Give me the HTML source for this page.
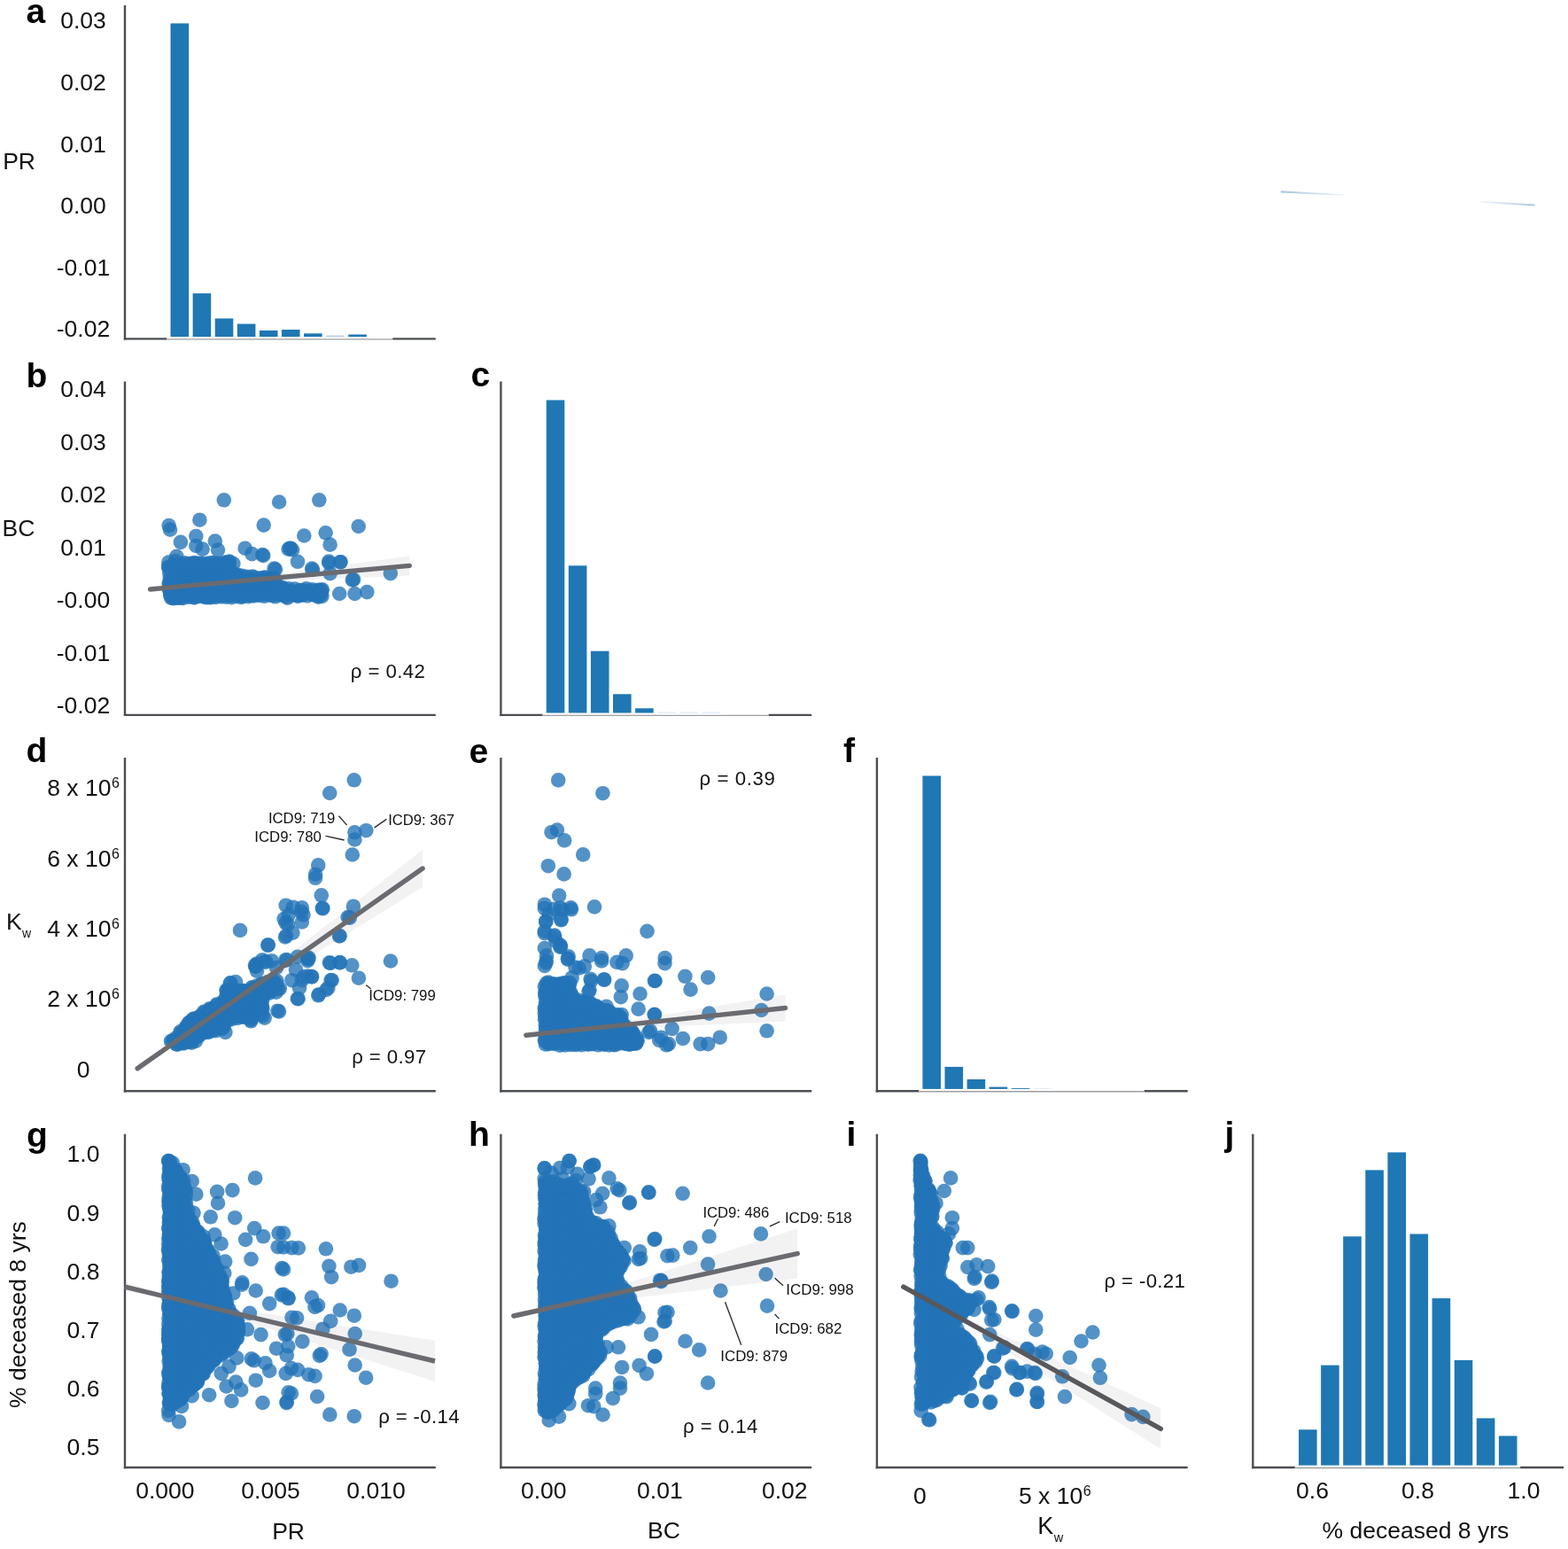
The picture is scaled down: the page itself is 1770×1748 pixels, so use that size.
<!DOCTYPE html>
<html><head><meta charset="utf-8"><style>
html,body{margin:0;padding:0;background:#fff;}
svg{display:block;}
text{font-family:'Liberation Sans', Arial, sans-serif;fill:#111;}
</style></head><body>
<svg width="1770" height="1748" viewBox="0 0 1770 1748">
<rect width="1770" height="1748" fill="#fff"/>
<line x1="141.0" y1="6.1" x2="141.0" y2="383.6" stroke="#4b4e53" stroke-width="2.4"/>
<line x1="139.8" y1="382.4" x2="188.3" y2="382.4" stroke="#4b4e53" stroke-width="2.4"/>
<line x1="443.2" y1="382.4" x2="491.8" y2="382.4" stroke="#4b4e53" stroke-width="2.4"/>
<line x1="188.3" y1="382.9" x2="443.2" y2="382.9" stroke="#9c9ea1" stroke-width="1.4"/>
<rect x="192.5" y="26.4" width="20.6" height="353.6" fill="#1f77b4"/>
<rect x="217.6" y="331.1" width="20.6" height="48.9" fill="#1f77b4"/>
<rect x="242.7" y="359.4" width="20.6" height="20.6" fill="#1f77b4"/>
<rect x="267.8" y="365.5" width="20.6" height="14.5" fill="#1f77b4"/>
<rect x="292.9" y="372.9" width="20.6" height="7.1" fill="#1f77b4"/>
<rect x="317.9" y="372.0" width="20.6" height="8.0" fill="#1f77b4"/>
<rect x="343.0" y="376.3" width="20.6" height="3.7" fill="#1f77b4"/>
<rect x="368.1" y="378.6" width="20.6" height="1.4" fill="#b3cde6"/>
<rect x="393.2" y="377.5" width="20.6" height="2.5" fill="#1f77b4"/>
<line x1="141.0" y1="430.6" x2="141.0" y2="808.1" stroke="#4b4e53" stroke-width="2.4"/>
<line x1="139.8" y1="806.9" x2="491.8" y2="806.9" stroke="#4b4e53" stroke-width="2.4"/>
<line x1="565.4" y1="430.6" x2="565.4" y2="808.1" stroke="#4b4e53" stroke-width="2.4"/>
<line x1="564.2" y1="806.9" x2="612.5" y2="806.9" stroke="#4b4e53" stroke-width="2.4"/>
<line x1="867.6" y1="806.9" x2="916.2" y2="806.9" stroke="#4b4e53" stroke-width="2.4"/>
<line x1="612.5" y1="807.4" x2="867.6" y2="807.4" stroke="#9c9ea1" stroke-width="1.4"/>
<rect x="616.7" y="451.5" width="20.6" height="353.0" fill="#1f77b4"/>
<rect x="641.8" y="638.3" width="20.6" height="166.2" fill="#1f77b4"/>
<rect x="666.9" y="734.7" width="20.6" height="69.8" fill="#1f77b4"/>
<rect x="692.0" y="783.3" width="20.6" height="21.2" fill="#1f77b4"/>
<rect x="717.1" y="799.3" width="20.6" height="5.2" fill="#1f77b4"/>
<rect x="742.2" y="803.6" width="20.6" height="0.9" fill="#cfe0f0"/>
<rect x="767.3" y="803.6" width="20.6" height="0.9" fill="#cfe0f0"/>
<rect x="792.4" y="803.6" width="20.6" height="0.9" fill="#cfe0f0"/>
<line x1="141.0" y1="855.0" x2="141.0" y2="1232.5" stroke="#4b4e53" stroke-width="2.4"/>
<line x1="139.8" y1="1231.3" x2="491.8" y2="1231.3" stroke="#4b4e53" stroke-width="2.4"/>
<line x1="565.4" y1="855.0" x2="565.4" y2="1232.5" stroke="#4b4e53" stroke-width="2.4"/>
<line x1="564.2" y1="1231.3" x2="916.2" y2="1231.3" stroke="#4b4e53" stroke-width="2.4"/>
<line x1="989.9" y1="855.0" x2="989.9" y2="1232.5" stroke="#4b4e53" stroke-width="2.4"/>
<line x1="988.7" y1="1231.3" x2="1037.2" y2="1231.3" stroke="#4b4e53" stroke-width="2.4"/>
<line x1="1291.8" y1="1231.3" x2="1340.7" y2="1231.3" stroke="#4b4e53" stroke-width="2.4"/>
<line x1="1037.2" y1="1231.8" x2="1291.8" y2="1231.8" stroke="#9c9ea1" stroke-width="1.4"/>
<rect x="1041.4" y="875.5" width="20.6" height="353.4" fill="#1f77b4"/>
<rect x="1066.5" y="1203.9" width="20.6" height="25.0" fill="#1f77b4"/>
<rect x="1091.6" y="1218.0" width="20.6" height="10.9" fill="#1f77b4"/>
<rect x="1116.6" y="1226.6" width="20.6" height="2.3" fill="#1f77b4"/>
<rect x="1141.7" y="1228.0" width="20.6" height="0.9" fill="#1f77b4"/>
<rect x="1166.8" y="1228.2" width="20.6" height="0.7" fill="#d6e3f0"/>
<line x1="141.0" y1="1279.7" x2="141.0" y2="1657.2" stroke="#4b4e53" stroke-width="2.4"/>
<line x1="139.8" y1="1656.0" x2="491.8" y2="1656.0" stroke="#4b4e53" stroke-width="2.4"/>
<line x1="565.4" y1="1279.7" x2="565.4" y2="1657.2" stroke="#4b4e53" stroke-width="2.4"/>
<line x1="564.2" y1="1656.0" x2="916.2" y2="1656.0" stroke="#4b4e53" stroke-width="2.4"/>
<line x1="989.9" y1="1279.7" x2="989.9" y2="1657.2" stroke="#4b4e53" stroke-width="2.4"/>
<line x1="988.7" y1="1656.0" x2="1340.7" y2="1656.0" stroke="#4b4e53" stroke-width="2.4"/>
<line x1="1414.3" y1="1279.7" x2="1414.3" y2="1657.2" stroke="#4b4e53" stroke-width="2.4"/>
<line x1="1413.1" y1="1656.0" x2="1461.8" y2="1656.0" stroke="#4b4e53" stroke-width="2.4"/>
<line x1="1716.1" y1="1656.0" x2="1765.1" y2="1656.0" stroke="#4b4e53" stroke-width="2.4"/>
<line x1="1461.8" y1="1656.5" x2="1716.1" y2="1656.5" stroke="#9c9ea1" stroke-width="1.4"/>
<rect x="1466.0" y="1613.3" width="20.6" height="40.3" fill="#1f77b4"/>
<rect x="1491.1" y="1540.6" width="20.6" height="113.0" fill="#1f77b4"/>
<rect x="1516.2" y="1395.3" width="20.6" height="258.3" fill="#1f77b4"/>
<rect x="1541.3" y="1320.4" width="20.6" height="333.2" fill="#1f77b4"/>
<rect x="1566.4" y="1300.4" width="20.6" height="353.2" fill="#1f77b4"/>
<rect x="1591.5" y="1392.5" width="20.6" height="261.1" fill="#1f77b4"/>
<rect x="1616.6" y="1465.1" width="20.6" height="188.5" fill="#1f77b4"/>
<rect x="1641.7" y="1534.9" width="20.6" height="118.7" fill="#1f77b4"/>
<rect x="1666.8" y="1600.4" width="20.6" height="53.2" fill="#1f77b4"/>
<rect x="1691.9" y="1620.4" width="20.6" height="33.2" fill="#1f77b4"/>
<text x="94.0" y="32.3" font-size="26.5" text-anchor="middle" font-weight="normal" >0.03</text>
<text x="94.0" y="101.9" font-size="26.5" text-anchor="middle" font-weight="normal" >0.02</text>
<text x="94.0" y="171.5" font-size="26.5" text-anchor="middle" font-weight="normal" >0.01</text>
<text x="94.0" y="241.2" font-size="26.5" text-anchor="middle" font-weight="normal" >0.00</text>
<text x="94.0" y="310.8" font-size="26.5" text-anchor="middle" font-weight="normal" >-0.01</text>
<text x="94.0" y="380.4" font-size="26.5" text-anchor="middle" font-weight="normal" >-0.02</text>
<text x="94.0" y="448.0" font-size="26.5" text-anchor="middle" font-weight="normal" >0.04</text>
<text x="94.0" y="507.6" font-size="26.5" text-anchor="middle" font-weight="normal" >0.03</text>
<text x="94.0" y="567.1" font-size="26.5" text-anchor="middle" font-weight="normal" >0.02</text>
<text x="94.0" y="626.7" font-size="26.5" text-anchor="middle" font-weight="normal" >0.01</text>
<text x="94.0" y="686.3" font-size="26.5" text-anchor="middle" font-weight="normal" >-0.00</text>
<text x="94.0" y="745.9" font-size="26.5" text-anchor="middle" font-weight="normal" >-0.01</text>
<text x="94.0" y="805.4" font-size="26.5" text-anchor="middle" font-weight="normal" >-0.02</text>
<text x="94.0" y="1311.4" font-size="26.5" text-anchor="middle" font-weight="normal" >1.0</text>
<text x="94.0" y="1377.6" font-size="26.5" text-anchor="middle" font-weight="normal" >0.9</text>
<text x="94.0" y="1443.8" font-size="26.5" text-anchor="middle" font-weight="normal" >0.8</text>
<text x="94.0" y="1510.0" font-size="26.5" text-anchor="middle" font-weight="normal" >0.7</text>
<text x="94.0" y="1576.2" font-size="26.5" text-anchor="middle" font-weight="normal" >0.6</text>
<text x="94.0" y="1642.4" font-size="26.5" text-anchor="middle" font-weight="normal" >0.5</text>
<text x="94.0" y="898.2" font-size="26.5" text-anchor="middle">8 x 10<tspan font-size="16" dy="-9" dx="0.5">6</tspan></text>
<text x="94.0" y="977.6" font-size="26.5" text-anchor="middle">6 x 10<tspan font-size="16" dy="-9" dx="0.5">6</tspan></text>
<text x="94.0" y="1056.7" font-size="26.5" text-anchor="middle">4 x 10<tspan font-size="16" dy="-9" dx="0.5">6</tspan></text>
<text x="94.0" y="1136.3" font-size="26.5" text-anchor="middle">2 x 10<tspan font-size="16" dy="-9" dx="0.5">6</tspan></text>
<text x="94.0" y="1215.5" font-size="26.5" text-anchor="middle" font-weight="normal" >0</text>
<text x="186.4" y="1690.6" font-size="26.5" text-anchor="middle" font-weight="normal" >0.000</text>
<text x="305.5" y="1690.6" font-size="26.5" text-anchor="middle" font-weight="normal" >0.005</text>
<text x="424.5" y="1690.6" font-size="26.5" text-anchor="middle" font-weight="normal" >0.010</text>
<text x="613.8" y="1690.6" font-size="26.5" text-anchor="middle" font-weight="normal" >0.00</text>
<text x="744.9" y="1690.6" font-size="26.5" text-anchor="middle" font-weight="normal" >0.01</text>
<text x="885.7" y="1690.6" font-size="26.5" text-anchor="middle" font-weight="normal" >0.02</text>
<text x="1481.5" y="1690.6" font-size="26.5" text-anchor="middle" font-weight="normal" >0.6</text>
<text x="1600.5" y="1690.6" font-size="26.5" text-anchor="middle" font-weight="normal" >0.8</text>
<text x="1720.0" y="1690.6" font-size="26.5" text-anchor="middle" font-weight="normal" >1.0</text>
<text x="1038.3" y="1696.5" font-size="26.5" text-anchor="middle" font-weight="normal" >0</text>
<text x="1150.0" y="1696.5" font-size="26.5">5 x 10<tspan font-size="16" dy="-9" dx="0.5">6</tspan></text>
<text x="3.2" y="191.0" font-size="26.5" text-anchor="start" font-weight="normal" >PR</text>
<text x="2.5" y="604.8" font-size="26.5" text-anchor="start" font-weight="normal" >BC</text>
<text x="7.0" y="1049.3" font-size="26.5">K<tspan font-size="14" dy="8.4" dx="0.3">w</tspan></text>
<text transform="translate(29.2,1483.6) rotate(-90)" font-size="26.5" text-anchor="middle">% deceased 8 yrs</text>
<text x="325.6" y="1736.6" font-size="26.5" text-anchor="middle" font-weight="normal" >PR</text>
<text x="749.4" y="1736.3" font-size="26.5" text-anchor="middle" font-weight="normal" >BC</text>
<text x="1171.2" y="1731.3" font-size="27">K<tspan font-size="14.5" dy="8.2" dx="0.6">w</tspan></text>
<text x="1597.9" y="1735.8" font-size="26.5" text-anchor="middle" font-weight="normal" >% deceased 8 yrs</text>
<text x="29.5" y="26.4" font-size="39" text-anchor="start" font-weight="bold" style="fill:#000">a</text>
<text x="29.5" y="436.7" font-size="39" text-anchor="start" font-weight="bold" style="fill:#000">b</text>
<text x="531.5" y="435.8" font-size="39" text-anchor="start" font-weight="bold" style="fill:#000">c</text>
<text x="29.5" y="859.5" font-size="39" text-anchor="start" font-weight="bold" style="fill:#000">d</text>
<text x="529.5" y="860.8" font-size="39" text-anchor="start" font-weight="bold" style="fill:#000">e</text>
<text x="952.0" y="859.5" font-size="39" text-anchor="start" font-weight="bold" style="fill:#000">f</text>
<text x="30.0" y="1294.0" font-size="39" text-anchor="start" font-weight="bold" style="fill:#000">g</text>
<text x="529.0" y="1292.7" font-size="39" text-anchor="start" font-weight="bold" style="fill:#000">h</text>
<text x="955.5" y="1292.7" font-size="39" text-anchor="start" font-weight="bold" style="fill:#000">i</text>
<text x="1382.5" y="1292.7" font-size="39" text-anchor="start" font-weight="bold" style="fill:#000">j</text>
<text x="395.8" y="764.6" font-size="22.2" textLength="84.1" lengthAdjust="spacing">ρ = 0.42</text>
<text x="397.2" y="1199.5" font-size="22.2" textLength="84.0" lengthAdjust="spacing">ρ = 0.97</text>
<text x="789.6" y="886.0" font-size="22.2" textLength="85.2" lengthAdjust="spacing">ρ = 0.39</text>
<text x="427.2" y="1606.3" font-size="22.2" textLength="91.4" lengthAdjust="spacing">ρ = -0.14</text>
<text x="771.1" y="1617.2" font-size="22.2" textLength="84.2" lengthAdjust="spacing">ρ = 0.14</text>
<text x="1246.6" y="1453.3" font-size="22.2" textLength="91.3" lengthAdjust="spacing">ρ = -0.21</text>
<g fill="#2373b7" fill-opacity="0.78">
<circle cx="206.0" cy="636.4" r="8.3"/><circle cx="215.1" cy="636.4" r="8.3"/><circle cx="219.1" cy="635.0" r="8.3"/><circle cx="226.6" cy="635.5" r="8.3"/><circle cx="235.3" cy="635.5" r="8.3"/><circle cx="240.4" cy="635.0" r="8.3"/><circle cx="245.0" cy="636.1" r="8.3"/><circle cx="253.6" cy="634.5" r="8.3"/><circle cx="197.5" cy="639.3" r="8.3"/><circle cx="199.3" cy="638.5" r="8.3"/><circle cx="204.2" cy="640.2" r="8.3"/><circle cx="208.3" cy="640.7" r="8.3"/><circle cx="213.6" cy="640.9" r="8.3"/><circle cx="219.7" cy="638.9" r="8.3"/><circle cx="222.3" cy="639.4" r="8.3"/><circle cx="226.3" cy="640.0" r="8.3"/><circle cx="230.6" cy="638.0" r="8.3"/><circle cx="237.9" cy="638.9" r="8.3"/><circle cx="241.3" cy="639.3" r="8.3"/><circle cx="244.9" cy="638.2" r="8.3"/><circle cx="251.2" cy="640.9" r="8.3"/><circle cx="255.9" cy="638.3" r="8.3"/><circle cx="258.1" cy="639.9" r="8.3"/><circle cx="192.7" cy="642.6" r="8.3"/><circle cx="195.4" cy="645.2" r="8.3"/><circle cx="201.4" cy="645.2" r="8.3"/><circle cx="206.0" cy="644.7" r="8.3"/><circle cx="210.1" cy="643.0" r="8.3"/><circle cx="213.8" cy="643.0" r="8.3"/><circle cx="219.1" cy="644.5" r="8.3"/><circle cx="222.3" cy="642.7" r="8.3"/><circle cx="228.9" cy="644.9" r="8.3"/><circle cx="232.1" cy="644.1" r="8.3"/><circle cx="237.6" cy="643.9" r="8.3"/><circle cx="240.7" cy="643.5" r="8.3"/><circle cx="244.8" cy="642.6" r="8.3"/><circle cx="250.4" cy="643.8" r="8.3"/><circle cx="254.7" cy="642.7" r="8.3"/><circle cx="258.6" cy="642.9" r="8.3"/><circle cx="196.9" cy="648.9" r="8.3"/><circle cx="199.8" cy="649.7" r="8.3"/><circle cx="206.4" cy="647.4" r="8.3"/><circle cx="210.3" cy="649.5" r="8.3"/><circle cx="214.5" cy="649.1" r="8.3"/><circle cx="218.3" cy="649.8" r="8.3"/><circle cx="224.4" cy="648.1" r="8.3"/><circle cx="228.4" cy="648.3" r="8.3"/><circle cx="231.0" cy="648.0" r="8.3"/><circle cx="235.4" cy="649.7" r="8.3"/><circle cx="242.4" cy="647.4" r="8.3"/><circle cx="245.8" cy="648.2" r="8.3"/><circle cx="248.9" cy="647.9" r="8.3"/><circle cx="253.7" cy="649.2" r="8.3"/><circle cx="257.5" cy="647.6" r="8.3"/><circle cx="263.3" cy="647.1" r="8.3"/><circle cx="268.4" cy="648.8" r="8.3"/><circle cx="193.0" cy="652.9" r="8.3"/><circle cx="197.0" cy="652.7" r="8.3"/><circle cx="201.2" cy="654.5" r="8.3"/><circle cx="204.4" cy="652.0" r="8.3"/><circle cx="209.9" cy="653.1" r="8.3"/><circle cx="213.6" cy="651.5" r="8.3"/><circle cx="218.2" cy="652.8" r="8.3"/><circle cx="222.7" cy="654.1" r="8.3"/><circle cx="227.8" cy="653.7" r="8.3"/><circle cx="233.2" cy="653.7" r="8.3"/><circle cx="236.5" cy="653.7" r="8.3"/><circle cx="241.4" cy="653.4" r="8.3"/><circle cx="245.9" cy="652.7" r="8.3"/><circle cx="250.4" cy="653.4" r="8.3"/><circle cx="255.8" cy="653.8" r="8.3"/><circle cx="260.0" cy="653.8" r="8.3"/><circle cx="264.4" cy="653.3" r="8.3"/><circle cx="267.5" cy="652.3" r="8.3"/><circle cx="273.1" cy="654.1" r="8.3"/><circle cx="277.1" cy="652.0" r="8.3"/><circle cx="282.5" cy="653.0" r="8.3"/><circle cx="285.9" cy="651.6" r="8.3"/><circle cx="290.5" cy="653.7" r="8.3"/><circle cx="294.8" cy="652.6" r="8.3"/><circle cx="300.0" cy="651.6" r="8.3"/><circle cx="304.0" cy="654.3" r="8.3"/><circle cx="309.1" cy="652.7" r="8.3"/><circle cx="191.3" cy="658.3" r="8.3"/><circle cx="196.9" cy="656.6" r="8.3"/><circle cx="200.9" cy="656.5" r="8.3"/><circle cx="206.4" cy="657.3" r="8.3"/><circle cx="210.7" cy="658.2" r="8.3"/><circle cx="214.3" cy="656.8" r="8.3"/><circle cx="218.6" cy="656.4" r="8.3"/><circle cx="221.9" cy="658.1" r="8.3"/><circle cx="227.1" cy="658.3" r="8.3"/><circle cx="231.2" cy="658.2" r="8.3"/><circle cx="237.2" cy="656.9" r="8.3"/><circle cx="239.8" cy="657.2" r="8.3"/><circle cx="245.5" cy="656.3" r="8.3"/><circle cx="249.1" cy="656.2" r="8.3"/><circle cx="254.8" cy="658.7" r="8.3"/><circle cx="258.1" cy="656.1" r="8.3"/><circle cx="264.1" cy="658.4" r="8.3"/><circle cx="269.4" cy="657.8" r="8.3"/><circle cx="272.0" cy="658.5" r="8.3"/><circle cx="275.9" cy="658.1" r="8.3"/><circle cx="280.3" cy="657.2" r="8.3"/><circle cx="286.0" cy="657.1" r="8.3"/><circle cx="289.5" cy="656.7" r="8.3"/><circle cx="296.0" cy="657.4" r="8.3"/><circle cx="299.7" cy="656.6" r="8.3"/><circle cx="304.6" cy="657.0" r="8.3"/><circle cx="308.8" cy="658.7" r="8.3"/><circle cx="192.1" cy="663.0" r="8.3"/><circle cx="196.5" cy="661.7" r="8.3"/><circle cx="200.9" cy="663.4" r="8.3"/><circle cx="205.4" cy="661.2" r="8.3"/><circle cx="208.2" cy="663.3" r="8.3"/><circle cx="214.3" cy="661.5" r="8.3"/><circle cx="218.8" cy="662.2" r="8.3"/><circle cx="223.1" cy="660.7" r="8.3"/><circle cx="227.1" cy="661.7" r="8.3"/><circle cx="231.1" cy="663.1" r="8.3"/><circle cx="236.3" cy="662.5" r="8.3"/><circle cx="241.6" cy="662.7" r="8.3"/><circle cx="246.2" cy="662.8" r="8.3"/><circle cx="249.3" cy="663.4" r="8.3"/><circle cx="253.5" cy="663.3" r="8.3"/><circle cx="260.1" cy="663.1" r="8.3"/><circle cx="262.2" cy="660.8" r="8.3"/><circle cx="268.9" cy="661.9" r="8.3"/><circle cx="272.1" cy="663.5" r="8.3"/><circle cx="275.6" cy="662.1" r="8.3"/><circle cx="281.3" cy="660.9" r="8.3"/><circle cx="285.7" cy="662.6" r="8.3"/><circle cx="291.6" cy="660.6" r="8.3"/><circle cx="295.1" cy="660.8" r="8.3"/><circle cx="300.4" cy="660.8" r="8.3"/><circle cx="302.6" cy="661.7" r="8.3"/><circle cx="309.2" cy="661.4" r="8.3"/><circle cx="311.9" cy="662.9" r="8.3"/><circle cx="318.4" cy="663.1" r="8.3"/><circle cx="192.0" cy="665.9" r="8.3"/><circle cx="195.4" cy="666.1" r="8.3"/><circle cx="200.0" cy="667.2" r="8.3"/><circle cx="205.0" cy="666.6" r="8.3"/><circle cx="208.4" cy="667.7" r="8.3"/><circle cx="213.5" cy="666.0" r="8.3"/><circle cx="217.2" cy="667.9" r="8.3"/><circle cx="222.9" cy="667.7" r="8.3"/><circle cx="228.8" cy="667.9" r="8.3"/><circle cx="232.9" cy="667.8" r="8.3"/><circle cx="237.8" cy="667.4" r="8.3"/><circle cx="239.9" cy="666.6" r="8.3"/><circle cx="245.7" cy="668.0" r="8.3"/><circle cx="250.9" cy="667.1" r="8.3"/><circle cx="255.2" cy="666.1" r="8.3"/><circle cx="260.3" cy="666.9" r="8.3"/><circle cx="263.2" cy="666.4" r="8.3"/><circle cx="269.4" cy="666.6" r="8.3"/><circle cx="271.5" cy="665.4" r="8.3"/><circle cx="277.6" cy="666.7" r="8.3"/><circle cx="282.7" cy="665.6" r="8.3"/><circle cx="285.7" cy="667.2" r="8.3"/><circle cx="289.2" cy="665.3" r="8.3"/><circle cx="295.1" cy="665.8" r="8.3"/><circle cx="298.3" cy="665.8" r="8.3"/><circle cx="304.4" cy="666.6" r="8.3"/><circle cx="307.2" cy="665.2" r="8.3"/><circle cx="314.1" cy="666.9" r="8.3"/><circle cx="316.5" cy="667.6" r="8.3"/><circle cx="320.6" cy="666.1" r="8.3"/><circle cx="327.5" cy="667.1" r="8.3"/><circle cx="330.4" cy="667.7" r="8.3"/><circle cx="335.8" cy="667.6" r="8.3"/><circle cx="341.2" cy="666.3" r="8.3"/><circle cx="345.0" cy="666.6" r="8.3"/><circle cx="350.3" cy="667.4" r="8.3"/><circle cx="354.2" cy="667.4" r="8.3"/><circle cx="359.5" cy="665.8" r="8.3"/><circle cx="361.6" cy="667.2" r="8.3"/><circle cx="192.6" cy="670.9" r="8.3"/><circle cx="195.1" cy="670.4" r="8.3"/><circle cx="201.1" cy="669.5" r="8.3"/><circle cx="203.9" cy="670.4" r="8.3"/><circle cx="210.7" cy="671.7" r="8.3"/><circle cx="215.4" cy="671.1" r="8.3"/><circle cx="218.7" cy="671.2" r="8.3"/><circle cx="223.1" cy="671.1" r="8.3"/><circle cx="228.5" cy="672.4" r="8.3"/><circle cx="231.7" cy="671.4" r="8.3"/><circle cx="235.9" cy="670.4" r="8.3"/><circle cx="241.0" cy="671.3" r="8.3"/><circle cx="245.6" cy="672.4" r="8.3"/><circle cx="249.0" cy="671.4" r="8.3"/><circle cx="256.0" cy="671.7" r="8.3"/><circle cx="259.2" cy="670.6" r="8.3"/><circle cx="263.2" cy="672.3" r="8.3"/><circle cx="269.2" cy="671.5" r="8.3"/><circle cx="273.7" cy="672.3" r="8.3"/><circle cx="278.0" cy="670.7" r="8.3"/><circle cx="281.4" cy="671.9" r="8.3"/><circle cx="285.6" cy="671.7" r="8.3"/><circle cx="290.4" cy="670.5" r="8.3"/><circle cx="294.9" cy="669.8" r="8.3"/><circle cx="299.1" cy="670.7" r="8.3"/><circle cx="302.6" cy="670.0" r="8.3"/><circle cx="307.8" cy="672.1" r="8.3"/><circle cx="313.3" cy="670.4" r="8.3"/><circle cx="319.0" cy="670.3" r="8.3"/><circle cx="322.0" cy="671.7" r="8.3"/><circle cx="327.1" cy="670.8" r="8.3"/><circle cx="331.8" cy="671.0" r="8.3"/><circle cx="336.1" cy="671.0" r="8.3"/><circle cx="341.4" cy="671.6" r="8.3"/><circle cx="343.3" cy="669.9" r="8.3"/><circle cx="350.4" cy="670.2" r="8.3"/><circle cx="352.1" cy="670.3" r="8.3"/><circle cx="357.9" cy="672.4" r="8.3"/><circle cx="362.2" cy="671.7" r="8.3"/><circle cx="192.9" cy="674.3" r="8.3"/><circle cx="196.2" cy="675.3" r="8.3"/><circle cx="201.0" cy="674.4" r="8.3"/><circle cx="204.3" cy="674.8" r="8.3"/><circle cx="219.0" cy="674.3" r="8.3"/><circle cx="233.2" cy="674.3" r="8.3"/><circle cx="237.6" cy="674.3" r="8.3"/><circle cx="272.5" cy="674.0" r="8.3"/><circle cx="195.2" cy="637.6" r="8.3"/><circle cx="201.6" cy="637.4" r="8.3"/><circle cx="208.4" cy="635.3" r="8.3"/><circle cx="214.1" cy="636.0" r="8.3"/><circle cx="220.9" cy="635.6" r="8.3"/><circle cx="226.7" cy="636.3" r="8.3"/><circle cx="233.6" cy="636.4" r="8.3"/><circle cx="240.1" cy="635.5" r="8.3"/><circle cx="246.3" cy="635.8" r="8.3"/><circle cx="252.5" cy="636.1" r="8.3"/><circle cx="258.8" cy="633.6" r="8.3"/><circle cx="258.6" cy="634.3" r="8.3"/><circle cx="259.3" cy="641.7" r="8.3"/><circle cx="267.3" cy="649.9" r="8.3"/><circle cx="273.4" cy="649.8" r="8.3"/><circle cx="279.1" cy="650.7" r="8.3"/><circle cx="285.2" cy="650.5" r="8.3"/><circle cx="291.4" cy="652.5" r="8.3"/><circle cx="297.9" cy="651.9" r="8.3"/><circle cx="303.4" cy="653.0" r="8.3"/><circle cx="309.8" cy="653.1" r="8.3"/><circle cx="311.3" cy="657.3" r="8.3"/><circle cx="319.8" cy="663.9" r="8.3"/><circle cx="326.0" cy="664.3" r="8.3"/><circle cx="332.8" cy="664.6" r="8.3"/><circle cx="338.8" cy="666.1" r="8.3"/><circle cx="345.7" cy="664.3" r="8.3"/><circle cx="352.4" cy="665.4" r="8.3"/><circle cx="358.4" cy="666.6" r="8.3"/><circle cx="363.8" cy="665.4" r="8.3"/><circle cx="363.4" cy="672.9" r="8.3"/><circle cx="359.3" cy="672.2" r="8.3"/><circle cx="353.6" cy="671.2" r="8.3"/><circle cx="347.1" cy="672.5" r="8.3"/><circle cx="341.6" cy="670.7" r="8.3"/><circle cx="335.3" cy="672.3" r="8.3"/><circle cx="329.1" cy="671.0" r="8.3"/><circle cx="323.2" cy="673.6" r="8.3"/><circle cx="316.9" cy="671.2" r="8.3"/><circle cx="310.9" cy="673.3" r="8.3"/><circle cx="304.3" cy="671.5" r="8.3"/><circle cx="298.4" cy="672.8" r="8.3"/><circle cx="292.5" cy="671.9" r="8.3"/><circle cx="286.4" cy="672.4" r="8.3"/><circle cx="280.4" cy="673.1" r="8.3"/><circle cx="273.9" cy="672.7" r="8.3"/><circle cx="267.9" cy="673.2" r="8.3"/><circle cx="261.4" cy="674.2" r="8.3"/><circle cx="255.5" cy="673.7" r="8.3"/><circle cx="250.0" cy="673.4" r="8.3"/><circle cx="243.5" cy="673.9" r="8.3"/><circle cx="237.3" cy="673.4" r="8.3"/><circle cx="231.2" cy="673.8" r="8.3"/><circle cx="225.0" cy="672.9" r="8.3"/><circle cx="219.3" cy="674.1" r="8.3"/><circle cx="213.1" cy="673.7" r="8.3"/><circle cx="206.6" cy="674.9" r="8.3"/><circle cx="200.7" cy="674.6" r="8.3"/><circle cx="194.4" cy="675.0" r="8.3"/><circle cx="192.2" cy="671.2" r="8.3"/><circle cx="190.8" cy="665.1" r="8.3"/><circle cx="190.6" cy="658.5" r="8.3"/><circle cx="191.7" cy="652.8" r="8.3"/><circle cx="191.2" cy="646.5" r="8.3"/><circle cx="190.2" cy="640.2" r="8.3"/><circle cx="252.8" cy="564.3" r="8.3"/><circle cx="315.1" cy="566.5" r="8.3"/><circle cx="360.3" cy="564.3" r="8.3"/><circle cx="225.4" cy="586.7" r="8.3"/><circle cx="297.7" cy="592.6" r="8.3"/><circle cx="404.7" cy="594.0" r="8.3"/><circle cx="190.6" cy="593.1" r="8.3"/><circle cx="192.0" cy="597.7" r="8.3"/><circle cx="203.9" cy="611.9" r="8.3"/><circle cx="221.3" cy="605.0" r="8.3"/><circle cx="242.8" cy="610.5" r="8.3"/><circle cx="221.3" cy="616.0" r="8.3"/><circle cx="228.6" cy="619.6" r="8.3"/><circle cx="246.0" cy="620.5" r="8.3"/><circle cx="276.6" cy="618.7" r="8.3"/><circle cx="284.4" cy="625.1" r="8.3"/><circle cx="297.2" cy="627.0" r="8.3"/><circle cx="325.6" cy="619.6" r="8.3"/><circle cx="263.4" cy="636.1" r="8.3"/><circle cx="311.0" cy="642.5" r="8.3"/><circle cx="199.3" cy="627.9" r="8.3"/><circle cx="343.3" cy="604.5" r="8.3"/><circle cx="367.6" cy="601.3" r="8.3"/><circle cx="372.6" cy="614.6" r="8.3"/><circle cx="328.2" cy="618.7" r="8.3"/><circle cx="330.1" cy="620.5" r="8.3"/><circle cx="336.0" cy="633.8" r="8.3"/><circle cx="353.0" cy="643.0" r="8.3"/><circle cx="371.3" cy="635.2" r="8.3"/><circle cx="384.1" cy="634.3" r="8.3"/><circle cx="372.6" cy="647.1" r="8.3"/><circle cx="397.8" cy="654.4" r="8.3"/><circle cx="400.5" cy="670.0" r="8.3"/><circle cx="383.2" cy="670.0" r="8.3"/><circle cx="414.3" cy="668.1" r="8.3"/><circle cx="440.8" cy="647.1" r="8.3"/><circle cx="359.4" cy="673.6" r="8.3"/><circle cx="363.0" cy="666.3" r="8.3"/><circle cx="336.5" cy="672.7" r="8.3"/><circle cx="324.6" cy="674.6" r="8.3"/><circle cx="309.5" cy="641.6" r="8.3"/><circle cx="296.3" cy="626.0" r="8.3"/><circle cx="399.1" cy="654.0" r="8.3"/><circle cx="384.5" cy="634.2" r="8.3"/><circle cx="327.2" cy="618.8" r="8.3"/><circle cx="352.1" cy="641.6" r="8.3"/><circle cx="371.2" cy="633.5" r="8.3"/><circle cx="190.3" cy="634.5" r="8.3"/><circle cx="190.3" cy="640.0" r="8.3"/><circle cx="198.0" cy="633.0" r="8.3"/>
</g>
<polygon points="169.5,661.9 174.4,661.7 179.3,661.5 184.1,661.2 189.0,661.0 193.9,660.8 198.8,660.5 203.7,660.3 208.5,660.0 213.4,659.7 218.3,659.4 223.2,659.1 228.1,658.7 232.9,658.2 237.8,657.7 242.7,657.2 247.6,656.6 252.5,656.0 257.3,655.4 262.2,654.8 267.1,654.1 272.0,653.5 276.9,652.8 281.7,652.2 286.6,651.5 291.5,650.9 296.4,650.2 301.3,649.5 306.1,648.9 311.0,648.2 315.9,647.5 320.8,646.9 325.7,646.2 330.5,645.5 335.4,644.9 340.3,644.2 345.2,643.5 350.1,642.8 354.9,642.2 359.8,641.5 364.7,640.8 369.6,640.2 374.5,639.5 379.3,638.8 384.2,638.1 389.1,637.5 394.0,636.8 398.9,636.1 403.7,635.4 408.6,634.8 413.5,634.1 418.4,633.4 423.3,632.7 428.1,632.1 433.0,631.4 437.9,630.7 442.8,630.1 447.7,629.4 452.5,628.7 457.4,628.0 462.3,627.4 462.3,649.4 457.4,649.7 452.5,649.9 447.7,650.1 442.8,650.3 437.9,650.5 433.0,650.7 428.1,650.9 423.3,651.1 418.4,651.4 413.5,651.6 408.6,651.8 403.7,652.0 398.9,652.2 394.0,652.4 389.1,652.6 384.2,652.8 379.3,653.1 374.5,653.3 369.6,653.5 364.7,653.7 359.8,653.9 354.9,654.1 350.1,654.3 345.2,654.6 340.3,654.8 335.4,655.0 330.5,655.2 325.7,655.4 320.8,655.6 315.9,655.9 311.0,656.1 306.1,656.3 301.3,656.5 296.4,656.7 291.5,657.0 286.6,657.2 281.7,657.4 276.9,657.6 272.0,657.9 267.1,658.1 262.2,658.4 257.3,658.6 252.5,658.9 247.6,659.2 242.7,659.5 237.8,659.8 232.9,660.2 228.1,660.7 223.2,661.2 218.3,661.7 213.4,662.3 208.5,662.9 203.7,663.5 198.8,664.2 193.9,664.8 189.0,665.5 184.1,666.1 179.3,666.8 174.4,667.4 169.5,668.1" fill="#6a6b70" fill-opacity="0.085"/>
<line x1="169.5" y1="665" x2="462.3" y2="638.4" stroke="#6a6b70" stroke-width="5.4" stroke-linecap="round"/>
<g fill="#2373b7" fill-opacity="0.78">
<circle cx="312.5" cy="1107.1" r="8.3"/><circle cx="295.0" cy="1110.7" r="8.3"/><circle cx="298.7" cy="1110.5" r="8.3"/><circle cx="302.9" cy="1111.0" r="8.3"/><circle cx="307.7" cy="1111.6" r="8.3"/><circle cx="311.9" cy="1110.4" r="8.3"/><circle cx="284.8" cy="1115.1" r="8.3"/><circle cx="289.4" cy="1116.1" r="8.3"/><circle cx="292.7" cy="1114.1" r="8.3"/><circle cx="299.8" cy="1115.3" r="8.3"/><circle cx="303.4" cy="1115.4" r="8.3"/><circle cx="306.7" cy="1114.7" r="8.3"/><circle cx="311.1" cy="1114.0" r="8.3"/><circle cx="256.5" cy="1118.2" r="8.3"/><circle cx="263.2" cy="1120.6" r="8.3"/><circle cx="265.7" cy="1118.0" r="8.3"/><circle cx="271.6" cy="1119.0" r="8.3"/><circle cx="274.6" cy="1118.0" r="8.3"/><circle cx="279.6" cy="1118.6" r="8.3"/><circle cx="284.4" cy="1119.7" r="8.3"/><circle cx="288.8" cy="1118.7" r="8.3"/><circle cx="293.1" cy="1120.7" r="8.3"/><circle cx="297.7" cy="1119.7" r="8.3"/><circle cx="302.9" cy="1119.0" r="8.3"/><circle cx="307.2" cy="1118.0" r="8.3"/><circle cx="257.8" cy="1123.2" r="8.3"/><circle cx="263.5" cy="1125.1" r="8.3"/><circle cx="268.2" cy="1124.3" r="8.3"/><circle cx="270.3" cy="1122.7" r="8.3"/><circle cx="276.9" cy="1125.2" r="8.3"/><circle cx="280.6" cy="1125.3" r="8.3"/><circle cx="286.3" cy="1124.8" r="8.3"/><circle cx="289.1" cy="1123.9" r="8.3"/><circle cx="293.6" cy="1123.7" r="8.3"/><circle cx="298.4" cy="1122.6" r="8.3"/><circle cx="254.9" cy="1127.6" r="8.3"/><circle cx="257.2" cy="1129.5" r="8.3"/><circle cx="262.0" cy="1128.2" r="8.3"/><circle cx="266.6" cy="1127.1" r="8.3"/><circle cx="272.8" cy="1129.1" r="8.3"/><circle cx="274.5" cy="1127.3" r="8.3"/><circle cx="279.4" cy="1128.1" r="8.3"/><circle cx="286.2" cy="1127.4" r="8.3"/><circle cx="288.7" cy="1127.9" r="8.3"/><circle cx="294.0" cy="1129.7" r="8.3"/><circle cx="245.2" cy="1133.2" r="8.3"/><circle cx="250.5" cy="1133.3" r="8.3"/><circle cx="254.7" cy="1133.2" r="8.3"/><circle cx="257.9" cy="1132.7" r="8.3"/><circle cx="261.2" cy="1131.7" r="8.3"/><circle cx="267.5" cy="1134.1" r="8.3"/><circle cx="270.1" cy="1132.0" r="8.3"/><circle cx="275.5" cy="1132.4" r="8.3"/><circle cx="281.5" cy="1132.3" r="8.3"/><circle cx="284.4" cy="1133.0" r="8.3"/><circle cx="290.9" cy="1132.4" r="8.3"/><circle cx="294.4" cy="1131.6" r="8.3"/><circle cx="240.7" cy="1138.5" r="8.3"/><circle cx="244.3" cy="1138.1" r="8.3"/><circle cx="249.5" cy="1136.9" r="8.3"/><circle cx="252.3" cy="1138.3" r="8.3"/><circle cx="257.6" cy="1136.5" r="8.3"/><circle cx="262.3" cy="1138.5" r="8.3"/><circle cx="268.4" cy="1137.7" r="8.3"/><circle cx="272.9" cy="1136.5" r="8.3"/><circle cx="276.0" cy="1136.0" r="8.3"/><circle cx="279.7" cy="1138.6" r="8.3"/><circle cx="283.7" cy="1138.0" r="8.3"/><circle cx="289.5" cy="1139.0" r="8.3"/><circle cx="295.5" cy="1136.4" r="8.3"/><circle cx="230.0" cy="1141.8" r="8.3"/><circle cx="236.6" cy="1140.6" r="8.3"/><circle cx="239.1" cy="1143.4" r="8.3"/><circle cx="244.3" cy="1141.7" r="8.3"/><circle cx="250.2" cy="1142.8" r="8.3"/><circle cx="252.5" cy="1142.3" r="8.3"/><circle cx="257.0" cy="1142.8" r="8.3"/><circle cx="262.7" cy="1142.9" r="8.3"/><circle cx="265.7" cy="1143.3" r="8.3"/><circle cx="270.7" cy="1143.0" r="8.3"/><circle cx="275.8" cy="1143.2" r="8.3"/><circle cx="279.3" cy="1140.7" r="8.3"/><circle cx="284.9" cy="1143.3" r="8.3"/><circle cx="289.4" cy="1142.0" r="8.3"/><circle cx="293.0" cy="1142.1" r="8.3"/><circle cx="226.6" cy="1146.6" r="8.3"/><circle cx="230.4" cy="1147.5" r="8.3"/><circle cx="236.9" cy="1146.7" r="8.3"/><circle cx="240.4" cy="1147.2" r="8.3"/><circle cx="244.0" cy="1146.8" r="8.3"/><circle cx="248.9" cy="1146.5" r="8.3"/><circle cx="253.2" cy="1146.6" r="8.3"/><circle cx="257.2" cy="1145.7" r="8.3"/><circle cx="261.6" cy="1146.8" r="8.3"/><circle cx="266.2" cy="1147.3" r="8.3"/><circle cx="272.7" cy="1147.3" r="8.3"/><circle cx="275.5" cy="1147.8" r="8.3"/><circle cx="280.0" cy="1146.1" r="8.3"/><circle cx="285.3" cy="1147.0" r="8.3"/><circle cx="217.6" cy="1151.4" r="8.3"/><circle cx="222.6" cy="1152.4" r="8.3"/><circle cx="227.8" cy="1150.1" r="8.3"/><circle cx="230.0" cy="1152.4" r="8.3"/><circle cx="234.5" cy="1152.4" r="8.3"/><circle cx="238.9" cy="1151.3" r="8.3"/><circle cx="243.4" cy="1149.9" r="8.3"/><circle cx="248.5" cy="1151.9" r="8.3"/><circle cx="254.1" cy="1150.5" r="8.3"/><circle cx="256.9" cy="1150.6" r="8.3"/><circle cx="261.5" cy="1150.2" r="8.3"/><circle cx="213.1" cy="1154.6" r="8.3"/><circle cx="216.2" cy="1154.7" r="8.3"/><circle cx="220.6" cy="1156.0" r="8.3"/><circle cx="226.4" cy="1155.8" r="8.3"/><circle cx="231.2" cy="1154.2" r="8.3"/><circle cx="236.4" cy="1156.5" r="8.3"/><circle cx="238.5" cy="1155.3" r="8.3"/><circle cx="245.4" cy="1155.2" r="8.3"/><circle cx="250.1" cy="1156.1" r="8.3"/><circle cx="209.7" cy="1158.8" r="8.3"/><circle cx="213.5" cy="1158.8" r="8.3"/><circle cx="217.5" cy="1161.2" r="8.3"/><circle cx="221.2" cy="1159.4" r="8.3"/><circle cx="226.8" cy="1160.2" r="8.3"/><circle cx="231.2" cy="1159.7" r="8.3"/><circle cx="234.1" cy="1160.3" r="8.3"/><circle cx="239.3" cy="1160.4" r="8.3"/><circle cx="244.3" cy="1159.3" r="8.3"/><circle cx="250.5" cy="1159.5" r="8.3"/><circle cx="207.0" cy="1163.8" r="8.3"/><circle cx="214.4" cy="1165.1" r="8.3"/><circle cx="217.7" cy="1163.3" r="8.3"/><circle cx="222.6" cy="1164.8" r="8.3"/><circle cx="226.9" cy="1165.1" r="8.3"/><circle cx="232.3" cy="1164.3" r="8.3"/><circle cx="235.8" cy="1164.6" r="8.3"/><circle cx="243.6" cy="1163.2" r="8.3"/><circle cx="204.6" cy="1170.4" r="8.3"/><circle cx="208.6" cy="1167.8" r="8.3"/><circle cx="213.6" cy="1170.2" r="8.3"/><circle cx="218.3" cy="1167.5" r="8.3"/><circle cx="221.4" cy="1169.8" r="8.3"/><circle cx="196.2" cy="1174.3" r="8.3"/><circle cx="199.4" cy="1174.3" r="8.3"/><circle cx="203.4" cy="1174.4" r="8.3"/><circle cx="208.2" cy="1174.9" r="8.3"/><circle cx="211.6" cy="1173.7" r="8.3"/><circle cx="216.4" cy="1174.3" r="8.3"/><circle cx="200.4" cy="1178.6" r="8.3"/><circle cx="203.4" cy="1177.2" r="8.3"/><circle cx="216.3" cy="1176.7" r="8.3"/><circle cx="193.0" cy="1174.9" r="8.3"/><circle cx="198.5" cy="1171.4" r="8.3"/><circle cx="203.7" cy="1165.6" r="8.3"/><circle cx="203.7" cy="1164.2" r="8.3"/><circle cx="210.0" cy="1160.3" r="8.3"/><circle cx="213.5" cy="1153.9" r="8.3"/><circle cx="219.3" cy="1149.5" r="8.3"/><circle cx="217.7" cy="1150.1" r="8.3"/><circle cx="224.5" cy="1147.6" r="8.3"/><circle cx="230.7" cy="1142.6" r="8.3"/><circle cx="236.5" cy="1138.3" r="8.3"/><circle cx="236.7" cy="1139.6" r="8.3"/><circle cx="244.0" cy="1134.5" r="8.3"/><circle cx="251.9" cy="1130.2" r="8.3"/><circle cx="255.4" cy="1124.2" r="8.3"/><circle cx="257.5" cy="1116.8" r="8.3"/><circle cx="255.4" cy="1117.3" r="8.3"/><circle cx="262.1" cy="1118.0" r="8.3"/><circle cx="267.7" cy="1117.8" r="8.3"/><circle cx="274.6" cy="1118.0" r="8.3"/><circle cx="278.9" cy="1119.0" r="8.3"/><circle cx="284.4" cy="1114.4" r="8.3"/><circle cx="290.4" cy="1112.2" r="8.3"/><circle cx="296.7" cy="1110.0" r="8.3"/><circle cx="303.1" cy="1108.4" r="8.3"/><circle cx="301.8" cy="1108.4" r="8.3"/><circle cx="309.3" cy="1107.7" r="8.3"/><circle cx="315.8" cy="1115.4" r="8.3"/><circle cx="314.0" cy="1116.1" r="8.3"/><circle cx="311.8" cy="1119.6" r="8.3"/><circle cx="304.0" cy="1120.6" r="8.3"/><circle cx="296.4" cy="1127.7" r="8.3"/><circle cx="296.0" cy="1135.7" r="8.3"/><circle cx="296.4" cy="1139.1" r="8.3"/><circle cx="293.8" cy="1144.2" r="8.3"/><circle cx="291.8" cy="1142.8" r="8.3"/><circle cx="286.6" cy="1145.9" r="8.3"/><circle cx="284.4" cy="1148.8" r="8.3"/><circle cx="278.2" cy="1147.8" r="8.3"/><circle cx="272.1" cy="1146.8" r="8.3"/><circle cx="268.2" cy="1148.9" r="8.3"/><circle cx="257.4" cy="1151.0" r="8.3"/><circle cx="252.8" cy="1157.7" r="8.3"/><circle cx="251.3" cy="1160.7" r="8.3"/><circle cx="245.3" cy="1160.7" r="8.3"/><circle cx="238.9" cy="1163.3" r="8.3"/><circle cx="233.5" cy="1164.8" r="8.3"/><circle cx="229.9" cy="1165.3" r="8.3"/><circle cx="225.1" cy="1168.4" r="8.3"/><circle cx="223.5" cy="1169.4" r="8.3"/><circle cx="220.9" cy="1175.0" r="8.3"/><circle cx="213.9" cy="1175.6" r="8.3"/><circle cx="206.3" cy="1177.0" r="8.3"/><circle cx="207.5" cy="1177.5" r="8.3"/><circle cx="199.0" cy="1178.3" r="8.3"/><circle cx="194.6" cy="1174.9" r="8.3"/><circle cx="399.7" cy="880.3" r="8.3"/><circle cx="372.2" cy="895.0" r="8.3"/><circle cx="400.4" cy="939.3" r="8.3"/><circle cx="413.3" cy="937.2" r="8.3"/><circle cx="400.4" cy="947.5" r="8.3"/><circle cx="397.8" cy="964.5" r="8.3"/><circle cx="359.2" cy="976.4" r="8.3"/><circle cx="356.1" cy="986.7" r="8.3"/><circle cx="362.8" cy="1010.3" r="8.3"/><circle cx="363.8" cy="1024.8" r="8.3"/><circle cx="322.7" cy="1021.7" r="8.3"/><circle cx="330.9" cy="1023.7" r="8.3"/><circle cx="340.2" cy="1028.9" r="8.3"/><circle cx="320.6" cy="1037.1" r="8.3"/><circle cx="398.9" cy="1022.7" r="8.3"/><circle cx="392.7" cy="1035.1" r="8.3"/><circle cx="356.0" cy="990.8" r="8.3"/><circle cx="364.4" cy="1025.2" r="8.3"/><circle cx="340.8" cy="1024.4" r="8.3"/><circle cx="342.4" cy="1032.4" r="8.3"/><circle cx="340.8" cy="1040.5" r="8.3"/><circle cx="383.2" cy="1056.5" r="8.3"/><circle cx="440.9" cy="1084.5" r="8.3"/><circle cx="372.8" cy="1086.9" r="8.3"/><circle cx="383.6" cy="1086.1" r="8.3"/><circle cx="397.3" cy="1089.3" r="8.3"/><circle cx="404.9" cy="1103.7" r="8.3"/><circle cx="348.0" cy="1082.1" r="8.3"/><circle cx="352.0" cy="1102.1" r="8.3"/><circle cx="373.6" cy="1106.1" r="8.3"/><circle cx="370.4" cy="1114.9" r="8.3"/><circle cx="360.0" cy="1122.2" r="8.3"/><circle cx="340.8" cy="1106.1" r="8.3"/><circle cx="271.0" cy="1049.8" r="8.3"/><circle cx="302.7" cy="1066.2" r="8.3"/><circle cx="322.5" cy="1041.3" r="8.3"/><circle cx="323.1" cy="1056.0" r="8.3"/><circle cx="330.4" cy="1052.6" r="8.3"/><circle cx="325.9" cy="1032.3" r="8.3"/><circle cx="288.6" cy="1091.0" r="8.3"/><circle cx="298.8" cy="1085.4" r="8.3"/><circle cx="306.7" cy="1084.2" r="8.3"/><circle cx="289.7" cy="1087.6" r="8.3"/><circle cx="323.6" cy="1083.1" r="8.3"/><circle cx="336.0" cy="1079.7" r="8.3"/><circle cx="348.5" cy="1080.8" r="8.3"/><circle cx="347.3" cy="1084.2" r="8.3"/><circle cx="351.9" cy="1102.3" r="8.3"/><circle cx="342.8" cy="1102.3" r="8.3"/><circle cx="336.6" cy="1127.2" r="8.3"/><circle cx="313.4" cy="1140.7" r="8.3"/><circle cx="296.5" cy="1146.4" r="8.3"/><circle cx="282.9" cy="1150.9" r="8.3"/><circle cx="260.3" cy="1109.1" r="8.3"/><circle cx="266.0" cy="1108.0" r="8.3"/><circle cx="288.0" cy="1089.4" r="8.3"/><circle cx="296.2" cy="1083.2" r="8.3"/><circle cx="290.0" cy="1095.6" r="8.3"/><circle cx="302.4" cy="1066.8" r="8.3"/><circle cx="322.0" cy="1057.5" r="8.3"/><circle cx="325.0" cy="1043.1" r="8.3"/><circle cx="383.5" cy="1056.0" r="8.3"/><circle cx="394.8" cy="1035.6" r="8.3"/><circle cx="259.8" cy="1109.8" r="8.3"/><circle cx="288.8" cy="1089.9" r="8.3"/><circle cx="300.5" cy="1085.4" r="8.3"/><circle cx="322.2" cy="1083.6" r="8.3"/><circle cx="347.5" cy="1081.8" r="8.3"/><circle cx="347.5" cy="1101.6" r="8.3"/><circle cx="374.6" cy="1106.2" r="8.3"/><circle cx="368.3" cy="1117.0" r="8.3"/><circle cx="359.3" cy="1123.3" r="8.3"/><circle cx="335.8" cy="1127.0" r="8.3"/><circle cx="315.0" cy="1141.4" r="8.3"/><circle cx="298.7" cy="1148.6" r="8.3"/><circle cx="283.3" cy="1152.3" r="8.3"/><circle cx="254.4" cy="1164.9" r="8.3"/><circle cx="371.9" cy="1086.3" r="8.3"/><circle cx="383.7" cy="1086.3" r="8.3"/><circle cx="334.0" cy="1094.4" r="8.3"/><circle cx="329.4" cy="1106.2" r="8.3"/><circle cx="338.0" cy="1115.0" r="8.3"/><circle cx="312.0" cy="1092.0" r="8.3"/>
</g>
<polygon points="155.1,1200.3 160.5,1197.0 165.8,1193.6 171.2,1190.3 176.6,1186.9 181.9,1183.6 187.3,1180.2 192.7,1176.8 198.0,1173.4 203.4,1169.9 208.8,1166.4 214.1,1162.8 219.5,1159.1 224.9,1155.3 230.2,1151.4 235.6,1147.4 241.0,1143.3 246.3,1139.2 251.7,1135.0 257.1,1130.9 262.4,1126.7 267.8,1122.6 273.2,1118.4 278.5,1114.2 283.9,1110.0 289.3,1105.8 294.6,1101.6 300.0,1097.5 305.4,1093.3 310.7,1089.1 316.1,1084.9 321.5,1080.7 326.8,1076.5 332.2,1072.3 337.6,1068.1 342.9,1063.9 348.3,1059.7 353.7,1055.5 359.0,1051.3 364.4,1047.1 369.8,1042.9 375.1,1038.7 380.5,1034.5 385.9,1030.3 391.2,1026.1 396.6,1021.9 402.0,1017.7 407.3,1013.5 412.7,1009.3 418.1,1005.1 423.4,1000.9 428.8,996.7 434.2,992.5 439.5,988.3 444.9,984.1 450.3,979.9 455.6,975.7 461.0,971.5 466.4,967.3 471.7,963.1 477.1,958.9 477.1,1001.1 471.7,1004.4 466.4,1007.7 461.0,1011.0 455.6,1014.4 450.3,1017.7 444.9,1021.0 439.5,1024.3 434.2,1027.7 428.8,1031.0 423.4,1034.3 418.1,1037.7 412.7,1041.0 407.3,1044.3 402.0,1047.6 396.6,1051.0 391.2,1054.3 385.9,1057.6 380.5,1061.0 375.1,1064.3 369.8,1067.6 364.4,1070.9 359.0,1074.3 353.7,1077.6 348.3,1080.9 342.9,1084.3 337.6,1087.6 332.2,1090.9 326.8,1094.3 321.5,1097.6 316.1,1100.9 310.7,1104.3 305.4,1107.6 300.0,1110.9 294.6,1114.3 289.3,1117.6 283.9,1120.9 278.5,1124.3 273.2,1127.6 267.8,1131.0 262.4,1134.3 257.1,1137.7 251.7,1141.1 246.3,1144.5 241.0,1147.9 235.6,1151.3 230.2,1154.8 224.9,1158.4 219.5,1162.1 214.1,1166.0 208.8,1169.9 203.4,1173.9 198.0,1178.0 192.7,1182.1 187.3,1186.2 181.9,1190.4 176.6,1194.6 171.2,1198.7 165.8,1202.9 160.5,1207.1 155.1,1211.3" fill="#6a6b70" fill-opacity="0.085"/>
<line x1="155.1" y1="1205.8" x2="477.1" y2="980.0" stroke="#6a6b70" stroke-width="5.4" stroke-linecap="round"/>
<g fill="#2373b7" fill-opacity="0.78">
<circle cx="616.8" cy="1109.6" r="8.3"/><circle cx="619.2" cy="1110.5" r="8.3"/><circle cx="624.6" cy="1110.4" r="8.3"/><circle cx="633.2" cy="1110.0" r="8.3"/><circle cx="637.4" cy="1109.1" r="8.3"/><circle cx="617.2" cy="1115.8" r="8.3"/><circle cx="619.8" cy="1114.0" r="8.3"/><circle cx="625.7" cy="1114.0" r="8.3"/><circle cx="629.6" cy="1115.1" r="8.3"/><circle cx="635.1" cy="1115.3" r="8.3"/><circle cx="637.6" cy="1114.1" r="8.3"/><circle cx="641.5" cy="1115.4" r="8.3"/><circle cx="615.2" cy="1120.3" r="8.3"/><circle cx="620.5" cy="1119.0" r="8.3"/><circle cx="624.1" cy="1118.4" r="8.3"/><circle cx="630.2" cy="1118.5" r="8.3"/><circle cx="632.7" cy="1118.7" r="8.3"/><circle cx="638.8" cy="1120.3" r="8.3"/><circle cx="643.8" cy="1119.0" r="8.3"/><circle cx="615.3" cy="1123.8" r="8.3"/><circle cx="620.3" cy="1122.6" r="8.3"/><circle cx="624.8" cy="1122.3" r="8.3"/><circle cx="630.2" cy="1123.2" r="8.3"/><circle cx="634.3" cy="1124.3" r="8.3"/><circle cx="637.5" cy="1124.8" r="8.3"/><circle cx="644.3" cy="1123.5" r="8.3"/><circle cx="646.0" cy="1123.9" r="8.3"/><circle cx="620.0" cy="1127.7" r="8.3"/><circle cx="623.8" cy="1126.8" r="8.3"/><circle cx="629.2" cy="1128.1" r="8.3"/><circle cx="634.9" cy="1128.5" r="8.3"/><circle cx="637.4" cy="1128.3" r="8.3"/><circle cx="643.8" cy="1127.2" r="8.3"/><circle cx="646.7" cy="1127.3" r="8.3"/><circle cx="616.6" cy="1131.6" r="8.3"/><circle cx="621.4" cy="1131.1" r="8.3"/><circle cx="624.3" cy="1131.0" r="8.3"/><circle cx="629.9" cy="1132.8" r="8.3"/><circle cx="634.7" cy="1133.4" r="8.3"/><circle cx="639.5" cy="1132.3" r="8.3"/><circle cx="642.4" cy="1132.8" r="8.3"/><circle cx="647.3" cy="1131.6" r="8.3"/><circle cx="651.6" cy="1132.2" r="8.3"/><circle cx="657.5" cy="1131.2" r="8.3"/><circle cx="661.5" cy="1133.1" r="8.3"/><circle cx="666.5" cy="1132.7" r="8.3"/><circle cx="615.2" cy="1137.5" r="8.3"/><circle cx="619.2" cy="1137.7" r="8.3"/><circle cx="625.1" cy="1136.3" r="8.3"/><circle cx="630.2" cy="1135.7" r="8.3"/><circle cx="632.9" cy="1137.8" r="8.3"/><circle cx="638.6" cy="1136.1" r="8.3"/><circle cx="642.5" cy="1138.0" r="8.3"/><circle cx="646.3" cy="1135.7" r="8.3"/><circle cx="651.8" cy="1136.1" r="8.3"/><circle cx="656.8" cy="1136.2" r="8.3"/><circle cx="659.9" cy="1137.3" r="8.3"/><circle cx="666.7" cy="1137.1" r="8.3"/><circle cx="671.2" cy="1138.5" r="8.3"/><circle cx="675.1" cy="1137.2" r="8.3"/><circle cx="615.7" cy="1141.1" r="8.3"/><circle cx="619.3" cy="1140.6" r="8.3"/><circle cx="624.7" cy="1140.8" r="8.3"/><circle cx="628.4" cy="1141.8" r="8.3"/><circle cx="633.1" cy="1142.5" r="8.3"/><circle cx="637.1" cy="1140.7" r="8.3"/><circle cx="642.6" cy="1140.6" r="8.3"/><circle cx="648.3" cy="1141.5" r="8.3"/><circle cx="650.5" cy="1140.6" r="8.3"/><circle cx="656.9" cy="1140.9" r="8.3"/><circle cx="660.2" cy="1140.6" r="8.3"/><circle cx="663.8" cy="1142.3" r="8.3"/><circle cx="669.3" cy="1140.7" r="8.3"/><circle cx="673.1" cy="1141.5" r="8.3"/><circle cx="679.5" cy="1142.8" r="8.3"/><circle cx="684.6" cy="1140.1" r="8.3"/><circle cx="687.8" cy="1141.5" r="8.3"/><circle cx="615.8" cy="1146.6" r="8.3"/><circle cx="620.3" cy="1144.7" r="8.3"/><circle cx="626.1" cy="1147.0" r="8.3"/><circle cx="628.9" cy="1144.6" r="8.3"/><circle cx="633.5" cy="1147.4" r="8.3"/><circle cx="639.7" cy="1145.0" r="8.3"/><circle cx="641.9" cy="1147.4" r="8.3"/><circle cx="646.8" cy="1146.6" r="8.3"/><circle cx="653.1" cy="1147.0" r="8.3"/><circle cx="657.2" cy="1146.3" r="8.3"/><circle cx="661.7" cy="1145.2" r="8.3"/><circle cx="666.5" cy="1145.1" r="8.3"/><circle cx="668.7" cy="1146.8" r="8.3"/><circle cx="675.8" cy="1146.8" r="8.3"/><circle cx="679.2" cy="1144.8" r="8.3"/><circle cx="683.4" cy="1145.0" r="8.3"/><circle cx="687.9" cy="1145.7" r="8.3"/><circle cx="691.2" cy="1146.1" r="8.3"/><circle cx="697.7" cy="1146.6" r="8.3"/><circle cx="700.2" cy="1147.3" r="8.3"/><circle cx="616.7" cy="1151.3" r="8.3"/><circle cx="619.7" cy="1149.5" r="8.3"/><circle cx="625.5" cy="1151.8" r="8.3"/><circle cx="628.5" cy="1150.0" r="8.3"/><circle cx="633.3" cy="1151.9" r="8.3"/><circle cx="637.0" cy="1149.1" r="8.3"/><circle cx="641.8" cy="1150.4" r="8.3"/><circle cx="648.7" cy="1149.1" r="8.3"/><circle cx="652.7" cy="1150.6" r="8.3"/><circle cx="657.5" cy="1151.9" r="8.3"/><circle cx="661.5" cy="1149.7" r="8.3"/><circle cx="666.5" cy="1149.0" r="8.3"/><circle cx="671.3" cy="1150.2" r="8.3"/><circle cx="673.6" cy="1151.6" r="8.3"/><circle cx="678.8" cy="1150.2" r="8.3"/><circle cx="682.7" cy="1150.3" r="8.3"/><circle cx="687.0" cy="1150.6" r="8.3"/><circle cx="692.1" cy="1149.8" r="8.3"/><circle cx="695.3" cy="1149.5" r="8.3"/><circle cx="617.2" cy="1154.1" r="8.3"/><circle cx="619.2" cy="1156.2" r="8.3"/><circle cx="625.9" cy="1153.9" r="8.3"/><circle cx="627.9" cy="1154.3" r="8.3"/><circle cx="633.1" cy="1153.5" r="8.3"/><circle cx="637.2" cy="1156.0" r="8.3"/><circle cx="641.5" cy="1154.9" r="8.3"/><circle cx="647.9" cy="1155.6" r="8.3"/><circle cx="651.2" cy="1153.9" r="8.3"/><circle cx="656.1" cy="1154.6" r="8.3"/><circle cx="660.6" cy="1154.4" r="8.3"/><circle cx="665.2" cy="1156.4" r="8.3"/><circle cx="668.3" cy="1154.2" r="8.3"/><circle cx="675.3" cy="1155.0" r="8.3"/><circle cx="679.7" cy="1153.7" r="8.3"/><circle cx="684.8" cy="1153.5" r="8.3"/><circle cx="688.7" cy="1154.2" r="8.3"/><circle cx="692.9" cy="1155.9" r="8.3"/><circle cx="697.5" cy="1156.4" r="8.3"/><circle cx="700.5" cy="1156.1" r="8.3"/><circle cx="616.4" cy="1159.3" r="8.3"/><circle cx="619.9" cy="1160.7" r="8.3"/><circle cx="623.8" cy="1158.3" r="8.3"/><circle cx="630.4" cy="1160.1" r="8.3"/><circle cx="635.1" cy="1159.8" r="8.3"/><circle cx="639.8" cy="1159.3" r="8.3"/><circle cx="641.5" cy="1160.0" r="8.3"/><circle cx="646.6" cy="1159.2" r="8.3"/><circle cx="651.4" cy="1159.0" r="8.3"/><circle cx="656.3" cy="1159.8" r="8.3"/><circle cx="659.5" cy="1160.7" r="8.3"/><circle cx="664.8" cy="1160.2" r="8.3"/><circle cx="669.3" cy="1158.4" r="8.3"/><circle cx="673.8" cy="1158.7" r="8.3"/><circle cx="678.2" cy="1160.0" r="8.3"/><circle cx="683.8" cy="1158.6" r="8.3"/><circle cx="688.4" cy="1159.8" r="8.3"/><circle cx="691.3" cy="1159.7" r="8.3"/><circle cx="695.5" cy="1160.0" r="8.3"/><circle cx="700.6" cy="1159.8" r="8.3"/><circle cx="707.1" cy="1160.1" r="8.3"/><circle cx="617.3" cy="1164.0" r="8.3"/><circle cx="620.1" cy="1162.7" r="8.3"/><circle cx="625.5" cy="1165.0" r="8.3"/><circle cx="629.4" cy="1163.1" r="8.3"/><circle cx="634.4" cy="1163.1" r="8.3"/><circle cx="637.8" cy="1163.2" r="8.3"/><circle cx="642.9" cy="1164.4" r="8.3"/><circle cx="647.5" cy="1163.0" r="8.3"/><circle cx="651.0" cy="1163.2" r="8.3"/><circle cx="656.3" cy="1165.4" r="8.3"/><circle cx="661.3" cy="1165.1" r="8.3"/><circle cx="664.1" cy="1162.6" r="8.3"/><circle cx="669.9" cy="1163.2" r="8.3"/><circle cx="673.8" cy="1164.7" r="8.3"/><circle cx="677.6" cy="1165.1" r="8.3"/><circle cx="683.0" cy="1164.3" r="8.3"/><circle cx="686.4" cy="1162.7" r="8.3"/><circle cx="692.8" cy="1162.6" r="8.3"/><circle cx="697.2" cy="1163.4" r="8.3"/><circle cx="700.7" cy="1165.4" r="8.3"/><circle cx="706.9" cy="1163.4" r="8.3"/><circle cx="710.0" cy="1163.4" r="8.3"/><circle cx="713.7" cy="1165.4" r="8.3"/><circle cx="617.2" cy="1167.6" r="8.3"/><circle cx="619.7" cy="1169.6" r="8.3"/><circle cx="624.7" cy="1168.7" r="8.3"/><circle cx="629.9" cy="1167.6" r="8.3"/><circle cx="633.7" cy="1167.3" r="8.3"/><circle cx="636.9" cy="1169.9" r="8.3"/><circle cx="643.5" cy="1168.9" r="8.3"/><circle cx="646.4" cy="1167.9" r="8.3"/><circle cx="653.1" cy="1170.0" r="8.3"/><circle cx="656.7" cy="1169.8" r="8.3"/><circle cx="660.5" cy="1169.5" r="8.3"/><circle cx="666.0" cy="1167.7" r="8.3"/><circle cx="671.1" cy="1167.0" r="8.3"/><circle cx="673.6" cy="1168.5" r="8.3"/><circle cx="680.1" cy="1168.1" r="8.3"/><circle cx="682.1" cy="1169.2" r="8.3"/><circle cx="688.3" cy="1167.4" r="8.3"/><circle cx="692.9" cy="1168.2" r="8.3"/><circle cx="696.6" cy="1169.8" r="8.3"/><circle cx="702.3" cy="1169.9" r="8.3"/><circle cx="706.4" cy="1168.2" r="8.3"/><circle cx="709.9" cy="1167.4" r="8.3"/><circle cx="713.5" cy="1168.5" r="8.3"/><circle cx="614.8" cy="1173.6" r="8.3"/><circle cx="620.1" cy="1173.5" r="8.3"/><circle cx="625.0" cy="1172.8" r="8.3"/><circle cx="628.9" cy="1172.2" r="8.3"/><circle cx="635.3" cy="1172.1" r="8.3"/><circle cx="638.2" cy="1174.2" r="8.3"/><circle cx="643.7" cy="1174.4" r="8.3"/><circle cx="647.7" cy="1172.4" r="8.3"/><circle cx="652.9" cy="1171.7" r="8.3"/><circle cx="657.6" cy="1172.8" r="8.3"/><circle cx="661.3" cy="1174.2" r="8.3"/><circle cx="665.4" cy="1174.0" r="8.3"/><circle cx="670.8" cy="1173.0" r="8.3"/><circle cx="675.5" cy="1172.2" r="8.3"/><circle cx="677.8" cy="1173.6" r="8.3"/><circle cx="684.3" cy="1172.7" r="8.3"/><circle cx="686.4" cy="1172.8" r="8.3"/><circle cx="691.5" cy="1171.7" r="8.3"/><circle cx="695.8" cy="1173.3" r="8.3"/><circle cx="700.9" cy="1173.9" r="8.3"/><circle cx="705.0" cy="1173.3" r="8.3"/><circle cx="709.6" cy="1172.4" r="8.3"/><circle cx="713.7" cy="1173.7" r="8.3"/><circle cx="718.6" cy="1173.5" r="8.3"/><circle cx="615.9" cy="1178.4" r="8.3"/><circle cx="619.1" cy="1176.2" r="8.3"/><circle cx="625.2" cy="1176.9" r="8.3"/><circle cx="630.8" cy="1176.9" r="8.3"/><circle cx="633.7" cy="1177.0" r="8.3"/><circle cx="638.5" cy="1176.6" r="8.3"/><circle cx="644.2" cy="1176.8" r="8.3"/><circle cx="648.6" cy="1179.0" r="8.3"/><circle cx="651.3" cy="1178.5" r="8.3"/><circle cx="657.5" cy="1176.1" r="8.3"/><circle cx="662.2" cy="1177.2" r="8.3"/><circle cx="664.8" cy="1178.4" r="8.3"/><circle cx="668.8" cy="1176.1" r="8.3"/><circle cx="675.7" cy="1176.1" r="8.3"/><circle cx="679.2" cy="1177.7" r="8.3"/><circle cx="683.1" cy="1178.5" r="8.3"/><circle cx="688.7" cy="1176.1" r="8.3"/><circle cx="692.7" cy="1178.6" r="8.3"/><circle cx="696.5" cy="1176.4" r="8.3"/><circle cx="701.5" cy="1176.0" r="8.3"/><circle cx="705.5" cy="1177.5" r="8.3"/><circle cx="709.4" cy="1177.8" r="8.3"/><circle cx="715.8" cy="1177.4" r="8.3"/><circle cx="619.0" cy="1108.6" r="8.3"/><circle cx="624.9" cy="1110.7" r="8.3"/><circle cx="631.0" cy="1110.6" r="8.3"/><circle cx="636.9" cy="1110.1" r="8.3"/><circle cx="643.4" cy="1109.1" r="8.3"/><circle cx="642.5" cy="1111.0" r="8.3"/><circle cx="642.5" cy="1119.7" r="8.3"/><circle cx="648.0" cy="1127.3" r="8.3"/><circle cx="654.3" cy="1129.1" r="8.3"/><circle cx="661.0" cy="1130.4" r="8.3"/><circle cx="667.3" cy="1132.6" r="8.3"/><circle cx="672.8" cy="1135.7" r="8.3"/><circle cx="673.0" cy="1135.3" r="8.3"/><circle cx="678.6" cy="1139.5" r="8.3"/><circle cx="685.4" cy="1140.5" r="8.3"/><circle cx="690.3" cy="1143.9" r="8.3"/><circle cx="689.8" cy="1143.5" r="8.3"/><circle cx="696.8" cy="1145.0" r="8.3"/><circle cx="701.2" cy="1149.6" r="8.3"/><circle cx="702.0" cy="1153.8" r="8.3"/><circle cx="704.8" cy="1157.0" r="8.3"/><circle cx="709.2" cy="1161.1" r="8.3"/><circle cx="714.4" cy="1165.4" r="8.3"/><circle cx="712.1" cy="1162.7" r="8.3"/><circle cx="714.7" cy="1168.6" r="8.3"/><circle cx="719.7" cy="1174.3" r="8.3"/><circle cx="717.8" cy="1170.1" r="8.3"/><circle cx="718.1" cy="1176.9" r="8.3"/><circle cx="717.9" cy="1177.7" r="8.3"/><circle cx="710.1" cy="1178.7" r="8.3"/><circle cx="711.9" cy="1178.2" r="8.3"/><circle cx="705.9" cy="1177.6" r="8.3"/><circle cx="699.9" cy="1177.5" r="8.3"/><circle cx="693.7" cy="1179.3" r="8.3"/><circle cx="687.6" cy="1179.4" r="8.3"/><circle cx="681.3" cy="1178.4" r="8.3"/><circle cx="675.1" cy="1179.3" r="8.3"/><circle cx="668.6" cy="1178.2" r="8.3"/><circle cx="662.7" cy="1178.5" r="8.3"/><circle cx="656.6" cy="1179.1" r="8.3"/><circle cx="650.2" cy="1177.3" r="8.3"/><circle cx="643.7" cy="1179.0" r="8.3"/><circle cx="637.8" cy="1179.4" r="8.3"/><circle cx="631.9" cy="1179.7" r="8.3"/><circle cx="625.6" cy="1177.9" r="8.3"/><circle cx="619.4" cy="1178.1" r="8.3"/><circle cx="615.7" cy="1174.8" r="8.3"/><circle cx="616.4" cy="1168.8" r="8.3"/><circle cx="615.8" cy="1162.7" r="8.3"/><circle cx="615.8" cy="1156.9" r="8.3"/><circle cx="615.0" cy="1150.3" r="8.3"/><circle cx="614.8" cy="1143.9" r="8.3"/><circle cx="614.8" cy="1137.9" r="8.3"/><circle cx="615.8" cy="1131.7" r="8.3"/><circle cx="616.7" cy="1125.5" r="8.3"/><circle cx="615.9" cy="1119.4" r="8.3"/><circle cx="614.8" cy="1113.3" r="8.3"/><circle cx="630.2" cy="880.4" r="8.3"/><circle cx="680.4" cy="895.2" r="8.3"/><circle cx="622.5" cy="939.2" r="8.3"/><circle cx="628.9" cy="936.5" r="8.3"/><circle cx="637.1" cy="948.4" r="8.3"/><circle cx="658.2" cy="964.4" r="8.3"/><circle cx="618.8" cy="977.2" r="8.3"/><circle cx="636.6" cy="986.4" r="8.3"/><circle cx="631.2" cy="1010.6" r="8.3"/><circle cx="614.8" cy="1020.7" r="8.3"/><circle cx="632.5" cy="1024.3" r="8.3"/><circle cx="644.4" cy="1024.3" r="8.3"/><circle cx="671.0" cy="1023.4" r="8.3"/><circle cx="616.1" cy="1039.9" r="8.3"/><circle cx="633.4" cy="1037.2" r="8.3"/><circle cx="614.8" cy="1050.9" r="8.3"/><circle cx="626.1" cy="1055.5" r="8.3"/><circle cx="632.5" cy="1066.5" r="8.3"/><circle cx="730.5" cy="1050.9" r="8.3"/><circle cx="617.0" cy="1078.4" r="8.3"/><circle cx="641.7" cy="1079.3" r="8.3"/><circle cx="665.5" cy="1078.4" r="8.3"/><circle cx="679.2" cy="1081.1" r="8.3"/><circle cx="706.7" cy="1078.4" r="8.3"/><circle cx="750.6" cy="1081.1" r="8.3"/><circle cx="619.7" cy="1031.7" r="8.3"/><circle cx="616.7" cy="1084.4" r="8.3"/><circle cx="633.0" cy="1068.1" r="8.3"/><circle cx="627.5" cy="1061.8" r="8.3"/><circle cx="641.1" cy="1082.6" r="8.3"/><circle cx="679.1" cy="1084.4" r="8.3"/><circle cx="702.6" cy="1087.1" r="8.3"/><circle cx="750.5" cy="1087.1" r="8.3"/><circle cx="739.6" cy="1107.0" r="8.3"/><circle cx="701.7" cy="1112.4" r="8.3"/><circle cx="700.8" cy="1125.1" r="8.3"/><circle cx="722.5" cy="1121.5" r="8.3"/><circle cx="720.6" cy="1138.6" r="8.3"/><circle cx="681.8" cy="1105.2" r="8.3"/><circle cx="667.3" cy="1107.0" r="8.3"/><circle cx="664.6" cy="1118.8" r="8.3"/><circle cx="645.6" cy="1103.4" r="8.3"/><circle cx="653.8" cy="1092.5" r="8.3"/><circle cx="738.7" cy="1145.0" r="8.3"/><circle cx="732.4" cy="1164.9" r="8.3"/><circle cx="744.2" cy="1173.9" r="8.3"/><circle cx="752.3" cy="1179.3" r="8.3"/><circle cx="684.5" cy="1135.9" r="8.3"/><circle cx="701.7" cy="1145.0" r="8.3"/><circle cx="773.4" cy="1101.8" r="8.3"/><circle cx="799.2" cy="1103.1" r="8.3"/><circle cx="738.9" cy="1106.8" r="8.3"/><circle cx="779.5" cy="1116.6" r="8.3"/><circle cx="865.6" cy="1121.5" r="8.3"/><circle cx="859.5" cy="1140.0" r="8.3"/><circle cx="800.4" cy="1143.6" r="8.3"/><circle cx="738.9" cy="1144.9" r="8.3"/><circle cx="865.6" cy="1163.3" r="8.3"/><circle cx="812.7" cy="1170.7" r="8.3"/><circle cx="770.9" cy="1172.0" r="8.3"/><circle cx="754.9" cy="1178.1" r="8.3"/><circle cx="790.6" cy="1178.1" r="8.3"/><circle cx="799.2" cy="1178.1" r="8.3"/><circle cx="746.3" cy="1170.7" r="8.3"/><circle cx="734.0" cy="1163.3" r="8.3"/><circle cx="758.6" cy="1160.9" r="8.3"/><circle cx="614.8" cy="1090.0" r="8.3"/><circle cx="614.8" cy="1070.0" r="8.3"/><circle cx="614.8" cy="1025.1" r="8.3"/><circle cx="625.5" cy="1025.7" r="8.3"/><circle cx="635.2" cy="1026.9" r="8.3"/><circle cx="644.9" cy="1026.3" r="8.3"/><circle cx="616.3" cy="1040.0" r="8.3"/><circle cx="633.5" cy="1038.3" r="8.3"/><circle cx="614.8" cy="1053.2" r="8.3"/><circle cx="625.5" cy="1056.6" r="8.3"/><circle cx="632.3" cy="1068.6" r="8.3"/><circle cx="616.3" cy="1086.4" r="8.3"/><circle cx="640.9" cy="1081.8" r="8.3"/><circle cx="649.5" cy="1091.5" r="8.3"/><circle cx="659.8" cy="1090.4" r="8.3"/><circle cx="666.6" cy="1104.7" r="8.3"/><circle cx="682.1" cy="1105.8" r="8.3"/><circle cx="665.5" cy="1117.3" r="8.3"/><circle cx="696.4" cy="1085.8" r="8.3"/><circle cx="620.9" cy="1111.5" r="8.3"/><circle cx="638.0" cy="1111.5" r="8.3"/>
</g>
<polygon points="593.8,1165.3 598.7,1165.0 603.6,1164.8 608.4,1164.6 613.3,1164.3 618.2,1164.0 623.1,1163.8 627.9,1163.4 632.8,1163.1 637.7,1162.7 642.6,1162.2 647.5,1161.6 652.3,1160.9 657.2,1160.2 662.1,1159.5 667.0,1158.7 671.9,1157.9 676.7,1157.2 681.6,1156.4 686.5,1155.6 691.4,1154.8 696.2,1154.0 701.1,1153.2 706.0,1152.4 710.9,1151.6 715.8,1150.8 720.6,1150.0 725.5,1149.2 730.4,1148.4 735.3,1147.6 740.1,1146.7 745.0,1145.9 749.9,1145.1 754.8,1144.3 759.7,1143.5 764.5,1142.7 769.4,1141.9 774.3,1141.1 779.2,1140.3 784.1,1139.5 788.9,1138.7 793.8,1137.9 798.7,1137.0 803.6,1136.2 808.4,1135.4 813.3,1134.6 818.2,1133.8 823.1,1133.0 828.0,1132.2 832.8,1131.4 837.7,1130.6 842.6,1129.8 847.5,1128.9 852.4,1128.1 857.2,1127.3 862.1,1126.5 867.0,1125.7 871.9,1124.9 876.7,1124.1 881.6,1123.3 886.5,1122.5 886.5,1152.5 881.6,1152.7 876.7,1153.0 871.9,1153.2 867.0,1153.4 862.1,1153.6 857.2,1153.8 852.4,1154.0 847.5,1154.3 842.6,1154.5 837.7,1154.7 832.8,1154.9 828.0,1155.1 823.1,1155.3 818.2,1155.6 813.3,1155.8 808.4,1156.0 803.6,1156.2 798.7,1156.4 793.8,1156.7 788.9,1156.9 784.1,1157.1 779.2,1157.3 774.3,1157.5 769.4,1157.7 764.5,1158.0 759.7,1158.2 754.8,1158.4 749.9,1158.6 745.0,1158.8 740.1,1159.1 735.3,1159.3 730.4,1159.5 725.5,1159.7 720.6,1159.9 715.8,1160.2 710.9,1160.4 706.0,1160.6 701.1,1160.8 696.2,1161.1 691.4,1161.3 686.5,1161.5 681.6,1161.8 676.7,1162.0 671.9,1162.2 667.0,1162.5 662.1,1162.8 657.2,1163.0 652.3,1163.4 647.5,1163.7 642.6,1164.2 637.7,1164.7 632.8,1165.3 627.9,1166.0 623.1,1166.7 618.2,1167.4 613.3,1168.2 608.4,1169.0 603.6,1169.7 598.7,1170.5 593.8,1171.3" fill="#6a6b70" fill-opacity="0.085"/>
<line x1="593.8" y1="1168.3" x2="886.5" y2="1137.5" stroke="#6a6b70" stroke-width="5.4" stroke-linecap="round"/>
<g fill="#2373b7" fill-opacity="0.78">
<circle cx="191.7" cy="1310.9" r="8.3"/><circle cx="192.4" cy="1314.3" r="8.3"/><circle cx="190.9" cy="1318.7" r="8.3"/><circle cx="195.8" cy="1320.7" r="8.3"/><circle cx="191.8" cy="1323.5" r="8.3"/><circle cx="196.0" cy="1323.0" r="8.3"/><circle cx="199.5" cy="1323.1" r="8.3"/><circle cx="190.2" cy="1329.0" r="8.3"/><circle cx="196.5" cy="1329.8" r="8.3"/><circle cx="201.0" cy="1328.8" r="8.3"/><circle cx="203.4" cy="1329.1" r="8.3"/><circle cx="192.2" cy="1333.8" r="8.3"/><circle cx="196.5" cy="1332.0" r="8.3"/><circle cx="199.9" cy="1332.6" r="8.3"/><circle cx="203.5" cy="1332.2" r="8.3"/><circle cx="194.6" cy="1337.0" r="8.3"/><circle cx="198.6" cy="1337.0" r="8.3"/><circle cx="204.3" cy="1337.5" r="8.3"/><circle cx="190.2" cy="1341.6" r="8.3"/><circle cx="195.4" cy="1342.3" r="8.3"/><circle cx="200.3" cy="1343.6" r="8.3"/><circle cx="203.7" cy="1341.3" r="8.3"/><circle cx="207.8" cy="1341.9" r="8.3"/><circle cx="192.4" cy="1346.1" r="8.3"/><circle cx="195.8" cy="1348.3" r="8.3"/><circle cx="199.7" cy="1346.5" r="8.3"/><circle cx="203.3" cy="1345.9" r="8.3"/><circle cx="190.5" cy="1351.7" r="8.3"/><circle cx="196.6" cy="1351.6" r="8.3"/><circle cx="200.1" cy="1352.1" r="8.3"/><circle cx="205.8" cy="1350.8" r="8.3"/><circle cx="190.5" cy="1356.1" r="8.3"/><circle cx="196.2" cy="1355.5" r="8.3"/><circle cx="200.6" cy="1357.2" r="8.3"/><circle cx="204.1" cy="1356.8" r="8.3"/><circle cx="207.7" cy="1357.2" r="8.3"/><circle cx="190.7" cy="1360.1" r="8.3"/><circle cx="196.0" cy="1361.5" r="8.3"/><circle cx="201.3" cy="1360.2" r="8.3"/><circle cx="204.5" cy="1360.4" r="8.3"/><circle cx="207.7" cy="1360.7" r="8.3"/><circle cx="191.6" cy="1364.8" r="8.3"/><circle cx="194.9" cy="1365.3" r="8.3"/><circle cx="200.1" cy="1363.9" r="8.3"/><circle cx="205.7" cy="1366.1" r="8.3"/><circle cx="209.1" cy="1366.3" r="8.3"/><circle cx="192.1" cy="1369.6" r="8.3"/><circle cx="195.7" cy="1368.9" r="8.3"/><circle cx="200.8" cy="1368.4" r="8.3"/><circle cx="204.5" cy="1369.1" r="8.3"/><circle cx="209.1" cy="1368.6" r="8.3"/><circle cx="191.3" cy="1374.6" r="8.3"/><circle cx="195.0" cy="1375.2" r="8.3"/><circle cx="199.8" cy="1374.8" r="8.3"/><circle cx="203.0" cy="1374.2" r="8.3"/><circle cx="210.3" cy="1373.0" r="8.3"/><circle cx="212.0" cy="1372.6" r="8.3"/><circle cx="191.6" cy="1379.2" r="8.3"/><circle cx="194.7" cy="1377.7" r="8.3"/><circle cx="201.5" cy="1379.4" r="8.3"/><circle cx="203.8" cy="1379.4" r="8.3"/><circle cx="209.6" cy="1378.3" r="8.3"/><circle cx="214.8" cy="1379.2" r="8.3"/><circle cx="217.3" cy="1379.7" r="8.3"/><circle cx="191.5" cy="1382.4" r="8.3"/><circle cx="196.4" cy="1382.6" r="8.3"/><circle cx="201.1" cy="1384.1" r="8.3"/><circle cx="204.3" cy="1383.9" r="8.3"/><circle cx="208.2" cy="1382.1" r="8.3"/><circle cx="214.6" cy="1381.8" r="8.3"/><circle cx="218.5" cy="1383.7" r="8.3"/><circle cx="190.6" cy="1386.4" r="8.3"/><circle cx="195.5" cy="1387.3" r="8.3"/><circle cx="199.7" cy="1389.0" r="8.3"/><circle cx="204.3" cy="1388.6" r="8.3"/><circle cx="208.5" cy="1386.6" r="8.3"/><circle cx="213.2" cy="1387.2" r="8.3"/><circle cx="218.0" cy="1386.3" r="8.3"/><circle cx="191.1" cy="1393.2" r="8.3"/><circle cx="194.5" cy="1390.5" r="8.3"/><circle cx="199.4" cy="1392.6" r="8.3"/><circle cx="203.6" cy="1390.6" r="8.3"/><circle cx="208.4" cy="1393.2" r="8.3"/><circle cx="212.9" cy="1391.0" r="8.3"/><circle cx="217.4" cy="1392.0" r="8.3"/><circle cx="223.4" cy="1392.5" r="8.3"/><circle cx="191.1" cy="1396.4" r="8.3"/><circle cx="195.0" cy="1397.9" r="8.3"/><circle cx="201.4" cy="1396.5" r="8.3"/><circle cx="204.5" cy="1395.4" r="8.3"/><circle cx="208.8" cy="1395.6" r="8.3"/><circle cx="213.7" cy="1396.1" r="8.3"/><circle cx="219.1" cy="1397.0" r="8.3"/><circle cx="223.4" cy="1397.1" r="8.3"/><circle cx="226.2" cy="1396.5" r="8.3"/><circle cx="192.2" cy="1401.8" r="8.3"/><circle cx="196.4" cy="1400.4" r="8.3"/><circle cx="200.4" cy="1399.9" r="8.3"/><circle cx="203.9" cy="1400.4" r="8.3"/><circle cx="209.3" cy="1402.5" r="8.3"/><circle cx="212.1" cy="1400.1" r="8.3"/><circle cx="217.9" cy="1401.7" r="8.3"/><circle cx="223.5" cy="1400.2" r="8.3"/><circle cx="225.5" cy="1402.3" r="8.3"/><circle cx="230.3" cy="1400.8" r="8.3"/><circle cx="191.7" cy="1404.1" r="8.3"/><circle cx="196.1" cy="1405.4" r="8.3"/><circle cx="200.3" cy="1404.4" r="8.3"/><circle cx="203.1" cy="1405.6" r="8.3"/><circle cx="208.4" cy="1406.4" r="8.3"/><circle cx="214.9" cy="1405.7" r="8.3"/><circle cx="219.3" cy="1404.8" r="8.3"/><circle cx="222.0" cy="1405.0" r="8.3"/><circle cx="226.6" cy="1404.1" r="8.3"/><circle cx="231.3" cy="1405.5" r="8.3"/><circle cx="190.2" cy="1410.7" r="8.3"/><circle cx="195.9" cy="1411.4" r="8.3"/><circle cx="200.4" cy="1410.6" r="8.3"/><circle cx="204.8" cy="1410.8" r="8.3"/><circle cx="209.5" cy="1411.4" r="8.3"/><circle cx="214.7" cy="1410.8" r="8.3"/><circle cx="216.7" cy="1408.7" r="8.3"/><circle cx="223.4" cy="1411.2" r="8.3"/><circle cx="226.1" cy="1411.0" r="8.3"/><circle cx="230.0" cy="1409.8" r="8.3"/><circle cx="235.2" cy="1411.2" r="8.3"/><circle cx="190.8" cy="1415.8" r="8.3"/><circle cx="196.1" cy="1414.0" r="8.3"/><circle cx="198.9" cy="1415.7" r="8.3"/><circle cx="203.9" cy="1415.3" r="8.3"/><circle cx="210.2" cy="1414.1" r="8.3"/><circle cx="213.1" cy="1413.2" r="8.3"/><circle cx="218.8" cy="1413.4" r="8.3"/><circle cx="222.9" cy="1413.1" r="8.3"/><circle cx="225.9" cy="1415.2" r="8.3"/><circle cx="230.8" cy="1413.1" r="8.3"/><circle cx="234.9" cy="1413.7" r="8.3"/><circle cx="191.7" cy="1419.6" r="8.3"/><circle cx="195.7" cy="1418.9" r="8.3"/><circle cx="200.2" cy="1420.2" r="8.3"/><circle cx="204.7" cy="1417.8" r="8.3"/><circle cx="208.4" cy="1419.8" r="8.3"/><circle cx="212.7" cy="1418.1" r="8.3"/><circle cx="217.0" cy="1419.8" r="8.3"/><circle cx="223.3" cy="1420.2" r="8.3"/><circle cx="227.4" cy="1420.0" r="8.3"/><circle cx="230.7" cy="1419.4" r="8.3"/><circle cx="236.0" cy="1419.6" r="8.3"/><circle cx="191.5" cy="1423.6" r="8.3"/><circle cx="195.9" cy="1422.9" r="8.3"/><circle cx="198.9" cy="1423.5" r="8.3"/><circle cx="205.1" cy="1422.5" r="8.3"/><circle cx="209.8" cy="1423.8" r="8.3"/><circle cx="212.0" cy="1422.2" r="8.3"/><circle cx="218.1" cy="1424.8" r="8.3"/><circle cx="221.1" cy="1424.6" r="8.3"/><circle cx="227.4" cy="1423.6" r="8.3"/><circle cx="231.4" cy="1423.7" r="8.3"/><circle cx="237.4" cy="1422.1" r="8.3"/><circle cx="240.1" cy="1422.2" r="8.3"/><circle cx="191.4" cy="1428.2" r="8.3"/><circle cx="195.6" cy="1428.2" r="8.3"/><circle cx="200.2" cy="1427.8" r="8.3"/><circle cx="205.3" cy="1427.8" r="8.3"/><circle cx="209.9" cy="1428.1" r="8.3"/><circle cx="213.8" cy="1427.4" r="8.3"/><circle cx="217.3" cy="1429.0" r="8.3"/><circle cx="223.5" cy="1429.5" r="8.3"/><circle cx="225.6" cy="1429.1" r="8.3"/><circle cx="232.1" cy="1428.0" r="8.3"/><circle cx="237.3" cy="1429.0" r="8.3"/><circle cx="241.2" cy="1428.7" r="8.3"/><circle cx="192.4" cy="1432.3" r="8.3"/><circle cx="195.2" cy="1432.7" r="8.3"/><circle cx="200.8" cy="1432.8" r="8.3"/><circle cx="205.3" cy="1431.4" r="8.3"/><circle cx="210.0" cy="1434.0" r="8.3"/><circle cx="212.1" cy="1432.9" r="8.3"/><circle cx="216.7" cy="1432.3" r="8.3"/><circle cx="222.0" cy="1433.5" r="8.3"/><circle cx="226.5" cy="1433.4" r="8.3"/><circle cx="232.1" cy="1433.9" r="8.3"/><circle cx="236.7" cy="1432.9" r="8.3"/><circle cx="239.6" cy="1431.6" r="8.3"/><circle cx="244.7" cy="1433.3" r="8.3"/><circle cx="190.6" cy="1436.2" r="8.3"/><circle cx="194.3" cy="1436.9" r="8.3"/><circle cx="198.8" cy="1437.8" r="8.3"/><circle cx="206.0" cy="1436.3" r="8.3"/><circle cx="209.0" cy="1436.4" r="8.3"/><circle cx="212.1" cy="1437.3" r="8.3"/><circle cx="218.5" cy="1436.7" r="8.3"/><circle cx="222.3" cy="1437.0" r="8.3"/><circle cx="226.8" cy="1436.9" r="8.3"/><circle cx="230.8" cy="1437.7" r="8.3"/><circle cx="236.9" cy="1437.2" r="8.3"/><circle cx="239.2" cy="1435.9" r="8.3"/><circle cx="244.7" cy="1435.9" r="8.3"/><circle cx="190.7" cy="1440.3" r="8.3"/><circle cx="196.3" cy="1442.7" r="8.3"/><circle cx="201.4" cy="1441.4" r="8.3"/><circle cx="204.2" cy="1441.2" r="8.3"/><circle cx="207.6" cy="1440.8" r="8.3"/><circle cx="214.3" cy="1441.5" r="8.3"/><circle cx="217.8" cy="1442.3" r="8.3"/><circle cx="221.5" cy="1440.6" r="8.3"/><circle cx="226.6" cy="1440.9" r="8.3"/><circle cx="232.8" cy="1442.9" r="8.3"/><circle cx="236.1" cy="1441.2" r="8.3"/><circle cx="239.4" cy="1442.9" r="8.3"/><circle cx="244.4" cy="1442.0" r="8.3"/><circle cx="190.5" cy="1445.2" r="8.3"/><circle cx="196.8" cy="1447.0" r="8.3"/><circle cx="198.8" cy="1445.0" r="8.3"/><circle cx="203.9" cy="1446.3" r="8.3"/><circle cx="210.5" cy="1445.9" r="8.3"/><circle cx="213.2" cy="1446.1" r="8.3"/><circle cx="217.2" cy="1446.1" r="8.3"/><circle cx="222.7" cy="1447.3" r="8.3"/><circle cx="226.8" cy="1445.7" r="8.3"/><circle cx="232.9" cy="1444.5" r="8.3"/><circle cx="237.1" cy="1446.2" r="8.3"/><circle cx="240.7" cy="1445.4" r="8.3"/><circle cx="245.9" cy="1447.1" r="8.3"/><circle cx="250.6" cy="1446.4" r="8.3"/><circle cx="190.5" cy="1451.0" r="8.3"/><circle cx="195.8" cy="1449.7" r="8.3"/><circle cx="200.8" cy="1449.5" r="8.3"/><circle cx="205.5" cy="1449.2" r="8.3"/><circle cx="208.6" cy="1451.6" r="8.3"/><circle cx="213.9" cy="1449.9" r="8.3"/><circle cx="216.6" cy="1450.3" r="8.3"/><circle cx="223.9" cy="1451.2" r="8.3"/><circle cx="226.0" cy="1450.7" r="8.3"/><circle cx="232.4" cy="1451.0" r="8.3"/><circle cx="236.0" cy="1451.2" r="8.3"/><circle cx="239.9" cy="1449.5" r="8.3"/><circle cx="245.5" cy="1450.6" r="8.3"/><circle cx="250.2" cy="1451.5" r="8.3"/><circle cx="190.7" cy="1453.8" r="8.3"/><circle cx="194.0" cy="1453.5" r="8.3"/><circle cx="199.0" cy="1453.8" r="8.3"/><circle cx="204.1" cy="1455.0" r="8.3"/><circle cx="208.7" cy="1454.8" r="8.3"/><circle cx="213.8" cy="1455.0" r="8.3"/><circle cx="217.3" cy="1454.9" r="8.3"/><circle cx="221.5" cy="1455.5" r="8.3"/><circle cx="228.5" cy="1455.4" r="8.3"/><circle cx="230.2" cy="1456.3" r="8.3"/><circle cx="235.0" cy="1454.2" r="8.3"/><circle cx="239.9" cy="1456.1" r="8.3"/><circle cx="246.2" cy="1453.6" r="8.3"/><circle cx="249.8" cy="1453.5" r="8.3"/><circle cx="191.0" cy="1459.4" r="8.3"/><circle cx="196.6" cy="1458.2" r="8.3"/><circle cx="199.1" cy="1459.8" r="8.3"/><circle cx="203.4" cy="1458.7" r="8.3"/><circle cx="208.2" cy="1460.6" r="8.3"/><circle cx="213.1" cy="1459.6" r="8.3"/><circle cx="218.2" cy="1458.6" r="8.3"/><circle cx="221.1" cy="1458.3" r="8.3"/><circle cx="226.7" cy="1460.6" r="8.3"/><circle cx="232.4" cy="1459.5" r="8.3"/><circle cx="235.2" cy="1458.2" r="8.3"/><circle cx="239.5" cy="1460.4" r="8.3"/><circle cx="245.5" cy="1459.3" r="8.3"/><circle cx="249.6" cy="1458.8" r="8.3"/><circle cx="194.6" cy="1462.8" r="8.3"/><circle cx="199.8" cy="1464.4" r="8.3"/><circle cx="205.8" cy="1464.0" r="8.3"/><circle cx="209.2" cy="1464.8" r="8.3"/><circle cx="213.3" cy="1464.5" r="8.3"/><circle cx="217.1" cy="1464.8" r="8.3"/><circle cx="223.0" cy="1464.4" r="8.3"/><circle cx="227.3" cy="1465.1" r="8.3"/><circle cx="230.0" cy="1464.9" r="8.3"/><circle cx="236.5" cy="1463.7" r="8.3"/><circle cx="241.4" cy="1464.0" r="8.3"/><circle cx="244.3" cy="1464.2" r="8.3"/><circle cx="250.3" cy="1464.2" r="8.3"/><circle cx="253.9" cy="1463.6" r="8.3"/><circle cx="191.7" cy="1467.7" r="8.3"/><circle cx="196.1" cy="1467.5" r="8.3"/><circle cx="201.2" cy="1468.8" r="8.3"/><circle cx="205.1" cy="1469.6" r="8.3"/><circle cx="208.6" cy="1467.3" r="8.3"/><circle cx="214.1" cy="1468.3" r="8.3"/><circle cx="217.8" cy="1469.4" r="8.3"/><circle cx="221.7" cy="1467.5" r="8.3"/><circle cx="227.3" cy="1468.9" r="8.3"/><circle cx="231.4" cy="1467.3" r="8.3"/><circle cx="235.7" cy="1469.6" r="8.3"/><circle cx="241.3" cy="1467.6" r="8.3"/><circle cx="245.5" cy="1468.7" r="8.3"/><circle cx="250.8" cy="1468.1" r="8.3"/><circle cx="254.3" cy="1468.6" r="8.3"/><circle cx="190.2" cy="1474.0" r="8.3"/><circle cx="195.9" cy="1471.5" r="8.3"/><circle cx="199.4" cy="1471.9" r="8.3"/><circle cx="204.7" cy="1473.3" r="8.3"/><circle cx="209.1" cy="1471.9" r="8.3"/><circle cx="214.0" cy="1472.1" r="8.3"/><circle cx="218.4" cy="1473.9" r="8.3"/><circle cx="223.2" cy="1473.3" r="8.3"/><circle cx="226.0" cy="1473.5" r="8.3"/><circle cx="230.6" cy="1474.4" r="8.3"/><circle cx="237.2" cy="1471.8" r="8.3"/><circle cx="240.7" cy="1474.2" r="8.3"/><circle cx="244.3" cy="1471.5" r="8.3"/><circle cx="249.9" cy="1473.6" r="8.3"/><circle cx="255.1" cy="1472.4" r="8.3"/><circle cx="192.1" cy="1478.4" r="8.3"/><circle cx="196.2" cy="1476.9" r="8.3"/><circle cx="199.6" cy="1478.1" r="8.3"/><circle cx="205.0" cy="1478.5" r="8.3"/><circle cx="209.8" cy="1477.6" r="8.3"/><circle cx="213.9" cy="1478.5" r="8.3"/><circle cx="217.8" cy="1476.8" r="8.3"/><circle cx="222.6" cy="1478.7" r="8.3"/><circle cx="227.4" cy="1476.7" r="8.3"/><circle cx="232.0" cy="1478.4" r="8.3"/><circle cx="236.5" cy="1478.4" r="8.3"/><circle cx="239.2" cy="1478.3" r="8.3"/><circle cx="246.3" cy="1478.6" r="8.3"/><circle cx="250.1" cy="1476.2" r="8.3"/><circle cx="254.5" cy="1476.2" r="8.3"/><circle cx="191.5" cy="1482.0" r="8.3"/><circle cx="195.9" cy="1482.1" r="8.3"/><circle cx="199.2" cy="1483.4" r="8.3"/><circle cx="203.7" cy="1480.8" r="8.3"/><circle cx="208.5" cy="1481.0" r="8.3"/><circle cx="214.7" cy="1482.0" r="8.3"/><circle cx="217.7" cy="1481.6" r="8.3"/><circle cx="223.7" cy="1481.5" r="8.3"/><circle cx="226.8" cy="1481.9" r="8.3"/><circle cx="232.2" cy="1481.0" r="8.3"/><circle cx="234.7" cy="1482.6" r="8.3"/><circle cx="240.0" cy="1482.2" r="8.3"/><circle cx="243.6" cy="1481.0" r="8.3"/><circle cx="248.6" cy="1483.0" r="8.3"/><circle cx="254.3" cy="1481.9" r="8.3"/><circle cx="257.7" cy="1480.7" r="8.3"/><circle cx="191.9" cy="1487.1" r="8.3"/><circle cx="196.5" cy="1486.0" r="8.3"/><circle cx="198.8" cy="1486.2" r="8.3"/><circle cx="204.0" cy="1486.8" r="8.3"/><circle cx="208.1" cy="1487.9" r="8.3"/><circle cx="215.0" cy="1487.1" r="8.3"/><circle cx="218.4" cy="1486.8" r="8.3"/><circle cx="221.9" cy="1485.9" r="8.3"/><circle cx="227.0" cy="1485.5" r="8.3"/><circle cx="230.5" cy="1487.7" r="8.3"/><circle cx="236.2" cy="1487.0" r="8.3"/><circle cx="241.1" cy="1486.7" r="8.3"/><circle cx="244.8" cy="1487.4" r="8.3"/><circle cx="250.9" cy="1485.3" r="8.3"/><circle cx="253.8" cy="1486.6" r="8.3"/><circle cx="258.5" cy="1486.4" r="8.3"/><circle cx="263.7" cy="1487.0" r="8.3"/><circle cx="195.1" cy="1492.2" r="8.3"/><circle cx="198.8" cy="1492.2" r="8.3"/><circle cx="203.2" cy="1490.5" r="8.3"/><circle cx="208.8" cy="1492.0" r="8.3"/><circle cx="213.4" cy="1489.9" r="8.3"/><circle cx="218.1" cy="1489.8" r="8.3"/><circle cx="222.8" cy="1492.3" r="8.3"/><circle cx="225.7" cy="1490.8" r="8.3"/><circle cx="231.5" cy="1489.8" r="8.3"/><circle cx="235.6" cy="1492.3" r="8.3"/><circle cx="239.5" cy="1491.2" r="8.3"/><circle cx="245.0" cy="1491.4" r="8.3"/><circle cx="250.5" cy="1491.0" r="8.3"/><circle cx="254.8" cy="1492.3" r="8.3"/><circle cx="259.3" cy="1490.9" r="8.3"/><circle cx="262.1" cy="1491.9" r="8.3"/><circle cx="266.6" cy="1489.7" r="8.3"/><circle cx="195.6" cy="1496.0" r="8.3"/><circle cx="199.0" cy="1494.5" r="8.3"/><circle cx="203.6" cy="1495.3" r="8.3"/><circle cx="208.3" cy="1496.3" r="8.3"/><circle cx="212.5" cy="1495.7" r="8.3"/><circle cx="219.3" cy="1495.0" r="8.3"/><circle cx="223.3" cy="1496.8" r="8.3"/><circle cx="227.8" cy="1496.2" r="8.3"/><circle cx="230.7" cy="1495.9" r="8.3"/><circle cx="234.7" cy="1494.7" r="8.3"/><circle cx="241.0" cy="1495.3" r="8.3"/><circle cx="243.5" cy="1494.1" r="8.3"/><circle cx="250.1" cy="1495.8" r="8.3"/><circle cx="254.9" cy="1495.3" r="8.3"/><circle cx="259.2" cy="1496.8" r="8.3"/><circle cx="261.9" cy="1495.1" r="8.3"/><circle cx="268.6" cy="1496.3" r="8.3"/><circle cx="191.1" cy="1498.7" r="8.3"/><circle cx="194.2" cy="1499.6" r="8.3"/><circle cx="198.8" cy="1500.0" r="8.3"/><circle cx="203.8" cy="1500.6" r="8.3"/><circle cx="207.7" cy="1501.4" r="8.3"/><circle cx="213.0" cy="1499.5" r="8.3"/><circle cx="218.8" cy="1501.4" r="8.3"/><circle cx="222.5" cy="1500.8" r="8.3"/><circle cx="225.7" cy="1499.7" r="8.3"/><circle cx="231.4" cy="1501.0" r="8.3"/><circle cx="235.7" cy="1499.8" r="8.3"/><circle cx="240.4" cy="1500.0" r="8.3"/><circle cx="243.7" cy="1500.0" r="8.3"/><circle cx="249.1" cy="1499.1" r="8.3"/><circle cx="254.4" cy="1498.6" r="8.3"/><circle cx="257.4" cy="1501.5" r="8.3"/><circle cx="262.6" cy="1500.9" r="8.3"/><circle cx="268.9" cy="1501.1" r="8.3"/><circle cx="190.3" cy="1504.0" r="8.3"/><circle cx="196.2" cy="1503.2" r="8.3"/><circle cx="200.7" cy="1503.8" r="8.3"/><circle cx="204.3" cy="1505.8" r="8.3"/><circle cx="210.5" cy="1505.5" r="8.3"/><circle cx="214.5" cy="1504.1" r="8.3"/><circle cx="218.4" cy="1505.3" r="8.3"/><circle cx="221.7" cy="1505.1" r="8.3"/><circle cx="226.0" cy="1505.0" r="8.3"/><circle cx="232.9" cy="1505.9" r="8.3"/><circle cx="237.1" cy="1503.6" r="8.3"/><circle cx="240.9" cy="1503.7" r="8.3"/><circle cx="244.7" cy="1505.2" r="8.3"/><circle cx="248.4" cy="1505.0" r="8.3"/><circle cx="253.9" cy="1505.5" r="8.3"/><circle cx="258.8" cy="1505.6" r="8.3"/><circle cx="264.3" cy="1505.4" r="8.3"/><circle cx="268.1" cy="1503.3" r="8.3"/><circle cx="190.3" cy="1510.1" r="8.3"/><circle cx="194.7" cy="1507.9" r="8.3"/><circle cx="201.3" cy="1507.9" r="8.3"/><circle cx="205.8" cy="1508.6" r="8.3"/><circle cx="209.3" cy="1509.3" r="8.3"/><circle cx="214.7" cy="1509.1" r="8.3"/><circle cx="216.8" cy="1508.8" r="8.3"/><circle cx="222.0" cy="1509.1" r="8.3"/><circle cx="227.1" cy="1510.4" r="8.3"/><circle cx="231.6" cy="1508.4" r="8.3"/><circle cx="236.1" cy="1508.5" r="8.3"/><circle cx="239.4" cy="1507.8" r="8.3"/><circle cx="245.5" cy="1508.0" r="8.3"/><circle cx="248.7" cy="1508.4" r="8.3"/><circle cx="253.8" cy="1510.2" r="8.3"/><circle cx="257.8" cy="1509.4" r="8.3"/><circle cx="263.4" cy="1510.1" r="8.3"/><circle cx="267.9" cy="1510.3" r="8.3"/><circle cx="190.2" cy="1513.1" r="8.3"/><circle cx="195.1" cy="1514.9" r="8.3"/><circle cx="199.0" cy="1514.5" r="8.3"/><circle cx="205.0" cy="1514.2" r="8.3"/><circle cx="209.9" cy="1513.5" r="8.3"/><circle cx="214.9" cy="1513.6" r="8.3"/><circle cx="217.6" cy="1512.2" r="8.3"/><circle cx="221.4" cy="1513.5" r="8.3"/><circle cx="227.6" cy="1512.3" r="8.3"/><circle cx="230.2" cy="1514.2" r="8.3"/><circle cx="234.7" cy="1512.0" r="8.3"/><circle cx="240.8" cy="1514.9" r="8.3"/><circle cx="245.3" cy="1514.9" r="8.3"/><circle cx="248.7" cy="1514.2" r="8.3"/><circle cx="254.2" cy="1513.2" r="8.3"/><circle cx="258.7" cy="1514.1" r="8.3"/><circle cx="262.0" cy="1514.0" r="8.3"/><circle cx="191.4" cy="1518.8" r="8.3"/><circle cx="194.1" cy="1518.1" r="8.3"/><circle cx="199.1" cy="1518.3" r="8.3"/><circle cx="203.8" cy="1516.9" r="8.3"/><circle cx="209.2" cy="1517.1" r="8.3"/><circle cx="213.8" cy="1517.9" r="8.3"/><circle cx="218.8" cy="1517.3" r="8.3"/><circle cx="223.6" cy="1518.2" r="8.3"/><circle cx="227.9" cy="1518.5" r="8.3"/><circle cx="230.4" cy="1517.2" r="8.3"/><circle cx="235.5" cy="1517.8" r="8.3"/><circle cx="240.0" cy="1518.8" r="8.3"/><circle cx="245.6" cy="1516.5" r="8.3"/><circle cx="250.8" cy="1518.7" r="8.3"/><circle cx="254.2" cy="1519.0" r="8.3"/><circle cx="257.0" cy="1518.1" r="8.3"/><circle cx="191.2" cy="1522.5" r="8.3"/><circle cx="195.4" cy="1522.0" r="8.3"/><circle cx="199.7" cy="1523.0" r="8.3"/><circle cx="203.3" cy="1523.5" r="8.3"/><circle cx="209.9" cy="1521.6" r="8.3"/><circle cx="214.1" cy="1522.8" r="8.3"/><circle cx="218.3" cy="1521.2" r="8.3"/><circle cx="224.0" cy="1521.7" r="8.3"/><circle cx="228.1" cy="1524.0" r="8.3"/><circle cx="232.4" cy="1522.1" r="8.3"/><circle cx="234.7" cy="1521.2" r="8.3"/><circle cx="241.3" cy="1523.6" r="8.3"/><circle cx="246.1" cy="1523.3" r="8.3"/><circle cx="248.8" cy="1523.6" r="8.3"/><circle cx="254.2" cy="1523.1" r="8.3"/><circle cx="190.2" cy="1525.7" r="8.3"/><circle cx="195.8" cy="1527.7" r="8.3"/><circle cx="200.3" cy="1525.6" r="8.3"/><circle cx="203.6" cy="1528.1" r="8.3"/><circle cx="207.7" cy="1526.7" r="8.3"/><circle cx="212.8" cy="1526.8" r="8.3"/><circle cx="219.3" cy="1528.2" r="8.3"/><circle cx="222.4" cy="1525.7" r="8.3"/><circle cx="226.1" cy="1525.6" r="8.3"/><circle cx="231.2" cy="1528.0" r="8.3"/><circle cx="235.8" cy="1526.0" r="8.3"/><circle cx="239.6" cy="1525.8" r="8.3"/><circle cx="245.6" cy="1526.6" r="8.3"/><circle cx="250.8" cy="1527.5" r="8.3"/><circle cx="191.8" cy="1532.6" r="8.3"/><circle cx="194.6" cy="1531.0" r="8.3"/><circle cx="199.8" cy="1532.1" r="8.3"/><circle cx="205.3" cy="1530.2" r="8.3"/><circle cx="207.8" cy="1530.9" r="8.3"/><circle cx="214.8" cy="1532.4" r="8.3"/><circle cx="217.6" cy="1530.2" r="8.3"/><circle cx="221.9" cy="1531.3" r="8.3"/><circle cx="226.0" cy="1531.7" r="8.3"/><circle cx="231.6" cy="1530.6" r="8.3"/><circle cx="237.4" cy="1531.0" r="8.3"/><circle cx="240.8" cy="1531.7" r="8.3"/><circle cx="192.4" cy="1537.3" r="8.3"/><circle cx="194.2" cy="1535.0" r="8.3"/><circle cx="200.2" cy="1537.4" r="8.3"/><circle cx="203.6" cy="1534.7" r="8.3"/><circle cx="208.7" cy="1535.1" r="8.3"/><circle cx="213.2" cy="1535.6" r="8.3"/><circle cx="218.3" cy="1535.0" r="8.3"/><circle cx="222.2" cy="1537.3" r="8.3"/><circle cx="226.2" cy="1536.7" r="8.3"/><circle cx="231.1" cy="1536.3" r="8.3"/><circle cx="234.5" cy="1536.9" r="8.3"/><circle cx="241.1" cy="1535.4" r="8.3"/><circle cx="196.0" cy="1539.6" r="8.3"/><circle cx="200.4" cy="1539.5" r="8.3"/><circle cx="203.6" cy="1539.1" r="8.3"/><circle cx="209.4" cy="1542.0" r="8.3"/><circle cx="213.2" cy="1540.1" r="8.3"/><circle cx="217.5" cy="1539.5" r="8.3"/><circle cx="222.0" cy="1541.1" r="8.3"/><circle cx="227.4" cy="1540.0" r="8.3"/><circle cx="231.4" cy="1541.6" r="8.3"/><circle cx="235.0" cy="1541.8" r="8.3"/><circle cx="192.2" cy="1544.3" r="8.3"/><circle cx="196.6" cy="1543.5" r="8.3"/><circle cx="199.8" cy="1543.7" r="8.3"/><circle cx="204.7" cy="1545.9" r="8.3"/><circle cx="209.6" cy="1545.2" r="8.3"/><circle cx="212.1" cy="1544.0" r="8.3"/><circle cx="219.4" cy="1545.5" r="8.3"/><circle cx="222.4" cy="1543.5" r="8.3"/><circle cx="227.1" cy="1546.0" r="8.3"/><circle cx="230.7" cy="1545.1" r="8.3"/><circle cx="190.2" cy="1549.8" r="8.3"/><circle cx="194.7" cy="1548.2" r="8.3"/><circle cx="200.1" cy="1548.5" r="8.3"/><circle cx="203.2" cy="1549.6" r="8.3"/><circle cx="207.6" cy="1551.0" r="8.3"/><circle cx="213.7" cy="1549.8" r="8.3"/><circle cx="217.9" cy="1549.2" r="8.3"/><circle cx="222.8" cy="1548.3" r="8.3"/><circle cx="227.6" cy="1550.6" r="8.3"/><circle cx="191.0" cy="1553.2" r="8.3"/><circle cx="196.6" cy="1553.3" r="8.3"/><circle cx="199.7" cy="1554.5" r="8.3"/><circle cx="203.5" cy="1552.8" r="8.3"/><circle cx="209.7" cy="1553.8" r="8.3"/><circle cx="214.2" cy="1554.8" r="8.3"/><circle cx="219.4" cy="1553.5" r="8.3"/><circle cx="221.4" cy="1553.4" r="8.3"/><circle cx="192.3" cy="1559.3" r="8.3"/><circle cx="194.5" cy="1559.3" r="8.3"/><circle cx="200.6" cy="1558.3" r="8.3"/><circle cx="205.0" cy="1557.8" r="8.3"/><circle cx="208.0" cy="1558.2" r="8.3"/><circle cx="214.6" cy="1557.6" r="8.3"/><circle cx="217.2" cy="1558.4" r="8.3"/><circle cx="222.8" cy="1559.8" r="8.3"/><circle cx="190.2" cy="1564.3" r="8.3"/><circle cx="195.8" cy="1563.4" r="8.3"/><circle cx="200.9" cy="1562.9" r="8.3"/><circle cx="205.3" cy="1563.3" r="8.3"/><circle cx="207.8" cy="1561.5" r="8.3"/><circle cx="214.3" cy="1561.5" r="8.3"/><circle cx="218.8" cy="1562.6" r="8.3"/><circle cx="192.1" cy="1568.5" r="8.3"/><circle cx="197.0" cy="1566.5" r="8.3"/><circle cx="198.7" cy="1566.1" r="8.3"/><circle cx="204.5" cy="1566.0" r="8.3"/><circle cx="209.8" cy="1566.4" r="8.3"/><circle cx="214.4" cy="1566.9" r="8.3"/><circle cx="190.7" cy="1573.3" r="8.3"/><circle cx="195.5" cy="1572.3" r="8.3"/><circle cx="198.9" cy="1572.6" r="8.3"/><circle cx="203.8" cy="1570.7" r="8.3"/><circle cx="209.1" cy="1570.7" r="8.3"/><circle cx="195.9" cy="1575.0" r="8.3"/><circle cx="199.0" cy="1577.8" r="8.3"/><circle cx="204.3" cy="1575.1" r="8.3"/><circle cx="191.0" cy="1582.3" r="8.3"/><circle cx="194.1" cy="1581.5" r="8.3"/><circle cx="198.8" cy="1581.0" r="8.3"/><circle cx="190.2" cy="1310.0" r="8.3"/><circle cx="195.0" cy="1312.6" r="8.3"/><circle cx="198.3" cy="1320.3" r="8.3"/><circle cx="198.2" cy="1321.3" r="8.3"/><circle cx="202.9" cy="1327.1" r="8.3"/><circle cx="207.3" cy="1332.3" r="8.3"/><circle cx="204.3" cy="1330.6" r="8.3"/><circle cx="207.6" cy="1337.6" r="8.3"/><circle cx="209.8" cy="1344.2" r="8.3"/><circle cx="208.7" cy="1342.2" r="8.3"/><circle cx="209.7" cy="1349.0" r="8.3"/><circle cx="208.6" cy="1355.6" r="8.3"/><circle cx="210.0" cy="1357.7" r="8.3"/><circle cx="212.4" cy="1365.6" r="8.3"/><circle cx="213.0" cy="1374.4" r="8.3"/><circle cx="214.1" cy="1376.6" r="8.3"/><circle cx="217.6" cy="1383.9" r="8.3"/><circle cx="223.2" cy="1389.8" r="8.3"/><circle cx="223.8" cy="1390.5" r="8.3"/><circle cx="226.3" cy="1396.7" r="8.3"/><circle cx="231.1" cy="1402.4" r="8.3"/><circle cx="229.6" cy="1402.1" r="8.3"/><circle cx="233.2" cy="1409.6" r="8.3"/><circle cx="236.4" cy="1415.9" r="8.3"/><circle cx="236.4" cy="1416.1" r="8.3"/><circle cx="241.4" cy="1423.6" r="8.3"/><circle cx="244.8" cy="1431.4" r="8.3"/><circle cx="243.8" cy="1431.3" r="8.3"/><circle cx="247.8" cy="1438.4" r="8.3"/><circle cx="249.3" cy="1445.7" r="8.3"/><circle cx="250.7" cy="1444.0" r="8.3"/><circle cx="250.2" cy="1449.8" r="8.3"/><circle cx="252.0" cy="1456.0" r="8.3"/><circle cx="253.3" cy="1461.9" r="8.3"/><circle cx="253.6" cy="1461.9" r="8.3"/><circle cx="256.0" cy="1469.5" r="8.3"/><circle cx="258.2" cy="1476.8" r="8.3"/><circle cx="259.4" cy="1480.5" r="8.3"/><circle cx="263.7" cy="1484.9" r="8.3"/><circle cx="267.1" cy="1490.5" r="8.3"/><circle cx="268.3" cy="1490.1" r="8.3"/><circle cx="269.3" cy="1496.6" r="8.3"/><circle cx="269.0" cy="1503.2" r="8.3"/><circle cx="266.9" cy="1509.9" r="8.3"/><circle cx="263.8" cy="1515.1" r="8.3"/><circle cx="260.9" cy="1520.4" r="8.3"/><circle cx="262.5" cy="1517.8" r="8.3"/><circle cx="257.8" cy="1522.6" r="8.3"/><circle cx="253.3" cy="1526.2" r="8.3"/><circle cx="248.2" cy="1529.8" r="8.3"/><circle cx="241.9" cy="1532.6" r="8.3"/><circle cx="241.5" cy="1534.7" r="8.3"/><circle cx="236.6" cy="1539.3" r="8.3"/><circle cx="232.7" cy="1544.2" r="8.3"/><circle cx="229.8" cy="1550.1" r="8.3"/><circle cx="228.6" cy="1550.4" r="8.3"/><circle cx="223.6" cy="1556.4" r="8.3"/><circle cx="219.4" cy="1562.5" r="8.3"/><circle cx="222.2" cy="1560.0" r="8.3"/><circle cx="217.2" cy="1563.4" r="8.3"/><circle cx="213.2" cy="1568.4" r="8.3"/><circle cx="210.3" cy="1568.8" r="8.3"/><circle cx="206.5" cy="1574.1" r="8.3"/><circle cx="203.3" cy="1579.5" r="8.3"/><circle cx="204.9" cy="1577.9" r="8.3"/><circle cx="199.9" cy="1581.5" r="8.3"/><circle cx="194.9" cy="1585.0" r="8.3"/><circle cx="197.8" cy="1582.1" r="8.3"/><circle cx="191.7" cy="1584.1" r="8.3"/><circle cx="191.1" cy="1584.1" r="8.3"/><circle cx="191.9" cy="1577.9" r="8.3"/><circle cx="190.6" cy="1571.7" r="8.3"/><circle cx="190.2" cy="1566.1" r="8.3"/><circle cx="190.5" cy="1560.1" r="8.3"/><circle cx="191.6" cy="1554.0" r="8.3"/><circle cx="190.9" cy="1547.9" r="8.3"/><circle cx="191.4" cy="1541.7" r="8.3"/><circle cx="190.6" cy="1536.0" r="8.3"/><circle cx="191.2" cy="1529.8" r="8.3"/><circle cx="190.7" cy="1524.2" r="8.3"/><circle cx="191.0" cy="1518.0" r="8.3"/><circle cx="190.3" cy="1511.8" r="8.3"/><circle cx="190.2" cy="1506.3" r="8.3"/><circle cx="190.2" cy="1500.3" r="8.3"/><circle cx="190.3" cy="1494.1" r="8.3"/><circle cx="190.4" cy="1487.6" r="8.3"/><circle cx="191.5" cy="1482.2" r="8.3"/><circle cx="190.2" cy="1476.4" r="8.3"/><circle cx="190.7" cy="1470.3" r="8.3"/><circle cx="190.2" cy="1464.0" r="8.3"/><circle cx="190.2" cy="1457.8" r="8.3"/><circle cx="190.4" cy="1452.1" r="8.3"/><circle cx="190.2" cy="1446.0" r="8.3"/><circle cx="192.1" cy="1439.7" r="8.3"/><circle cx="190.9" cy="1434.4" r="8.3"/><circle cx="191.7" cy="1427.9" r="8.3"/><circle cx="190.2" cy="1421.7" r="8.3"/><circle cx="191.9" cy="1415.8" r="8.3"/><circle cx="190.2" cy="1410.2" r="8.3"/><circle cx="190.2" cy="1404.2" r="8.3"/><circle cx="190.2" cy="1397.6" r="8.3"/><circle cx="191.0" cy="1392.3" r="8.3"/><circle cx="190.2" cy="1385.7" r="8.3"/><circle cx="190.9" cy="1379.8" r="8.3"/><circle cx="190.8" cy="1373.8" r="8.3"/><circle cx="191.9" cy="1367.9" r="8.3"/><circle cx="190.8" cy="1361.8" r="8.3"/><circle cx="191.1" cy="1356.2" r="8.3"/><circle cx="191.4" cy="1350.0" r="8.3"/><circle cx="191.0" cy="1344.0" r="8.3"/><circle cx="190.2" cy="1338.3" r="8.3"/><circle cx="191.0" cy="1332.4" r="8.3"/><circle cx="190.7" cy="1326.1" r="8.3"/><circle cx="191.7" cy="1319.7" r="8.3"/><circle cx="191.5" cy="1314.4" r="8.3"/><circle cx="206.6" cy="1320.2" r="8.3"/><circle cx="216.7" cy="1333.0" r="8.3"/><circle cx="221.3" cy="1347.7" r="8.3"/><circle cx="245.1" cy="1344.9" r="8.3"/><circle cx="262.4" cy="1343.1" r="8.3"/><circle cx="288.1" cy="1329.4" r="8.3"/><circle cx="246.0" cy="1357.7" r="8.3"/><circle cx="218.5" cy="1368.7" r="8.3"/><circle cx="237.7" cy="1373.3" r="8.3"/><circle cx="265.2" cy="1374.2" r="8.3"/><circle cx="287.2" cy="1386.1" r="8.3"/><circle cx="297.2" cy="1395.3" r="8.3"/><circle cx="314.6" cy="1391.6" r="8.3"/><circle cx="277.1" cy="1398.9" r="8.3"/><circle cx="313.7" cy="1407.2" r="8.3"/><circle cx="329.3" cy="1408.1" r="8.3"/><circle cx="249.6" cy="1403.5" r="8.3"/><circle cx="242.3" cy="1393.4" r="8.3"/><circle cx="229.5" cy="1395.3" r="8.3"/><circle cx="283.5" cy="1420.9" r="8.3"/><circle cx="318.3" cy="1431.0" r="8.3"/><circle cx="254.2" cy="1423.6" r="8.3"/><circle cx="253.3" cy="1436.5" r="8.3"/><circle cx="240.5" cy="1417.2" r="8.3"/><circle cx="273.4" cy="1447.4" r="8.3"/><circle cx="273.1" cy="1449.7" r="8.3"/><circle cx="263.4" cy="1459.5" r="8.3"/><circle cx="288.7" cy="1456.5" r="8.3"/><circle cx="304.2" cy="1471.1" r="8.3"/><circle cx="317.9" cy="1461.4" r="8.3"/><circle cx="325.6" cy="1465.3" r="8.3"/><circle cx="281.9" cy="1481.8" r="8.3"/><circle cx="329.5" cy="1486.7" r="8.3"/><circle cx="294.5" cy="1506.1" r="8.3"/><circle cx="321.8" cy="1506.1" r="8.3"/><circle cx="279.0" cy="1500.3" r="8.3"/><circle cx="312.0" cy="1521.7" r="8.3"/><circle cx="283.8" cy="1533.4" r="8.3"/><circle cx="299.4" cy="1538.2" r="8.3"/><circle cx="323.7" cy="1529.5" r="8.3"/><circle cx="322.7" cy="1549.9" r="8.3"/><circle cx="304.2" cy="1547.0" r="8.3"/><circle cx="288.7" cy="1557.7" r="8.3"/><circle cx="258.5" cy="1542.1" r="8.3"/><circle cx="249.8" cy="1549.9" r="8.3"/><circle cx="266.3" cy="1559.6" r="8.3"/><circle cx="272.1" cy="1568.4" r="8.3"/><circle cx="255.6" cy="1564.5" r="8.3"/><circle cx="261.4" cy="1581.0" r="8.3"/><circle cx="236.1" cy="1574.2" r="8.3"/><circle cx="216.7" cy="1575.2" r="8.3"/><circle cx="205.0" cy="1586.9" r="8.3"/><circle cx="202.1" cy="1604.4" r="8.3"/><circle cx="190.2" cy="1591.8" r="8.3"/><circle cx="296.5" cy="1583.0" r="8.3"/><circle cx="323.7" cy="1582.0" r="8.3"/><circle cx="325.6" cy="1571.3" r="8.3"/><circle cx="267.3" cy="1532.4" r="8.3"/><circle cx="286.7" cy="1535.3" r="8.3"/><circle cx="320.0" cy="1391.6" r="8.3"/><circle cx="320.0" cy="1407.5" r="8.3"/><circle cx="336.8" cy="1408.4" r="8.3"/><circle cx="367.9" cy="1409.3" r="8.3"/><circle cx="320.0" cy="1432.4" r="8.3"/><circle cx="371.4" cy="1428.8" r="8.3"/><circle cx="374.1" cy="1441.2" r="8.3"/><circle cx="396.3" cy="1429.7" r="8.3"/><circle cx="405.1" cy="1427.9" r="8.3"/><circle cx="441.5" cy="1445.7" r="8.3"/><circle cx="325.3" cy="1464.3" r="8.3"/><circle cx="320.0" cy="1460.7" r="8.3"/><circle cx="351.9" cy="1464.3" r="8.3"/><circle cx="359.0" cy="1473.1" r="8.3"/><circle cx="355.5" cy="1474.9" r="8.3"/><circle cx="383.8" cy="1478.5" r="8.3"/><circle cx="399.8" cy="1484.7" r="8.3"/><circle cx="335.1" cy="1487.3" r="8.3"/><circle cx="373.2" cy="1490.9" r="8.3"/><circle cx="364.3" cy="1499.7" r="8.3"/><circle cx="400.7" cy="1505.1" r="8.3"/><circle cx="324.4" cy="1505.1" r="8.3"/><circle cx="341.3" cy="1513.9" r="8.3"/><circle cx="394.5" cy="1522.8" r="8.3"/><circle cx="325.3" cy="1519.3" r="8.3"/><circle cx="360.8" cy="1529.9" r="8.3"/><circle cx="362.6" cy="1528.1" r="8.3"/><circle cx="328.9" cy="1544.1" r="8.3"/><circle cx="336.0" cy="1545.9" r="8.3"/><circle cx="348.4" cy="1551.2" r="8.3"/><circle cx="355.5" cy="1552.9" r="8.3"/><circle cx="400.7" cy="1540.5" r="8.3"/><circle cx="413.1" cy="1554.7" r="8.3"/><circle cx="328.9" cy="1572.5" r="8.3"/><circle cx="323.5" cy="1583.1" r="8.3"/><circle cx="358.1" cy="1576.0" r="8.3"/><circle cx="372.3" cy="1596.4" r="8.3"/><circle cx="399.8" cy="1598.2" r="8.3"/><circle cx="190.2" cy="1310.0" r="8.3"/><circle cx="190.5" cy="1597.0" r="8.3"/>
</g>
<polygon points="140.7,1447.2 146.5,1449.0 152.4,1450.8 158.2,1452.6 164.1,1454.5 169.9,1456.3 175.7,1458.0 181.6,1459.8 187.4,1461.5 193.2,1463.1 199.1,1464.6 204.9,1465.9 210.8,1467.2 216.6,1468.3 222.4,1469.4 228.3,1470.4 234.1,1471.4 240.0,1472.4 245.8,1473.4 251.6,1474.3 257.5,1475.3 263.3,1476.3 269.1,1477.2 275.0,1478.2 280.8,1479.1 286.7,1480.1 292.5,1481.0 298.3,1482.0 304.2,1482.9 310.0,1483.8 315.9,1484.8 321.7,1485.7 327.5,1486.7 333.4,1487.6 339.2,1488.5 345.0,1489.5 350.9,1490.4 356.7,1491.4 362.6,1492.3 368.4,1493.2 374.2,1494.2 380.1,1495.1 385.9,1496.1 391.7,1497.0 397.6,1497.9 403.4,1498.9 409.3,1499.8 415.1,1500.8 420.9,1501.7 426.8,1502.6 432.6,1503.6 438.5,1504.5 444.3,1505.4 450.1,1506.4 456.0,1507.3 461.8,1508.3 467.6,1509.2 473.5,1510.1 479.3,1511.1 485.2,1512.0 491.0,1513.0 491.0,1559.0 485.2,1557.2 479.3,1555.3 473.5,1553.5 467.6,1551.6 461.8,1549.8 456.0,1547.9 450.1,1546.0 444.3,1544.2 438.5,1542.3 432.6,1540.5 426.8,1538.6 420.9,1536.7 415.1,1534.9 409.3,1533.0 403.4,1531.2 397.6,1529.3 391.7,1527.5 385.9,1525.6 380.1,1523.7 374.2,1521.9 368.4,1520.0 362.6,1518.2 356.7,1516.3 350.9,1514.4 345.0,1512.6 339.2,1510.7 333.4,1508.9 327.5,1507.0 321.7,1505.2 315.9,1503.3 310.0,1501.5 304.2,1499.6 298.3,1497.8 292.5,1495.9 286.7,1494.1 280.8,1492.2 275.0,1490.4 269.1,1488.5 263.3,1486.7 257.5,1484.8 251.6,1483.0 245.8,1481.2 240.0,1479.4 234.1,1477.5 228.3,1475.8 222.4,1474.0 216.6,1472.3 210.8,1470.6 204.9,1469.0 199.1,1467.6 193.2,1466.3 187.4,1465.1 181.6,1464.0 175.7,1462.9 169.9,1461.9 164.1,1460.9 158.2,1459.9 152.4,1459.0 146.5,1458.0 140.7,1457.0" fill="#6a6b70" fill-opacity="0.085"/>
<line x1="140.7" y1="1452.1" x2="491.0" y2="1536.0" stroke="#6a6b70" stroke-width="5.4" stroke-linecap="butt"/>
<g fill="#2373b7" fill-opacity="0.78">
<circle cx="615.1" cy="1336.1" r="8.3"/><circle cx="619.5" cy="1335.8" r="8.3"/><circle cx="623.3" cy="1336.0" r="8.3"/><circle cx="630.2" cy="1336.4" r="8.3"/><circle cx="615.9" cy="1339.7" r="8.3"/><circle cx="618.7" cy="1341.0" r="8.3"/><circle cx="625.2" cy="1339.6" r="8.3"/><circle cx="628.6" cy="1340.0" r="8.3"/><circle cx="634.7" cy="1340.4" r="8.3"/><circle cx="638.9" cy="1338.9" r="8.3"/><circle cx="641.5" cy="1340.7" r="8.3"/><circle cx="645.4" cy="1341.5" r="8.3"/><circle cx="615.3" cy="1345.2" r="8.3"/><circle cx="619.8" cy="1344.5" r="8.3"/><circle cx="624.5" cy="1344.2" r="8.3"/><circle cx="629.7" cy="1343.8" r="8.3"/><circle cx="632.1" cy="1345.8" r="8.3"/><circle cx="638.7" cy="1343.9" r="8.3"/><circle cx="642.9" cy="1343.2" r="8.3"/><circle cx="647.3" cy="1344.0" r="8.3"/><circle cx="650.5" cy="1344.3" r="8.3"/><circle cx="655.1" cy="1343.9" r="8.3"/><circle cx="615.0" cy="1348.3" r="8.3"/><circle cx="619.9" cy="1349.2" r="8.3"/><circle cx="622.9" cy="1349.8" r="8.3"/><circle cx="628.2" cy="1347.8" r="8.3"/><circle cx="633.9" cy="1348.3" r="8.3"/><circle cx="638.9" cy="1350.2" r="8.3"/><circle cx="642.4" cy="1349.1" r="8.3"/><circle cx="647.2" cy="1348.1" r="8.3"/><circle cx="652.1" cy="1348.0" r="8.3"/><circle cx="656.1" cy="1350.5" r="8.3"/><circle cx="616.1" cy="1353.0" r="8.3"/><circle cx="621.1" cy="1354.1" r="8.3"/><circle cx="624.6" cy="1352.3" r="8.3"/><circle cx="629.7" cy="1354.0" r="8.3"/><circle cx="634.6" cy="1352.6" r="8.3"/><circle cx="638.7" cy="1354.8" r="8.3"/><circle cx="642.2" cy="1354.9" r="8.3"/><circle cx="645.5" cy="1354.4" r="8.3"/><circle cx="652.3" cy="1354.8" r="8.3"/><circle cx="656.9" cy="1352.3" r="8.3"/><circle cx="615.7" cy="1358.3" r="8.3"/><circle cx="620.4" cy="1357.7" r="8.3"/><circle cx="625.4" cy="1359.2" r="8.3"/><circle cx="629.6" cy="1357.6" r="8.3"/><circle cx="633.3" cy="1356.5" r="8.3"/><circle cx="637.4" cy="1356.8" r="8.3"/><circle cx="641.9" cy="1356.6" r="8.3"/><circle cx="648.0" cy="1359.2" r="8.3"/><circle cx="650.5" cy="1358.5" r="8.3"/><circle cx="655.1" cy="1358.7" r="8.3"/><circle cx="659.3" cy="1359.5" r="8.3"/><circle cx="616.7" cy="1362.0" r="8.3"/><circle cx="620.9" cy="1362.6" r="8.3"/><circle cx="623.6" cy="1363.7" r="8.3"/><circle cx="630.1" cy="1362.1" r="8.3"/><circle cx="633.5" cy="1362.5" r="8.3"/><circle cx="636.9" cy="1363.7" r="8.3"/><circle cx="642.8" cy="1363.3" r="8.3"/><circle cx="647.2" cy="1361.6" r="8.3"/><circle cx="650.0" cy="1362.9" r="8.3"/><circle cx="655.0" cy="1362.4" r="8.3"/><circle cx="659.9" cy="1363.5" r="8.3"/><circle cx="620.4" cy="1365.6" r="8.3"/><circle cx="623.4" cy="1367.4" r="8.3"/><circle cx="630.0" cy="1368.3" r="8.3"/><circle cx="633.1" cy="1367.6" r="8.3"/><circle cx="637.4" cy="1367.1" r="8.3"/><circle cx="642.1" cy="1365.8" r="8.3"/><circle cx="647.2" cy="1366.6" r="8.3"/><circle cx="649.9" cy="1366.1" r="8.3"/><circle cx="656.7" cy="1365.7" r="8.3"/><circle cx="660.6" cy="1366.6" r="8.3"/><circle cx="616.9" cy="1371.7" r="8.3"/><circle cx="620.0" cy="1370.5" r="8.3"/><circle cx="624.4" cy="1371.6" r="8.3"/><circle cx="628.0" cy="1370.6" r="8.3"/><circle cx="633.6" cy="1371.0" r="8.3"/><circle cx="637.9" cy="1372.2" r="8.3"/><circle cx="643.1" cy="1370.6" r="8.3"/><circle cx="647.9" cy="1372.5" r="8.3"/><circle cx="652.5" cy="1370.7" r="8.3"/><circle cx="656.3" cy="1370.7" r="8.3"/><circle cx="661.1" cy="1371.7" r="8.3"/><circle cx="614.6" cy="1375.1" r="8.3"/><circle cx="620.1" cy="1375.3" r="8.3"/><circle cx="624.0" cy="1374.6" r="8.3"/><circle cx="628.8" cy="1377.4" r="8.3"/><circle cx="632.1" cy="1376.8" r="8.3"/><circle cx="639.1" cy="1377.1" r="8.3"/><circle cx="641.5" cy="1376.4" r="8.3"/><circle cx="645.4" cy="1376.7" r="8.3"/><circle cx="650.6" cy="1376.7" r="8.3"/><circle cx="655.0" cy="1375.9" r="8.3"/><circle cx="659.7" cy="1375.0" r="8.3"/><circle cx="614.6" cy="1380.8" r="8.3"/><circle cx="618.9" cy="1381.8" r="8.3"/><circle cx="624.2" cy="1381.9" r="8.3"/><circle cx="629.3" cy="1379.6" r="8.3"/><circle cx="634.5" cy="1380.3" r="8.3"/><circle cx="637.7" cy="1379.2" r="8.3"/><circle cx="642.9" cy="1379.5" r="8.3"/><circle cx="647.9" cy="1380.3" r="8.3"/><circle cx="650.5" cy="1380.2" r="8.3"/><circle cx="654.7" cy="1380.3" r="8.3"/><circle cx="661.2" cy="1381.5" r="8.3"/><circle cx="666.3" cy="1381.3" r="8.3"/><circle cx="669.6" cy="1379.9" r="8.3"/><circle cx="616.5" cy="1386.2" r="8.3"/><circle cx="620.4" cy="1383.7" r="8.3"/><circle cx="623.7" cy="1383.7" r="8.3"/><circle cx="628.0" cy="1384.1" r="8.3"/><circle cx="633.8" cy="1384.1" r="8.3"/><circle cx="636.5" cy="1384.4" r="8.3"/><circle cx="643.2" cy="1385.4" r="8.3"/><circle cx="647.0" cy="1386.4" r="8.3"/><circle cx="650.0" cy="1385.5" r="8.3"/><circle cx="654.8" cy="1384.0" r="8.3"/><circle cx="660.8" cy="1383.6" r="8.3"/><circle cx="666.0" cy="1384.2" r="8.3"/><circle cx="668.5" cy="1383.6" r="8.3"/><circle cx="673.1" cy="1384.2" r="8.3"/><circle cx="677.3" cy="1383.7" r="8.3"/><circle cx="616.8" cy="1388.1" r="8.3"/><circle cx="620.8" cy="1388.6" r="8.3"/><circle cx="624.8" cy="1389.9" r="8.3"/><circle cx="629.9" cy="1390.9" r="8.3"/><circle cx="634.5" cy="1388.1" r="8.3"/><circle cx="638.4" cy="1390.9" r="8.3"/><circle cx="643.7" cy="1389.4" r="8.3"/><circle cx="645.9" cy="1390.6" r="8.3"/><circle cx="652.8" cy="1388.5" r="8.3"/><circle cx="654.8" cy="1391.0" r="8.3"/><circle cx="659.6" cy="1388.4" r="8.3"/><circle cx="664.2" cy="1391.0" r="8.3"/><circle cx="668.4" cy="1388.2" r="8.3"/><circle cx="675.1" cy="1390.1" r="8.3"/><circle cx="677.0" cy="1388.4" r="8.3"/><circle cx="681.4" cy="1390.0" r="8.3"/><circle cx="615.2" cy="1394.7" r="8.3"/><circle cx="619.6" cy="1392.9" r="8.3"/><circle cx="623.4" cy="1393.0" r="8.3"/><circle cx="628.4" cy="1393.2" r="8.3"/><circle cx="634.0" cy="1392.8" r="8.3"/><circle cx="638.6" cy="1395.2" r="8.3"/><circle cx="641.0" cy="1395.3" r="8.3"/><circle cx="646.4" cy="1394.5" r="8.3"/><circle cx="652.3" cy="1392.9" r="8.3"/><circle cx="656.2" cy="1393.5" r="8.3"/><circle cx="661.1" cy="1395.1" r="8.3"/><circle cx="663.9" cy="1393.7" r="8.3"/><circle cx="669.2" cy="1393.0" r="8.3"/><circle cx="673.5" cy="1394.8" r="8.3"/><circle cx="677.7" cy="1395.4" r="8.3"/><circle cx="684.3" cy="1393.6" r="8.3"/><circle cx="687.0" cy="1394.5" r="8.3"/><circle cx="616.9" cy="1399.1" r="8.3"/><circle cx="621.2" cy="1400.0" r="8.3"/><circle cx="625.6" cy="1399.0" r="8.3"/><circle cx="630.4" cy="1397.3" r="8.3"/><circle cx="633.6" cy="1397.3" r="8.3"/><circle cx="636.7" cy="1397.5" r="8.3"/><circle cx="642.0" cy="1399.7" r="8.3"/><circle cx="646.1" cy="1398.1" r="8.3"/><circle cx="651.1" cy="1398.6" r="8.3"/><circle cx="655.7" cy="1399.5" r="8.3"/><circle cx="661.3" cy="1399.7" r="8.3"/><circle cx="665.0" cy="1399.8" r="8.3"/><circle cx="670.0" cy="1399.3" r="8.3"/><circle cx="673.8" cy="1398.7" r="8.3"/><circle cx="678.1" cy="1398.1" r="8.3"/><circle cx="684.1" cy="1397.3" r="8.3"/><circle cx="687.2" cy="1397.3" r="8.3"/><circle cx="614.6" cy="1402.5" r="8.3"/><circle cx="619.1" cy="1401.6" r="8.3"/><circle cx="623.8" cy="1404.3" r="8.3"/><circle cx="627.5" cy="1404.5" r="8.3"/><circle cx="633.9" cy="1402.8" r="8.3"/><circle cx="638.3" cy="1402.4" r="8.3"/><circle cx="641.9" cy="1401.9" r="8.3"/><circle cx="647.8" cy="1404.4" r="8.3"/><circle cx="652.2" cy="1403.2" r="8.3"/><circle cx="656.2" cy="1404.1" r="8.3"/><circle cx="659.9" cy="1403.4" r="8.3"/><circle cx="663.9" cy="1404.5" r="8.3"/><circle cx="668.0" cy="1403.9" r="8.3"/><circle cx="672.5" cy="1403.2" r="8.3"/><circle cx="679.9" cy="1401.9" r="8.3"/><circle cx="683.4" cy="1404.5" r="8.3"/><circle cx="687.5" cy="1402.9" r="8.3"/><circle cx="691.2" cy="1402.5" r="8.3"/><circle cx="615.2" cy="1406.3" r="8.3"/><circle cx="620.2" cy="1406.9" r="8.3"/><circle cx="623.8" cy="1406.2" r="8.3"/><circle cx="629.4" cy="1406.3" r="8.3"/><circle cx="633.9" cy="1408.2" r="8.3"/><circle cx="638.0" cy="1408.3" r="8.3"/><circle cx="643.2" cy="1408.3" r="8.3"/><circle cx="645.9" cy="1408.6" r="8.3"/><circle cx="652.8" cy="1407.6" r="8.3"/><circle cx="654.5" cy="1408.4" r="8.3"/><circle cx="661.8" cy="1407.7" r="8.3"/><circle cx="665.0" cy="1406.3" r="8.3"/><circle cx="669.3" cy="1406.6" r="8.3"/><circle cx="673.5" cy="1406.3" r="8.3"/><circle cx="677.6" cy="1408.8" r="8.3"/><circle cx="684.3" cy="1406.5" r="8.3"/><circle cx="688.8" cy="1406.6" r="8.3"/><circle cx="691.2" cy="1408.8" r="8.3"/><circle cx="615.9" cy="1412.5" r="8.3"/><circle cx="618.8" cy="1411.2" r="8.3"/><circle cx="625.1" cy="1411.9" r="8.3"/><circle cx="627.8" cy="1412.2" r="8.3"/><circle cx="633.4" cy="1411.6" r="8.3"/><circle cx="637.2" cy="1412.8" r="8.3"/><circle cx="641.4" cy="1411.6" r="8.3"/><circle cx="647.8" cy="1411.1" r="8.3"/><circle cx="650.0" cy="1411.3" r="8.3"/><circle cx="655.4" cy="1411.1" r="8.3"/><circle cx="659.8" cy="1412.3" r="8.3"/><circle cx="664.5" cy="1411.1" r="8.3"/><circle cx="670.0" cy="1411.6" r="8.3"/><circle cx="674.5" cy="1412.0" r="8.3"/><circle cx="677.8" cy="1413.2" r="8.3"/><circle cx="682.2" cy="1411.8" r="8.3"/><circle cx="687.9" cy="1412.8" r="8.3"/><circle cx="691.0" cy="1411.6" r="8.3"/><circle cx="697.3" cy="1412.2" r="8.3"/><circle cx="615.9" cy="1416.8" r="8.3"/><circle cx="619.6" cy="1415.1" r="8.3"/><circle cx="625.5" cy="1417.9" r="8.3"/><circle cx="629.9" cy="1415.8" r="8.3"/><circle cx="632.0" cy="1417.3" r="8.3"/><circle cx="637.1" cy="1417.6" r="8.3"/><circle cx="643.1" cy="1417.0" r="8.3"/><circle cx="646.4" cy="1416.4" r="8.3"/><circle cx="652.9" cy="1417.3" r="8.3"/><circle cx="655.5" cy="1415.3" r="8.3"/><circle cx="660.5" cy="1417.8" r="8.3"/><circle cx="665.4" cy="1417.3" r="8.3"/><circle cx="670.3" cy="1417.8" r="8.3"/><circle cx="675.2" cy="1416.3" r="8.3"/><circle cx="676.9" cy="1416.3" r="8.3"/><circle cx="681.5" cy="1417.9" r="8.3"/><circle cx="686.9" cy="1415.6" r="8.3"/><circle cx="692.8" cy="1417.3" r="8.3"/><circle cx="696.3" cy="1416.4" r="8.3"/><circle cx="701.4" cy="1417.0" r="8.3"/><circle cx="615.0" cy="1422.0" r="8.3"/><circle cx="620.7" cy="1420.9" r="8.3"/><circle cx="624.0" cy="1421.1" r="8.3"/><circle cx="629.3" cy="1421.5" r="8.3"/><circle cx="634.1" cy="1422.4" r="8.3"/><circle cx="637.6" cy="1422.3" r="8.3"/><circle cx="641.1" cy="1421.2" r="8.3"/><circle cx="646.5" cy="1419.9" r="8.3"/><circle cx="651.4" cy="1420.7" r="8.3"/><circle cx="655.4" cy="1419.7" r="8.3"/><circle cx="660.0" cy="1420.1" r="8.3"/><circle cx="663.6" cy="1421.4" r="8.3"/><circle cx="668.8" cy="1421.1" r="8.3"/><circle cx="673.6" cy="1422.3" r="8.3"/><circle cx="677.0" cy="1419.6" r="8.3"/><circle cx="684.0" cy="1421.8" r="8.3"/><circle cx="688.5" cy="1421.6" r="8.3"/><circle cx="692.2" cy="1420.7" r="8.3"/><circle cx="696.8" cy="1420.5" r="8.3"/><circle cx="700.7" cy="1420.6" r="8.3"/><circle cx="614.6" cy="1427.0" r="8.3"/><circle cx="619.8" cy="1425.3" r="8.3"/><circle cx="622.9" cy="1426.3" r="8.3"/><circle cx="629.8" cy="1424.6" r="8.3"/><circle cx="634.0" cy="1426.6" r="8.3"/><circle cx="637.4" cy="1424.8" r="8.3"/><circle cx="643.5" cy="1426.0" r="8.3"/><circle cx="648.4" cy="1426.1" r="8.3"/><circle cx="650.1" cy="1425.6" r="8.3"/><circle cx="656.8" cy="1424.5" r="8.3"/><circle cx="660.2" cy="1427.0" r="8.3"/><circle cx="664.1" cy="1424.0" r="8.3"/><circle cx="669.0" cy="1424.2" r="8.3"/><circle cx="673.7" cy="1425.9" r="8.3"/><circle cx="677.3" cy="1425.5" r="8.3"/><circle cx="682.8" cy="1426.7" r="8.3"/><circle cx="686.4" cy="1425.7" r="8.3"/><circle cx="693.0" cy="1424.8" r="8.3"/><circle cx="695.8" cy="1426.7" r="8.3"/><circle cx="701.5" cy="1424.7" r="8.3"/><circle cx="614.6" cy="1429.4" r="8.3"/><circle cx="620.8" cy="1428.7" r="8.3"/><circle cx="623.1" cy="1429.3" r="8.3"/><circle cx="628.0" cy="1429.6" r="8.3"/><circle cx="634.4" cy="1430.4" r="8.3"/><circle cx="639.3" cy="1429.9" r="8.3"/><circle cx="641.1" cy="1430.3" r="8.3"/><circle cx="646.0" cy="1429.9" r="8.3"/><circle cx="650.3" cy="1431.2" r="8.3"/><circle cx="654.6" cy="1430.9" r="8.3"/><circle cx="659.5" cy="1431.1" r="8.3"/><circle cx="665.9" cy="1429.1" r="8.3"/><circle cx="669.9" cy="1430.8" r="8.3"/><circle cx="672.8" cy="1430.9" r="8.3"/><circle cx="678.3" cy="1431.0" r="8.3"/><circle cx="683.2" cy="1429.9" r="8.3"/><circle cx="686.5" cy="1429.7" r="8.3"/><circle cx="690.7" cy="1429.6" r="8.3"/><circle cx="697.0" cy="1429.5" r="8.3"/><circle cx="700.8" cy="1429.3" r="8.3"/><circle cx="615.6" cy="1433.8" r="8.3"/><circle cx="619.5" cy="1433.0" r="8.3"/><circle cx="624.8" cy="1434.0" r="8.3"/><circle cx="630.2" cy="1435.1" r="8.3"/><circle cx="633.6" cy="1433.2" r="8.3"/><circle cx="636.7" cy="1434.2" r="8.3"/><circle cx="643.7" cy="1435.9" r="8.3"/><circle cx="645.6" cy="1435.5" r="8.3"/><circle cx="652.7" cy="1433.2" r="8.3"/><circle cx="657.1" cy="1434.0" r="8.3"/><circle cx="660.2" cy="1433.0" r="8.3"/><circle cx="664.8" cy="1435.1" r="8.3"/><circle cx="669.4" cy="1434.9" r="8.3"/><circle cx="674.7" cy="1434.2" r="8.3"/><circle cx="679.3" cy="1435.0" r="8.3"/><circle cx="683.5" cy="1436.0" r="8.3"/><circle cx="688.3" cy="1433.3" r="8.3"/><circle cx="692.8" cy="1434.1" r="8.3"/><circle cx="697.5" cy="1433.4" r="8.3"/><circle cx="616.1" cy="1439.3" r="8.3"/><circle cx="620.3" cy="1440.4" r="8.3"/><circle cx="624.7" cy="1437.7" r="8.3"/><circle cx="628.6" cy="1438.9" r="8.3"/><circle cx="634.3" cy="1439.7" r="8.3"/><circle cx="639.1" cy="1438.3" r="8.3"/><circle cx="641.4" cy="1439.3" r="8.3"/><circle cx="648.1" cy="1438.9" r="8.3"/><circle cx="652.5" cy="1437.9" r="8.3"/><circle cx="654.9" cy="1439.7" r="8.3"/><circle cx="659.4" cy="1440.0" r="8.3"/><circle cx="666.2" cy="1439.7" r="8.3"/><circle cx="669.4" cy="1439.5" r="8.3"/><circle cx="674.7" cy="1439.9" r="8.3"/><circle cx="678.1" cy="1440.4" r="8.3"/><circle cx="681.6" cy="1438.6" r="8.3"/><circle cx="687.2" cy="1439.1" r="8.3"/><circle cx="691.7" cy="1437.8" r="8.3"/><circle cx="614.6" cy="1443.7" r="8.3"/><circle cx="618.7" cy="1444.8" r="8.3"/><circle cx="625.7" cy="1442.2" r="8.3"/><circle cx="628.6" cy="1444.7" r="8.3"/><circle cx="632.6" cy="1443.9" r="8.3"/><circle cx="638.4" cy="1444.6" r="8.3"/><circle cx="642.2" cy="1444.0" r="8.3"/><circle cx="646.0" cy="1442.6" r="8.3"/><circle cx="650.2" cy="1443.3" r="8.3"/><circle cx="657.0" cy="1443.9" r="8.3"/><circle cx="659.8" cy="1444.9" r="8.3"/><circle cx="663.8" cy="1442.8" r="8.3"/><circle cx="670.6" cy="1444.7" r="8.3"/><circle cx="672.4" cy="1444.1" r="8.3"/><circle cx="677.0" cy="1444.7" r="8.3"/><circle cx="683.4" cy="1443.6" r="8.3"/><circle cx="686.2" cy="1444.7" r="8.3"/><circle cx="692.6" cy="1443.4" r="8.3"/><circle cx="695.9" cy="1442.8" r="8.3"/><circle cx="614.9" cy="1446.6" r="8.3"/><circle cx="620.6" cy="1447.4" r="8.3"/><circle cx="624.3" cy="1448.0" r="8.3"/><circle cx="629.0" cy="1446.7" r="8.3"/><circle cx="634.7" cy="1449.4" r="8.3"/><circle cx="636.8" cy="1446.7" r="8.3"/><circle cx="643.7" cy="1447.6" r="8.3"/><circle cx="647.8" cy="1447.2" r="8.3"/><circle cx="650.7" cy="1448.7" r="8.3"/><circle cx="655.5" cy="1448.0" r="8.3"/><circle cx="661.5" cy="1448.0" r="8.3"/><circle cx="664.4" cy="1448.9" r="8.3"/><circle cx="669.1" cy="1447.3" r="8.3"/><circle cx="673.6" cy="1448.2" r="8.3"/><circle cx="677.2" cy="1447.1" r="8.3"/><circle cx="682.5" cy="1446.8" r="8.3"/><circle cx="686.4" cy="1448.0" r="8.3"/><circle cx="691.9" cy="1448.4" r="8.3"/><circle cx="696.2" cy="1447.6" r="8.3"/><circle cx="614.6" cy="1452.2" r="8.3"/><circle cx="620.7" cy="1452.3" r="8.3"/><circle cx="625.8" cy="1453.7" r="8.3"/><circle cx="628.9" cy="1452.6" r="8.3"/><circle cx="633.6" cy="1453.1" r="8.3"/><circle cx="639.4" cy="1453.4" r="8.3"/><circle cx="641.7" cy="1453.4" r="8.3"/><circle cx="646.9" cy="1453.4" r="8.3"/><circle cx="652.7" cy="1453.9" r="8.3"/><circle cx="656.0" cy="1451.4" r="8.3"/><circle cx="659.6" cy="1451.6" r="8.3"/><circle cx="664.5" cy="1452.8" r="8.3"/><circle cx="669.8" cy="1452.0" r="8.3"/><circle cx="674.5" cy="1453.2" r="8.3"/><circle cx="679.8" cy="1452.6" r="8.3"/><circle cx="681.8" cy="1452.0" r="8.3"/><circle cx="686.7" cy="1452.2" r="8.3"/><circle cx="693.3" cy="1452.4" r="8.3"/><circle cx="696.4" cy="1452.3" r="8.3"/><circle cx="700.4" cy="1453.0" r="8.3"/><circle cx="619.0" cy="1457.9" r="8.3"/><circle cx="624.1" cy="1456.1" r="8.3"/><circle cx="629.9" cy="1456.0" r="8.3"/><circle cx="632.2" cy="1456.2" r="8.3"/><circle cx="639.0" cy="1458.2" r="8.3"/><circle cx="641.9" cy="1456.6" r="8.3"/><circle cx="645.9" cy="1456.9" r="8.3"/><circle cx="650.5" cy="1456.4" r="8.3"/><circle cx="655.2" cy="1456.9" r="8.3"/><circle cx="660.7" cy="1456.2" r="8.3"/><circle cx="665.7" cy="1458.3" r="8.3"/><circle cx="668.3" cy="1458.3" r="8.3"/><circle cx="674.1" cy="1457.8" r="8.3"/><circle cx="678.8" cy="1456.8" r="8.3"/><circle cx="683.3" cy="1457.8" r="8.3"/><circle cx="686.2" cy="1457.8" r="8.3"/><circle cx="692.2" cy="1455.7" r="8.3"/><circle cx="695.2" cy="1456.1" r="8.3"/><circle cx="700.8" cy="1457.6" r="8.3"/><circle cx="705.2" cy="1456.1" r="8.3"/><circle cx="616.5" cy="1460.0" r="8.3"/><circle cx="621.4" cy="1461.3" r="8.3"/><circle cx="623.1" cy="1462.6" r="8.3"/><circle cx="630.0" cy="1460.8" r="8.3"/><circle cx="632.7" cy="1462.7" r="8.3"/><circle cx="638.0" cy="1460.8" r="8.3"/><circle cx="642.1" cy="1460.6" r="8.3"/><circle cx="648.3" cy="1462.2" r="8.3"/><circle cx="652.4" cy="1460.3" r="8.3"/><circle cx="654.5" cy="1460.9" r="8.3"/><circle cx="659.6" cy="1462.2" r="8.3"/><circle cx="665.1" cy="1460.2" r="8.3"/><circle cx="669.9" cy="1462.9" r="8.3"/><circle cx="673.4" cy="1460.3" r="8.3"/><circle cx="679.3" cy="1461.8" r="8.3"/><circle cx="683.7" cy="1462.4" r="8.3"/><circle cx="688.5" cy="1461.1" r="8.3"/><circle cx="691.5" cy="1462.3" r="8.3"/><circle cx="695.0" cy="1461.3" r="8.3"/><circle cx="701.6" cy="1460.8" r="8.3"/><circle cx="706.8" cy="1461.2" r="8.3"/><circle cx="708.4" cy="1461.7" r="8.3"/><circle cx="620.9" cy="1467.1" r="8.3"/><circle cx="623.7" cy="1466.4" r="8.3"/><circle cx="629.1" cy="1465.9" r="8.3"/><circle cx="634.6" cy="1464.5" r="8.3"/><circle cx="637.3" cy="1465.3" r="8.3"/><circle cx="641.1" cy="1466.7" r="8.3"/><circle cx="647.0" cy="1465.6" r="8.3"/><circle cx="651.9" cy="1464.7" r="8.3"/><circle cx="656.3" cy="1466.3" r="8.3"/><circle cx="658.9" cy="1465.6" r="8.3"/><circle cx="663.8" cy="1464.6" r="8.3"/><circle cx="670.5" cy="1465.8" r="8.3"/><circle cx="674.7" cy="1464.5" r="8.3"/><circle cx="678.1" cy="1464.7" r="8.3"/><circle cx="681.4" cy="1467.0" r="8.3"/><circle cx="688.4" cy="1466.0" r="8.3"/><circle cx="691.3" cy="1465.0" r="8.3"/><circle cx="695.6" cy="1465.9" r="8.3"/><circle cx="701.3" cy="1467.0" r="8.3"/><circle cx="706.2" cy="1466.0" r="8.3"/><circle cx="708.9" cy="1467.1" r="8.3"/><circle cx="616.4" cy="1469.5" r="8.3"/><circle cx="618.9" cy="1470.6" r="8.3"/><circle cx="625.6" cy="1471.7" r="8.3"/><circle cx="628.5" cy="1469.5" r="8.3"/><circle cx="634.1" cy="1469.5" r="8.3"/><circle cx="637.3" cy="1470.6" r="8.3"/><circle cx="643.2" cy="1471.3" r="8.3"/><circle cx="647.3" cy="1469.8" r="8.3"/><circle cx="650.8" cy="1471.6" r="8.3"/><circle cx="656.7" cy="1469.9" r="8.3"/><circle cx="658.9" cy="1471.4" r="8.3"/><circle cx="664.2" cy="1471.4" r="8.3"/><circle cx="669.1" cy="1470.2" r="8.3"/><circle cx="673.9" cy="1469.2" r="8.3"/><circle cx="679.3" cy="1472.0" r="8.3"/><circle cx="682.7" cy="1469.2" r="8.3"/><circle cx="686.3" cy="1470.4" r="8.3"/><circle cx="692.9" cy="1470.3" r="8.3"/><circle cx="696.8" cy="1470.1" r="8.3"/><circle cx="701.4" cy="1471.7" r="8.3"/><circle cx="705.5" cy="1470.0" r="8.3"/><circle cx="710.3" cy="1470.2" r="8.3"/><circle cx="615.5" cy="1474.7" r="8.3"/><circle cx="620.6" cy="1475.7" r="8.3"/><circle cx="625.9" cy="1473.7" r="8.3"/><circle cx="627.5" cy="1475.1" r="8.3"/><circle cx="632.0" cy="1474.4" r="8.3"/><circle cx="636.6" cy="1476.1" r="8.3"/><circle cx="643.1" cy="1475.9" r="8.3"/><circle cx="645.6" cy="1475.4" r="8.3"/><circle cx="649.9" cy="1474.3" r="8.3"/><circle cx="656.2" cy="1475.9" r="8.3"/><circle cx="661.8" cy="1475.1" r="8.3"/><circle cx="666.1" cy="1474.5" r="8.3"/><circle cx="669.6" cy="1473.6" r="8.3"/><circle cx="674.2" cy="1474.7" r="8.3"/><circle cx="679.1" cy="1476.1" r="8.3"/><circle cx="682.0" cy="1474.0" r="8.3"/><circle cx="687.4" cy="1473.8" r="8.3"/><circle cx="693.0" cy="1474.2" r="8.3"/><circle cx="695.0" cy="1475.2" r="8.3"/><circle cx="700.0" cy="1476.2" r="8.3"/><circle cx="705.2" cy="1475.5" r="8.3"/><circle cx="709.9" cy="1474.0" r="8.3"/><circle cx="714.3" cy="1475.2" r="8.3"/><circle cx="615.7" cy="1480.3" r="8.3"/><circle cx="619.5" cy="1478.9" r="8.3"/><circle cx="623.9" cy="1478.7" r="8.3"/><circle cx="629.7" cy="1478.3" r="8.3"/><circle cx="632.5" cy="1480.0" r="8.3"/><circle cx="637.5" cy="1480.5" r="8.3"/><circle cx="642.9" cy="1478.3" r="8.3"/><circle cx="646.1" cy="1479.4" r="8.3"/><circle cx="651.3" cy="1480.5" r="8.3"/><circle cx="655.8" cy="1479.9" r="8.3"/><circle cx="659.1" cy="1478.3" r="8.3"/><circle cx="665.4" cy="1480.0" r="8.3"/><circle cx="669.1" cy="1480.5" r="8.3"/><circle cx="672.5" cy="1479.5" r="8.3"/><circle cx="678.2" cy="1480.9" r="8.3"/><circle cx="681.9" cy="1478.3" r="8.3"/><circle cx="686.8" cy="1480.1" r="8.3"/><circle cx="693.2" cy="1480.0" r="8.3"/><circle cx="697.5" cy="1480.9" r="8.3"/><circle cx="700.4" cy="1479.8" r="8.3"/><circle cx="706.7" cy="1480.5" r="8.3"/><circle cx="710.9" cy="1478.5" r="8.3"/><circle cx="713.1" cy="1479.1" r="8.3"/><circle cx="616.1" cy="1485.3" r="8.3"/><circle cx="619.6" cy="1484.7" r="8.3"/><circle cx="623.8" cy="1483.5" r="8.3"/><circle cx="629.4" cy="1484.7" r="8.3"/><circle cx="632.0" cy="1483.7" r="8.3"/><circle cx="637.7" cy="1483.8" r="8.3"/><circle cx="643.6" cy="1483.7" r="8.3"/><circle cx="647.1" cy="1482.8" r="8.3"/><circle cx="652.3" cy="1483.2" r="8.3"/><circle cx="657.3" cy="1483.4" r="8.3"/><circle cx="659.1" cy="1485.4" r="8.3"/><circle cx="666.3" cy="1482.9" r="8.3"/><circle cx="670.6" cy="1482.5" r="8.3"/><circle cx="673.0" cy="1484.7" r="8.3"/><circle cx="677.1" cy="1484.9" r="8.3"/><circle cx="681.7" cy="1483.5" r="8.3"/><circle cx="686.7" cy="1484.4" r="8.3"/><circle cx="692.7" cy="1485.3" r="8.3"/><circle cx="696.5" cy="1483.1" r="8.3"/><circle cx="700.8" cy="1484.1" r="8.3"/><circle cx="706.2" cy="1484.5" r="8.3"/><circle cx="709.5" cy="1484.2" r="8.3"/><circle cx="616.0" cy="1487.7" r="8.3"/><circle cx="619.0" cy="1488.4" r="8.3"/><circle cx="625.3" cy="1489.5" r="8.3"/><circle cx="628.7" cy="1487.9" r="8.3"/><circle cx="632.0" cy="1487.3" r="8.3"/><circle cx="638.8" cy="1488.7" r="8.3"/><circle cx="643.5" cy="1489.5" r="8.3"/><circle cx="646.3" cy="1489.0" r="8.3"/><circle cx="652.3" cy="1488.1" r="8.3"/><circle cx="654.9" cy="1487.8" r="8.3"/><circle cx="659.3" cy="1489.0" r="8.3"/><circle cx="665.9" cy="1488.1" r="8.3"/><circle cx="669.4" cy="1489.0" r="8.3"/><circle cx="674.8" cy="1487.3" r="8.3"/><circle cx="679.2" cy="1489.9" r="8.3"/><circle cx="682.2" cy="1488.9" r="8.3"/><circle cx="688.7" cy="1487.6" r="8.3"/><circle cx="692.8" cy="1488.5" r="8.3"/><circle cx="695.2" cy="1488.2" r="8.3"/><circle cx="701.2" cy="1488.7" r="8.3"/><circle cx="705.9" cy="1487.5" r="8.3"/><circle cx="615.1" cy="1493.8" r="8.3"/><circle cx="619.0" cy="1492.8" r="8.3"/><circle cx="625.3" cy="1492.6" r="8.3"/><circle cx="629.3" cy="1491.9" r="8.3"/><circle cx="632.0" cy="1493.6" r="8.3"/><circle cx="639.0" cy="1492.6" r="8.3"/><circle cx="642.0" cy="1493.2" r="8.3"/><circle cx="646.0" cy="1491.7" r="8.3"/><circle cx="651.3" cy="1492.4" r="8.3"/><circle cx="656.6" cy="1494.4" r="8.3"/><circle cx="660.2" cy="1493.2" r="8.3"/><circle cx="665.5" cy="1494.4" r="8.3"/><circle cx="669.8" cy="1493.1" r="8.3"/><circle cx="673.6" cy="1491.9" r="8.3"/><circle cx="677.6" cy="1491.5" r="8.3"/><circle cx="681.9" cy="1494.4" r="8.3"/><circle cx="686.8" cy="1494.1" r="8.3"/><circle cx="692.4" cy="1491.6" r="8.3"/><circle cx="614.7" cy="1496.6" r="8.3"/><circle cx="620.7" cy="1498.7" r="8.3"/><circle cx="625.2" cy="1496.0" r="8.3"/><circle cx="628.6" cy="1496.3" r="8.3"/><circle cx="634.4" cy="1498.6" r="8.3"/><circle cx="638.1" cy="1496.1" r="8.3"/><circle cx="643.9" cy="1498.3" r="8.3"/><circle cx="648.2" cy="1496.7" r="8.3"/><circle cx="651.4" cy="1496.1" r="8.3"/><circle cx="655.8" cy="1499.0" r="8.3"/><circle cx="660.2" cy="1498.2" r="8.3"/><circle cx="666.3" cy="1496.1" r="8.3"/><circle cx="668.3" cy="1497.4" r="8.3"/><circle cx="673.9" cy="1497.9" r="8.3"/><circle cx="678.8" cy="1497.6" r="8.3"/><circle cx="681.5" cy="1497.4" r="8.3"/><circle cx="615.7" cy="1501.4" r="8.3"/><circle cx="620.2" cy="1502.5" r="8.3"/><circle cx="625.6" cy="1501.3" r="8.3"/><circle cx="628.7" cy="1501.1" r="8.3"/><circle cx="632.4" cy="1502.0" r="8.3"/><circle cx="638.6" cy="1501.0" r="8.3"/><circle cx="643.2" cy="1501.3" r="8.3"/><circle cx="648.4" cy="1503.5" r="8.3"/><circle cx="651.8" cy="1502.5" r="8.3"/><circle cx="654.5" cy="1501.7" r="8.3"/><circle cx="660.5" cy="1502.5" r="8.3"/><circle cx="663.9" cy="1501.6" r="8.3"/><circle cx="670.1" cy="1502.1" r="8.3"/><circle cx="672.5" cy="1503.1" r="8.3"/><circle cx="679.0" cy="1500.6" r="8.3"/><circle cx="614.9" cy="1508.0" r="8.3"/><circle cx="619.9" cy="1506.5" r="8.3"/><circle cx="623.7" cy="1506.7" r="8.3"/><circle cx="629.6" cy="1507.4" r="8.3"/><circle cx="633.0" cy="1505.3" r="8.3"/><circle cx="636.9" cy="1507.0" r="8.3"/><circle cx="641.9" cy="1507.8" r="8.3"/><circle cx="647.8" cy="1507.6" r="8.3"/><circle cx="650.0" cy="1505.5" r="8.3"/><circle cx="655.3" cy="1506.4" r="8.3"/><circle cx="658.9" cy="1507.5" r="8.3"/><circle cx="665.5" cy="1506.6" r="8.3"/><circle cx="668.5" cy="1505.8" r="8.3"/><circle cx="672.9" cy="1505.6" r="8.3"/><circle cx="616.6" cy="1511.8" r="8.3"/><circle cx="620.7" cy="1510.2" r="8.3"/><circle cx="624.1" cy="1510.5" r="8.3"/><circle cx="627.7" cy="1510.2" r="8.3"/><circle cx="634.1" cy="1509.8" r="8.3"/><circle cx="637.2" cy="1511.2" r="8.3"/><circle cx="641.4" cy="1511.6" r="8.3"/><circle cx="646.4" cy="1510.6" r="8.3"/><circle cx="651.5" cy="1510.7" r="8.3"/><circle cx="657.1" cy="1510.8" r="8.3"/><circle cx="659.1" cy="1511.1" r="8.3"/><circle cx="664.7" cy="1510.4" r="8.3"/><circle cx="669.0" cy="1512.3" r="8.3"/><circle cx="672.5" cy="1509.9" r="8.3"/><circle cx="616.4" cy="1516.8" r="8.3"/><circle cx="620.9" cy="1514.3" r="8.3"/><circle cx="624.7" cy="1514.3" r="8.3"/><circle cx="627.5" cy="1514.2" r="8.3"/><circle cx="634.9" cy="1515.8" r="8.3"/><circle cx="637.9" cy="1516.7" r="8.3"/><circle cx="643.5" cy="1516.2" r="8.3"/><circle cx="645.5" cy="1515.0" r="8.3"/><circle cx="652.8" cy="1515.1" r="8.3"/><circle cx="655.1" cy="1515.0" r="8.3"/><circle cx="661.7" cy="1514.1" r="8.3"/><circle cx="665.3" cy="1514.4" r="8.3"/><circle cx="669.6" cy="1516.0" r="8.3"/><circle cx="674.5" cy="1516.8" r="8.3"/><circle cx="615.8" cy="1521.4" r="8.3"/><circle cx="620.2" cy="1520.6" r="8.3"/><circle cx="624.1" cy="1519.9" r="8.3"/><circle cx="628.3" cy="1519.9" r="8.3"/><circle cx="633.4" cy="1521.4" r="8.3"/><circle cx="636.7" cy="1521.3" r="8.3"/><circle cx="643.3" cy="1519.5" r="8.3"/><circle cx="648.0" cy="1518.9" r="8.3"/><circle cx="652.7" cy="1520.6" r="8.3"/><circle cx="656.6" cy="1521.1" r="8.3"/><circle cx="660.7" cy="1519.7" r="8.3"/><circle cx="665.2" cy="1521.4" r="8.3"/><circle cx="670.6" cy="1520.3" r="8.3"/><circle cx="674.2" cy="1520.7" r="8.3"/><circle cx="615.5" cy="1524.2" r="8.3"/><circle cx="619.3" cy="1524.9" r="8.3"/><circle cx="623.5" cy="1525.2" r="8.3"/><circle cx="629.8" cy="1523.1" r="8.3"/><circle cx="633.2" cy="1523.5" r="8.3"/><circle cx="638.4" cy="1523.1" r="8.3"/><circle cx="642.3" cy="1524.3" r="8.3"/><circle cx="646.0" cy="1525.5" r="8.3"/><circle cx="650.1" cy="1525.9" r="8.3"/><circle cx="656.8" cy="1525.7" r="8.3"/><circle cx="660.0" cy="1525.3" r="8.3"/><circle cx="664.5" cy="1523.7" r="8.3"/><circle cx="668.1" cy="1523.8" r="8.3"/><circle cx="674.2" cy="1524.7" r="8.3"/><circle cx="677.3" cy="1524.5" r="8.3"/><circle cx="615.2" cy="1530.5" r="8.3"/><circle cx="619.9" cy="1529.6" r="8.3"/><circle cx="623.2" cy="1529.4" r="8.3"/><circle cx="628.8" cy="1528.2" r="8.3"/><circle cx="633.9" cy="1530.2" r="8.3"/><circle cx="637.3" cy="1528.6" r="8.3"/><circle cx="641.7" cy="1529.1" r="8.3"/><circle cx="647.7" cy="1530.0" r="8.3"/><circle cx="652.0" cy="1529.6" r="8.3"/><circle cx="654.6" cy="1530.4" r="8.3"/><circle cx="661.7" cy="1529.4" r="8.3"/><circle cx="665.4" cy="1529.2" r="8.3"/><circle cx="669.5" cy="1527.9" r="8.3"/><circle cx="672.5" cy="1527.7" r="8.3"/><circle cx="616.9" cy="1533.1" r="8.3"/><circle cx="619.3" cy="1532.6" r="8.3"/><circle cx="624.3" cy="1532.2" r="8.3"/><circle cx="627.5" cy="1532.3" r="8.3"/><circle cx="632.5" cy="1533.9" r="8.3"/><circle cx="636.5" cy="1534.7" r="8.3"/><circle cx="642.8" cy="1534.3" r="8.3"/><circle cx="647.7" cy="1532.3" r="8.3"/><circle cx="649.9" cy="1532.0" r="8.3"/><circle cx="655.2" cy="1532.3" r="8.3"/><circle cx="659.7" cy="1532.5" r="8.3"/><circle cx="664.5" cy="1532.3" r="8.3"/><circle cx="668.9" cy="1532.5" r="8.3"/><circle cx="674.1" cy="1532.3" r="8.3"/><circle cx="615.9" cy="1538.4" r="8.3"/><circle cx="620.5" cy="1538.0" r="8.3"/><circle cx="623.4" cy="1537.0" r="8.3"/><circle cx="627.4" cy="1536.5" r="8.3"/><circle cx="633.0" cy="1538.0" r="8.3"/><circle cx="637.8" cy="1538.3" r="8.3"/><circle cx="641.8" cy="1538.7" r="8.3"/><circle cx="645.4" cy="1538.7" r="8.3"/><circle cx="652.9" cy="1537.2" r="8.3"/><circle cx="655.9" cy="1537.1" r="8.3"/><circle cx="659.2" cy="1537.3" r="8.3"/><circle cx="664.0" cy="1538.7" r="8.3"/><circle cx="670.5" cy="1536.9" r="8.3"/><circle cx="616.8" cy="1543.0" r="8.3"/><circle cx="619.7" cy="1543.8" r="8.3"/><circle cx="624.7" cy="1541.1" r="8.3"/><circle cx="628.3" cy="1542.2" r="8.3"/><circle cx="633.2" cy="1542.3" r="8.3"/><circle cx="636.9" cy="1542.6" r="8.3"/><circle cx="643.5" cy="1541.6" r="8.3"/><circle cx="645.6" cy="1542.4" r="8.3"/><circle cx="651.9" cy="1542.7" r="8.3"/><circle cx="655.1" cy="1543.1" r="8.3"/><circle cx="660.1" cy="1541.2" r="8.3"/><circle cx="663.7" cy="1542.2" r="8.3"/><circle cx="618.4" cy="1548.0" r="8.3"/><circle cx="625.2" cy="1546.2" r="8.3"/><circle cx="627.7" cy="1546.7" r="8.3"/><circle cx="633.9" cy="1546.6" r="8.3"/><circle cx="637.2" cy="1546.1" r="8.3"/><circle cx="642.8" cy="1548.2" r="8.3"/><circle cx="647.9" cy="1548.3" r="8.3"/><circle cx="651.1" cy="1548.4" r="8.3"/><circle cx="655.4" cy="1545.6" r="8.3"/><circle cx="659.9" cy="1546.9" r="8.3"/><circle cx="615.9" cy="1553.0" r="8.3"/><circle cx="621.1" cy="1550.8" r="8.3"/><circle cx="625.4" cy="1552.0" r="8.3"/><circle cx="628.2" cy="1550.7" r="8.3"/><circle cx="632.4" cy="1551.1" r="8.3"/><circle cx="637.7" cy="1552.7" r="8.3"/><circle cx="641.2" cy="1551.0" r="8.3"/><circle cx="648.0" cy="1552.7" r="8.3"/><circle cx="651.1" cy="1552.8" r="8.3"/><circle cx="656.8" cy="1550.7" r="8.3"/><circle cx="616.9" cy="1556.8" r="8.3"/><circle cx="621.1" cy="1557.4" r="8.3"/><circle cx="623.3" cy="1554.9" r="8.3"/><circle cx="629.5" cy="1555.1" r="8.3"/><circle cx="634.8" cy="1557.4" r="8.3"/><circle cx="637.7" cy="1556.2" r="8.3"/><circle cx="642.4" cy="1555.8" r="8.3"/><circle cx="646.4" cy="1556.2" r="8.3"/><circle cx="651.7" cy="1555.6" r="8.3"/><circle cx="620.2" cy="1560.0" r="8.3"/><circle cx="625.1" cy="1559.5" r="8.3"/><circle cx="628.1" cy="1560.5" r="8.3"/><circle cx="633.1" cy="1559.1" r="8.3"/><circle cx="638.1" cy="1559.0" r="8.3"/><circle cx="641.3" cy="1561.2" r="8.3"/><circle cx="647.3" cy="1559.0" r="8.3"/><circle cx="614.6" cy="1566.1" r="8.3"/><circle cx="621.3" cy="1565.8" r="8.3"/><circle cx="625.9" cy="1564.5" r="8.3"/><circle cx="629.8" cy="1564.6" r="8.3"/><circle cx="634.1" cy="1566.4" r="8.3"/><circle cx="637.1" cy="1564.7" r="8.3"/><circle cx="642.3" cy="1564.2" r="8.3"/><circle cx="614.7" cy="1569.0" r="8.3"/><circle cx="621.0" cy="1568.3" r="8.3"/><circle cx="624.5" cy="1570.1" r="8.3"/><circle cx="628.7" cy="1569.0" r="8.3"/><circle cx="634.6" cy="1569.5" r="8.3"/><circle cx="639.3" cy="1569.2" r="8.3"/><circle cx="641.2" cy="1570.1" r="8.3"/><circle cx="614.8" cy="1574.8" r="8.3"/><circle cx="620.2" cy="1575.1" r="8.3"/><circle cx="625.5" cy="1572.8" r="8.3"/><circle cx="628.4" cy="1575.0" r="8.3"/><circle cx="633.2" cy="1573.2" r="8.3"/><circle cx="636.9" cy="1574.8" r="8.3"/><circle cx="615.3" cy="1577.8" r="8.3"/><circle cx="620.7" cy="1578.0" r="8.3"/><circle cx="625.6" cy="1578.6" r="8.3"/><circle cx="629.1" cy="1577.9" r="8.3"/><circle cx="632.2" cy="1577.1" r="8.3"/><circle cx="637.6" cy="1579.6" r="8.3"/><circle cx="614.6" cy="1583.7" r="8.3"/><circle cx="620.3" cy="1582.1" r="8.3"/><circle cx="625.9" cy="1582.7" r="8.3"/><circle cx="628.8" cy="1584.5" r="8.3"/><circle cx="633.9" cy="1581.7" r="8.3"/><circle cx="614.6" cy="1586.0" r="8.3"/><circle cx="621.3" cy="1586.6" r="8.3"/><circle cx="624.9" cy="1587.5" r="8.3"/><circle cx="629.3" cy="1587.1" r="8.3"/><circle cx="615.8" cy="1591.2" r="8.3"/><circle cx="619.5" cy="1593.4" r="8.3"/><circle cx="616.1" cy="1335.3" r="8.3"/><circle cx="622.6" cy="1335.5" r="8.3"/><circle cx="624.5" cy="1336.7" r="8.3"/><circle cx="631.0" cy="1337.2" r="8.3"/><circle cx="637.5" cy="1338.2" r="8.3"/><circle cx="643.8" cy="1339.0" r="8.3"/><circle cx="642.0" cy="1336.8" r="8.3"/><circle cx="647.2" cy="1339.9" r="8.3"/><circle cx="652.4" cy="1343.6" r="8.3"/><circle cx="656.3" cy="1346.0" r="8.3"/><circle cx="657.1" cy="1352.0" r="8.3"/><circle cx="659.0" cy="1357.8" r="8.3"/><circle cx="658.3" cy="1358.2" r="8.3"/><circle cx="660.9" cy="1364.5" r="8.3"/><circle cx="662.3" cy="1372.0" r="8.3"/><circle cx="666.2" cy="1377.5" r="8.3"/><circle cx="673.0" cy="1380.3" r="8.3"/><circle cx="679.6" cy="1384.2" r="8.3"/><circle cx="681.1" cy="1384.1" r="8.3"/><circle cx="686.6" cy="1390.3" r="8.3"/><circle cx="689.5" cy="1397.0" r="8.3"/><circle cx="691.9" cy="1404.4" r="8.3"/><circle cx="693.1" cy="1405.5" r="8.3"/><circle cx="695.9" cy="1410.4" r="8.3"/><circle cx="700.3" cy="1414.9" r="8.3"/><circle cx="703.7" cy="1421.0" r="8.3"/><circle cx="704.4" cy="1422.8" r="8.3"/><circle cx="699.9" cy="1429.2" r="8.3"/><circle cx="696.8" cy="1435.5" r="8.3"/><circle cx="697.2" cy="1445.1" r="8.3"/><circle cx="701.7" cy="1451.5" r="8.3"/><circle cx="707.4" cy="1457.6" r="8.3"/><circle cx="711.0" cy="1464.9" r="8.3"/><circle cx="708.9" cy="1464.0" r="8.3"/><circle cx="712.5" cy="1470.6" r="8.3"/><circle cx="715.8" cy="1476.6" r="8.3"/><circle cx="715.9" cy="1479.1" r="8.3"/><circle cx="711.7" cy="1484.8" r="8.3"/><circle cx="703.9" cy="1487.4" r="8.3"/><circle cx="697.7" cy="1490.2" r="8.3"/><circle cx="690.6" cy="1491.1" r="8.3"/><circle cx="687.5" cy="1493.4" r="8.3"/><circle cx="681.2" cy="1498.6" r="8.3"/><circle cx="675.2" cy="1502.9" r="8.3"/><circle cx="673.1" cy="1515.2" r="8.3"/><circle cx="677.6" cy="1525.8" r="8.3"/><circle cx="673.9" cy="1532.9" r="8.3"/><circle cx="677.1" cy="1529.9" r="8.3"/><circle cx="671.6" cy="1534.2" r="8.3"/><circle cx="668.4" cy="1539.3" r="8.3"/><circle cx="668.4" cy="1539.1" r="8.3"/><circle cx="664.4" cy="1545.1" r="8.3"/><circle cx="659.7" cy="1548.6" r="8.3"/><circle cx="654.7" cy="1553.9" r="8.3"/><circle cx="658.1" cy="1552.4" r="8.3"/><circle cx="648.2" cy="1556.7" r="8.3"/><circle cx="644.1" cy="1562.3" r="8.3"/><circle cx="641.8" cy="1569.1" r="8.3"/><circle cx="639.6" cy="1577.3" r="8.3"/><circle cx="640.5" cy="1573.6" r="8.3"/><circle cx="636.5" cy="1578.6" r="8.3"/><circle cx="633.0" cy="1584.0" r="8.3"/><circle cx="633.3" cy="1581.9" r="8.3"/><circle cx="627.1" cy="1588.2" r="8.3"/><circle cx="621.0" cy="1593.0" r="8.3"/><circle cx="624.7" cy="1591.7" r="8.3"/><circle cx="618.1" cy="1593.9" r="8.3"/><circle cx="614.8" cy="1591.8" r="8.3"/><circle cx="616.0" cy="1586.0" r="8.3"/><circle cx="615.6" cy="1580.3" r="8.3"/><circle cx="615.0" cy="1574.2" r="8.3"/><circle cx="615.5" cy="1568.0" r="8.3"/><circle cx="614.6" cy="1562.0" r="8.3"/><circle cx="615.6" cy="1556.3" r="8.3"/><circle cx="614.9" cy="1550.1" r="8.3"/><circle cx="616.0" cy="1544.3" r="8.3"/><circle cx="616.0" cy="1538.3" r="8.3"/><circle cx="614.6" cy="1531.9" r="8.3"/><circle cx="614.8" cy="1526.3" r="8.3"/><circle cx="614.9" cy="1520.1" r="8.3"/><circle cx="614.6" cy="1513.8" r="8.3"/><circle cx="615.2" cy="1508.4" r="8.3"/><circle cx="616.1" cy="1501.8" r="8.3"/><circle cx="616.2" cy="1496.4" r="8.3"/><circle cx="615.9" cy="1489.9" r="8.3"/><circle cx="615.5" cy="1483.7" r="8.3"/><circle cx="615.5" cy="1478.1" r="8.3"/><circle cx="615.4" cy="1472.0" r="8.3"/><circle cx="615.0" cy="1466.4" r="8.3"/><circle cx="615.1" cy="1460.0" r="8.3"/><circle cx="614.6" cy="1453.7" r="8.3"/><circle cx="614.6" cy="1448.1" r="8.3"/><circle cx="615.7" cy="1442.2" r="8.3"/><circle cx="616.0" cy="1435.6" r="8.3"/><circle cx="615.9" cy="1430.0" r="8.3"/><circle cx="615.3" cy="1423.7" r="8.3"/><circle cx="616.3" cy="1418.0" r="8.3"/><circle cx="614.6" cy="1412.0" r="8.3"/><circle cx="615.0" cy="1405.6" r="8.3"/><circle cx="615.4" cy="1399.7" r="8.3"/><circle cx="615.1" cy="1393.9" r="8.3"/><circle cx="616.1" cy="1387.6" r="8.3"/><circle cx="616.4" cy="1381.7" r="8.3"/><circle cx="614.8" cy="1376.1" r="8.3"/><circle cx="615.0" cy="1369.7" r="8.3"/><circle cx="615.2" cy="1364.3" r="8.3"/><circle cx="615.8" cy="1358.4" r="8.3"/><circle cx="615.1" cy="1352.3" r="8.3"/><circle cx="616.0" cy="1345.7" r="8.3"/><circle cx="615.8" cy="1339.8" r="8.3"/><circle cx="615.2" cy="1333.8" r="8.3"/><circle cx="614.7" cy="1318.4" r="8.3"/><circle cx="642.6" cy="1310.1" r="8.3"/><circle cx="666.4" cy="1316.5" r="8.3"/><circle cx="670.1" cy="1314.7" r="8.3"/><circle cx="687.4" cy="1329.4" r="8.3"/><circle cx="696.6" cy="1341.3" r="8.3"/><circle cx="699.3" cy="1343.1" r="8.3"/><circle cx="710.3" cy="1357.7" r="8.3"/><circle cx="732.3" cy="1345.8" r="8.3"/><circle cx="738.7" cy="1398.9" r="8.3"/><circle cx="753.4" cy="1417.2" r="8.3"/><circle cx="745.1" cy="1444.7" r="8.3"/><circle cx="704.8" cy="1408.1" r="8.3"/><circle cx="723.1" cy="1420.0" r="8.3"/><circle cx="687.4" cy="1383.4" r="8.3"/><circle cx="680.1" cy="1346.8" r="8.3"/><circle cx="677.4" cy="1362.3" r="8.3"/><circle cx="698.0" cy="1520.3" r="8.3"/><circle cx="735.0" cy="1505.9" r="8.3"/><circle cx="750.5" cy="1481.2" r="8.3"/><circle cx="749.4" cy="1491.5" r="8.3"/><circle cx="702.1" cy="1543.0" r="8.3"/><circle cx="721.6" cy="1540.9" r="8.3"/><circle cx="729.9" cy="1550.2" r="8.3"/><circle cx="739.1" cy="1530.6" r="8.3"/><circle cx="700.0" cy="1560.5" r="8.3"/><circle cx="700.0" cy="1566.6" r="8.3"/><circle cx="691.8" cy="1578.0" r="8.3"/><circle cx="672.2" cy="1566.6" r="8.3"/><circle cx="672.2" cy="1572.8" r="8.3"/><circle cx="664.0" cy="1586.2" r="8.3"/><circle cx="670.2" cy="1587.2" r="8.3"/><circle cx="680.5" cy="1596.5" r="8.3"/><circle cx="642.4" cy="1584.1" r="8.3"/><circle cx="746.3" cy="1446.2" r="8.3"/><circle cx="619.7" cy="1602.7" r="8.3"/><circle cx="631.0" cy="1598.6" r="8.3"/><circle cx="708.3" cy="1488.4" r="8.3"/><circle cx="720.6" cy="1486.3" r="8.3"/><circle cx="684.6" cy="1520.3" r="8.3"/><circle cx="732.2" cy="1345.4" r="8.3"/><circle cx="770.6" cy="1346.8" r="8.3"/><circle cx="710.8" cy="1356.8" r="8.3"/><circle cx="739.3" cy="1398.1" r="8.3"/><circle cx="800.5" cy="1395.3" r="8.3"/><circle cx="858.9" cy="1392.4" r="8.3"/><circle cx="779.2" cy="1408.1" r="8.3"/><circle cx="759.3" cy="1416.6" r="8.3"/><circle cx="799.1" cy="1426.6" r="8.3"/><circle cx="746.4" cy="1445.1" r="8.3"/><circle cx="864.6" cy="1438.0" r="8.3"/><circle cx="813.4" cy="1456.5" r="8.3"/><circle cx="866.0" cy="1473.6" r="8.3"/><circle cx="753.5" cy="1480.7" r="8.3"/><circle cx="750.7" cy="1490.7" r="8.3"/><circle cx="773.5" cy="1513.5" r="8.3"/><circle cx="789.2" cy="1523.4" r="8.3"/><circle cx="739.3" cy="1530.5" r="8.3"/><circle cx="799.1" cy="1560.5" r="8.3"/><circle cx="720.8" cy="1420.9" r="8.3"/><circle cx="702.3" cy="1420.9" r="8.3"/><circle cx="722.2" cy="1412.3" r="8.3"/><circle cx="614.7" cy="1318.4" r="8.3"/><circle cx="622.5" cy="1323.9" r="8.3"/><circle cx="642.6" cy="1310.1" r="8.3"/><circle cx="640.8" cy="1317.5" r="8.3"/><circle cx="666.4" cy="1316.5" r="8.3"/><circle cx="670.1" cy="1314.7" r="8.3"/><circle cx="664.6" cy="1330.3" r="8.3"/><circle cx="651.8" cy="1324.8" r="8.3"/><circle cx="617.0" cy="1337.6" r="8.3"/><circle cx="625.2" cy="1333.0" r="8.3"/><circle cx="646.3" cy="1335.8" r="8.3"/><circle cx="659.1" cy="1344.9" r="8.3"/><circle cx="672.8" cy="1354.1" r="8.3"/><circle cx="632.0" cy="1318.0" r="8.3"/><circle cx="614.6" cy="1330.0" r="8.3"/><circle cx="650.0" cy="1332.0" r="8.3"/><circle cx="635.0" cy="1330.0" r="8.3"/>
</g>
<polygon points="579.8,1480.6 585.1,1479.9 590.5,1479.2 595.8,1478.5 601.2,1477.8 606.5,1477.0 611.8,1476.2 617.2,1475.2 622.5,1474.1 627.9,1472.8 633.2,1471.4 638.5,1469.8 643.9,1468.2 649.2,1466.6 654.6,1464.9 659.9,1463.3 665.2,1461.6 670.6,1459.9 675.9,1458.2 681.3,1456.5 686.6,1454.8 691.9,1453.1 697.3,1451.4 702.6,1449.7 708.0,1448.0 713.3,1446.3 718.6,1444.6 724.0,1442.9 729.3,1441.2 734.7,1439.5 740.0,1437.8 745.3,1436.1 750.7,1434.4 756.0,1432.7 761.4,1431.0 766.7,1429.3 772.0,1427.6 777.4,1425.9 782.7,1424.1 788.1,1422.4 793.4,1420.7 798.7,1419.0 804.1,1417.3 809.4,1415.6 814.8,1413.9 820.1,1412.2 825.4,1410.5 830.8,1408.8 836.1,1407.1 841.5,1405.4 846.8,1403.6 852.1,1401.9 857.5,1400.2 862.8,1398.5 868.2,1396.8 873.5,1395.1 878.8,1393.4 884.2,1391.7 889.5,1390.0 894.9,1388.3 900.2,1386.6 900.2,1442.6 894.9,1443.3 889.5,1443.9 884.2,1444.6 878.8,1445.2 873.5,1445.8 868.2,1446.5 862.8,1447.1 857.5,1447.7 852.1,1448.4 846.8,1449.0 841.5,1449.7 836.1,1450.3 830.8,1450.9 825.4,1451.6 820.1,1452.2 814.8,1452.8 809.4,1453.5 804.1,1454.1 798.7,1454.8 793.4,1455.4 788.1,1456.0 782.7,1456.7 777.4,1457.3 772.0,1458.0 766.7,1458.6 761.4,1459.2 756.0,1459.9 750.7,1460.5 745.3,1461.2 740.0,1461.8 734.7,1462.4 729.3,1463.1 724.0,1463.7 718.6,1464.4 713.3,1465.0 708.0,1465.7 702.6,1466.3 697.3,1466.9 691.9,1467.6 686.6,1468.2 681.3,1468.9 675.9,1469.6 670.6,1470.2 665.2,1470.9 659.9,1471.5 654.6,1472.2 649.2,1472.9 643.9,1473.6 638.5,1474.4 633.2,1475.2 627.9,1476.1 622.5,1477.1 617.2,1478.3 611.8,1479.7 606.5,1481.3 601.2,1482.8 595.8,1484.5 590.5,1486.1 585.1,1487.8 579.8,1489.4" fill="#6a6b70" fill-opacity="0.085"/>
<line x1="579.8" y1="1485.0" x2="900.2" y2="1414.6" stroke="#6a6b70" stroke-width="5.4" stroke-linecap="round"/>
<g fill="#2373b7" fill-opacity="0.78">
<circle cx="1039.6" cy="1320.4" r="8.3"/><circle cx="1040.6" cy="1324.5" r="8.3"/><circle cx="1038.8" cy="1330.4" r="8.3"/><circle cx="1040.8" cy="1334.4" r="8.3"/><circle cx="1044.3" cy="1332.5" r="8.3"/><circle cx="1039.7" cy="1338.8" r="8.3"/><circle cx="1044.3" cy="1338.4" r="8.3"/><circle cx="1045.1" cy="1342.3" r="8.3"/><circle cx="1047.8" cy="1343.3" r="8.3"/><circle cx="1040.3" cy="1347.9" r="8.3"/><circle cx="1045.2" cy="1346.5" r="8.3"/><circle cx="1049.6" cy="1346.1" r="8.3"/><circle cx="1039.4" cy="1352.7" r="8.3"/><circle cx="1043.0" cy="1350.4" r="8.3"/><circle cx="1048.8" cy="1350.8" r="8.3"/><circle cx="1040.1" cy="1356.2" r="8.3"/><circle cx="1043.9" cy="1357.3" r="8.3"/><circle cx="1049.1" cy="1355.2" r="8.3"/><circle cx="1040.4" cy="1361.8" r="8.3"/><circle cx="1045.4" cy="1361.7" r="8.3"/><circle cx="1047.4" cy="1360.1" r="8.3"/><circle cx="1051.6" cy="1360.8" r="8.3"/><circle cx="1040.5" cy="1365.0" r="8.3"/><circle cx="1043.5" cy="1366.1" r="8.3"/><circle cx="1047.0" cy="1365.6" r="8.3"/><circle cx="1042.9" cy="1368.4" r="8.3"/><circle cx="1049.9" cy="1368.2" r="8.3"/><circle cx="1044.7" cy="1374.1" r="8.3"/><circle cx="1048.8" cy="1374.1" r="8.3"/><circle cx="1052.0" cy="1373.4" r="8.3"/><circle cx="1040.1" cy="1379.6" r="8.3"/><circle cx="1042.5" cy="1378.7" r="8.3"/><circle cx="1048.8" cy="1377.1" r="8.3"/><circle cx="1039.6" cy="1382.5" r="8.3"/><circle cx="1045.2" cy="1381.9" r="8.3"/><circle cx="1049.1" cy="1383.6" r="8.3"/><circle cx="1040.3" cy="1386.9" r="8.3"/><circle cx="1044.7" cy="1388.8" r="8.3"/><circle cx="1049.5" cy="1387.2" r="8.3"/><circle cx="1054.2" cy="1388.6" r="8.3"/><circle cx="1040.4" cy="1391.3" r="8.3"/><circle cx="1044.8" cy="1392.5" r="8.3"/><circle cx="1047.6" cy="1393.4" r="8.3"/><circle cx="1053.8" cy="1391.5" r="8.3"/><circle cx="1057.4" cy="1392.9" r="8.3"/><circle cx="1039.9" cy="1395.3" r="8.3"/><circle cx="1043.0" cy="1397.1" r="8.3"/><circle cx="1048.2" cy="1395.3" r="8.3"/><circle cx="1052.5" cy="1395.0" r="8.3"/><circle cx="1057.9" cy="1395.2" r="8.3"/><circle cx="1061.4" cy="1397.2" r="8.3"/><circle cx="1040.0" cy="1400.3" r="8.3"/><circle cx="1045.0" cy="1401.7" r="8.3"/><circle cx="1047.0" cy="1399.5" r="8.3"/><circle cx="1051.7" cy="1400.8" r="8.3"/><circle cx="1056.2" cy="1399.9" r="8.3"/><circle cx="1062.1" cy="1399.8" r="8.3"/><circle cx="1067.0" cy="1401.7" r="8.3"/><circle cx="1039.0" cy="1406.0" r="8.3"/><circle cx="1043.6" cy="1405.5" r="8.3"/><circle cx="1047.0" cy="1405.4" r="8.3"/><circle cx="1054.0" cy="1406.7" r="8.3"/><circle cx="1058.6" cy="1406.3" r="8.3"/><circle cx="1062.1" cy="1406.5" r="8.3"/><circle cx="1039.3" cy="1409.2" r="8.3"/><circle cx="1045.5" cy="1409.8" r="8.3"/><circle cx="1048.3" cy="1409.4" r="8.3"/><circle cx="1054.3" cy="1409.3" r="8.3"/><circle cx="1056.2" cy="1409.1" r="8.3"/><circle cx="1061.3" cy="1411.2" r="8.3"/><circle cx="1040.8" cy="1414.8" r="8.3"/><circle cx="1045.0" cy="1415.8" r="8.3"/><circle cx="1047.7" cy="1415.6" r="8.3"/><circle cx="1054.3" cy="1413.4" r="8.3"/><circle cx="1056.4" cy="1413.4" r="8.3"/><circle cx="1061.9" cy="1414.2" r="8.3"/><circle cx="1040.8" cy="1418.0" r="8.3"/><circle cx="1044.5" cy="1420.4" r="8.3"/><circle cx="1049.7" cy="1418.0" r="8.3"/><circle cx="1051.9" cy="1420.0" r="8.3"/><circle cx="1058.5" cy="1418.5" r="8.3"/><circle cx="1062.9" cy="1419.4" r="8.3"/><circle cx="1040.1" cy="1424.7" r="8.3"/><circle cx="1043.2" cy="1423.7" r="8.3"/><circle cx="1048.2" cy="1424.0" r="8.3"/><circle cx="1051.6" cy="1422.1" r="8.3"/><circle cx="1056.8" cy="1424.5" r="8.3"/><circle cx="1061.6" cy="1423.2" r="8.3"/><circle cx="1040.2" cy="1428.4" r="8.3"/><circle cx="1042.7" cy="1428.1" r="8.3"/><circle cx="1048.5" cy="1428.6" r="8.3"/><circle cx="1053.3" cy="1429.4" r="8.3"/><circle cx="1058.2" cy="1426.6" r="8.3"/><circle cx="1061.7" cy="1427.7" r="8.3"/><circle cx="1039.1" cy="1432.9" r="8.3"/><circle cx="1044.1" cy="1433.1" r="8.3"/><circle cx="1047.9" cy="1432.0" r="8.3"/><circle cx="1052.7" cy="1433.1" r="8.3"/><circle cx="1057.7" cy="1433.5" r="8.3"/><circle cx="1040.9" cy="1436.4" r="8.3"/><circle cx="1043.1" cy="1435.6" r="8.3"/><circle cx="1049.8" cy="1437.2" r="8.3"/><circle cx="1052.5" cy="1437.0" r="8.3"/><circle cx="1058.1" cy="1435.8" r="8.3"/><circle cx="1042.9" cy="1442.3" r="8.3"/><circle cx="1049.2" cy="1440.6" r="8.3"/><circle cx="1052.0" cy="1440.8" r="8.3"/><circle cx="1057.6" cy="1442.0" r="8.3"/><circle cx="1043.1" cy="1445.7" r="8.3"/><circle cx="1049.9" cy="1445.3" r="8.3"/><circle cx="1053.5" cy="1445.3" r="8.3"/><circle cx="1056.6" cy="1447.0" r="8.3"/><circle cx="1062.4" cy="1446.9" r="8.3"/><circle cx="1040.5" cy="1450.2" r="8.3"/><circle cx="1043.5" cy="1450.2" r="8.3"/><circle cx="1047.4" cy="1450.2" r="8.3"/><circle cx="1052.9" cy="1451.2" r="8.3"/><circle cx="1056.8" cy="1449.1" r="8.3"/><circle cx="1062.2" cy="1449.6" r="8.3"/><circle cx="1066.4" cy="1450.6" r="8.3"/><circle cx="1070.2" cy="1451.5" r="8.3"/><circle cx="1042.8" cy="1454.8" r="8.3"/><circle cx="1049.5" cy="1455.8" r="8.3"/><circle cx="1053.1" cy="1455.0" r="8.3"/><circle cx="1058.7" cy="1453.8" r="8.3"/><circle cx="1062.5" cy="1454.0" r="8.3"/><circle cx="1067.4" cy="1454.3" r="8.3"/><circle cx="1071.3" cy="1455.3" r="8.3"/><circle cx="1075.3" cy="1455.6" r="8.3"/><circle cx="1039.3" cy="1458.3" r="8.3"/><circle cx="1044.2" cy="1460.8" r="8.3"/><circle cx="1048.3" cy="1458.4" r="8.3"/><circle cx="1053.5" cy="1458.6" r="8.3"/><circle cx="1058.9" cy="1458.2" r="8.3"/><circle cx="1062.2" cy="1458.2" r="8.3"/><circle cx="1066.8" cy="1458.8" r="8.3"/><circle cx="1069.6" cy="1459.0" r="8.3"/><circle cx="1076.4" cy="1459.0" r="8.3"/><circle cx="1078.7" cy="1459.7" r="8.3"/><circle cx="1040.1" cy="1464.4" r="8.3"/><circle cx="1045.0" cy="1464.3" r="8.3"/><circle cx="1047.7" cy="1464.6" r="8.3"/><circle cx="1053.8" cy="1462.9" r="8.3"/><circle cx="1057.7" cy="1464.7" r="8.3"/><circle cx="1063.1" cy="1463.3" r="8.3"/><circle cx="1065.0" cy="1464.1" r="8.3"/><circle cx="1071.3" cy="1463.6" r="8.3"/><circle cx="1076.5" cy="1464.6" r="8.3"/><circle cx="1081.4" cy="1462.5" r="8.3"/><circle cx="1083.2" cy="1463.0" r="8.3"/><circle cx="1040.3" cy="1468.4" r="8.3"/><circle cx="1043.8" cy="1467.8" r="8.3"/><circle cx="1047.6" cy="1469.3" r="8.3"/><circle cx="1051.8" cy="1467.6" r="8.3"/><circle cx="1056.2" cy="1467.4" r="8.3"/><circle cx="1061.4" cy="1467.3" r="8.3"/><circle cx="1067.6" cy="1470.0" r="8.3"/><circle cx="1070.1" cy="1469.2" r="8.3"/><circle cx="1075.5" cy="1468.2" r="8.3"/><circle cx="1079.3" cy="1468.4" r="8.3"/><circle cx="1085.1" cy="1468.8" r="8.3"/><circle cx="1088.9" cy="1468.4" r="8.3"/><circle cx="1093.6" cy="1467.3" r="8.3"/><circle cx="1040.6" cy="1473.9" r="8.3"/><circle cx="1043.9" cy="1474.2" r="8.3"/><circle cx="1047.7" cy="1471.6" r="8.3"/><circle cx="1052.7" cy="1474.3" r="8.3"/><circle cx="1058.2" cy="1472.0" r="8.3"/><circle cx="1060.9" cy="1472.8" r="8.3"/><circle cx="1066.8" cy="1474.0" r="8.3"/><circle cx="1071.7" cy="1473.8" r="8.3"/><circle cx="1074.9" cy="1472.8" r="8.3"/><circle cx="1080.9" cy="1472.1" r="8.3"/><circle cx="1083.6" cy="1473.8" r="8.3"/><circle cx="1090.3" cy="1473.8" r="8.3"/><circle cx="1093.5" cy="1473.9" r="8.3"/><circle cx="1040.0" cy="1477.3" r="8.3"/><circle cx="1045.5" cy="1477.9" r="8.3"/><circle cx="1048.4" cy="1477.0" r="8.3"/><circle cx="1052.7" cy="1476.2" r="8.3"/><circle cx="1057.9" cy="1477.0" r="8.3"/><circle cx="1062.8" cy="1478.1" r="8.3"/><circle cx="1065.8" cy="1478.1" r="8.3"/><circle cx="1070.0" cy="1477.5" r="8.3"/><circle cx="1075.3" cy="1477.9" r="8.3"/><circle cx="1080.8" cy="1478.5" r="8.3"/><circle cx="1085.0" cy="1476.6" r="8.3"/><circle cx="1088.0" cy="1476.3" r="8.3"/><circle cx="1092.3" cy="1476.8" r="8.3"/><circle cx="1045.1" cy="1481.2" r="8.3"/><circle cx="1047.6" cy="1481.6" r="8.3"/><circle cx="1054.5" cy="1480.8" r="8.3"/><circle cx="1058.5" cy="1481.1" r="8.3"/><circle cx="1061.0" cy="1480.7" r="8.3"/><circle cx="1067.5" cy="1480.6" r="8.3"/><circle cx="1070.7" cy="1483.2" r="8.3"/><circle cx="1075.9" cy="1483.3" r="8.3"/><circle cx="1080.0" cy="1483.4" r="8.3"/><circle cx="1085.8" cy="1481.0" r="8.3"/><circle cx="1044.6" cy="1485.1" r="8.3"/><circle cx="1049.6" cy="1486.4" r="8.3"/><circle cx="1054.4" cy="1487.3" r="8.3"/><circle cx="1058.1" cy="1485.1" r="8.3"/><circle cx="1062.1" cy="1486.5" r="8.3"/><circle cx="1067.9" cy="1486.5" r="8.3"/><circle cx="1070.9" cy="1486.1" r="8.3"/><circle cx="1076.6" cy="1487.6" r="8.3"/><circle cx="1081.1" cy="1486.2" r="8.3"/><circle cx="1039.7" cy="1490.8" r="8.3"/><circle cx="1045.4" cy="1490.9" r="8.3"/><circle cx="1048.6" cy="1490.8" r="8.3"/><circle cx="1054.4" cy="1489.8" r="8.3"/><circle cx="1058.4" cy="1489.5" r="8.3"/><circle cx="1061.2" cy="1492.3" r="8.3"/><circle cx="1066.0" cy="1491.2" r="8.3"/><circle cx="1072.0" cy="1491.0" r="8.3"/><circle cx="1076.5" cy="1492.3" r="8.3"/><circle cx="1042.6" cy="1495.8" r="8.3"/><circle cx="1047.6" cy="1496.1" r="8.3"/><circle cx="1053.4" cy="1495.2" r="8.3"/><circle cx="1056.1" cy="1494.2" r="8.3"/><circle cx="1060.9" cy="1496.1" r="8.3"/><circle cx="1066.2" cy="1496.9" r="8.3"/><circle cx="1070.8" cy="1495.4" r="8.3"/><circle cx="1075.2" cy="1495.7" r="8.3"/><circle cx="1040.6" cy="1500.9" r="8.3"/><circle cx="1043.5" cy="1500.5" r="8.3"/><circle cx="1048.0" cy="1499.6" r="8.3"/><circle cx="1053.3" cy="1499.3" r="8.3"/><circle cx="1058.5" cy="1499.9" r="8.3"/><circle cx="1061.7" cy="1499.4" r="8.3"/><circle cx="1065.7" cy="1500.3" r="8.3"/><circle cx="1071.3" cy="1501.1" r="8.3"/><circle cx="1074.8" cy="1498.9" r="8.3"/><circle cx="1040.3" cy="1504.2" r="8.3"/><circle cx="1044.9" cy="1503.8" r="8.3"/><circle cx="1048.0" cy="1504.9" r="8.3"/><circle cx="1053.1" cy="1504.0" r="8.3"/><circle cx="1056.7" cy="1504.8" r="8.3"/><circle cx="1061.1" cy="1504.8" r="8.3"/><circle cx="1067.0" cy="1505.5" r="8.3"/><circle cx="1071.5" cy="1503.0" r="8.3"/><circle cx="1074.2" cy="1503.6" r="8.3"/><circle cx="1078.5" cy="1503.8" r="8.3"/><circle cx="1040.1" cy="1509.7" r="8.3"/><circle cx="1043.2" cy="1509.0" r="8.3"/><circle cx="1047.3" cy="1508.8" r="8.3"/><circle cx="1053.1" cy="1508.8" r="8.3"/><circle cx="1058.1" cy="1508.8" r="8.3"/><circle cx="1060.9" cy="1509.6" r="8.3"/><circle cx="1067.0" cy="1509.8" r="8.3"/><circle cx="1069.8" cy="1507.9" r="8.3"/><circle cx="1076.2" cy="1509.6" r="8.3"/><circle cx="1080.6" cy="1508.4" r="8.3"/><circle cx="1085.6" cy="1508.8" r="8.3"/><circle cx="1088.6" cy="1509.4" r="8.3"/><circle cx="1039.9" cy="1513.7" r="8.3"/><circle cx="1043.5" cy="1513.5" r="8.3"/><circle cx="1048.5" cy="1513.1" r="8.3"/><circle cx="1054.3" cy="1514.2" r="8.3"/><circle cx="1057.7" cy="1514.1" r="8.3"/><circle cx="1061.0" cy="1512.4" r="8.3"/><circle cx="1065.3" cy="1514.9" r="8.3"/><circle cx="1069.7" cy="1512.3" r="8.3"/><circle cx="1076.9" cy="1513.2" r="8.3"/><circle cx="1079.5" cy="1512.0" r="8.3"/><circle cx="1084.5" cy="1514.3" r="8.3"/><circle cx="1089.2" cy="1512.7" r="8.3"/><circle cx="1092.6" cy="1513.6" r="8.3"/><circle cx="1044.8" cy="1516.8" r="8.3"/><circle cx="1048.3" cy="1517.5" r="8.3"/><circle cx="1054.3" cy="1519.1" r="8.3"/><circle cx="1058.0" cy="1518.2" r="8.3"/><circle cx="1062.9" cy="1517.0" r="8.3"/><circle cx="1066.1" cy="1519.2" r="8.3"/><circle cx="1070.9" cy="1517.0" r="8.3"/><circle cx="1074.7" cy="1517.1" r="8.3"/><circle cx="1078.5" cy="1519.0" r="8.3"/><circle cx="1084.5" cy="1518.1" r="8.3"/><circle cx="1090.5" cy="1517.5" r="8.3"/><circle cx="1093.1" cy="1517.2" r="8.3"/><circle cx="1044.7" cy="1522.7" r="8.3"/><circle cx="1049.4" cy="1521.2" r="8.3"/><circle cx="1053.2" cy="1523.3" r="8.3"/><circle cx="1056.2" cy="1521.2" r="8.3"/><circle cx="1062.1" cy="1521.7" r="8.3"/><circle cx="1067.3" cy="1521.3" r="8.3"/><circle cx="1072.4" cy="1522.1" r="8.3"/><circle cx="1076.2" cy="1523.2" r="8.3"/><circle cx="1080.9" cy="1522.7" r="8.3"/><circle cx="1085.4" cy="1521.5" r="8.3"/><circle cx="1087.8" cy="1523.7" r="8.3"/><circle cx="1092.8" cy="1523.0" r="8.3"/><circle cx="1096.5" cy="1523.5" r="8.3"/><circle cx="1040.3" cy="1528.2" r="8.3"/><circle cx="1045.2" cy="1528.1" r="8.3"/><circle cx="1048.2" cy="1528.4" r="8.3"/><circle cx="1051.8" cy="1526.3" r="8.3"/><circle cx="1057.1" cy="1527.6" r="8.3"/><circle cx="1062.4" cy="1527.4" r="8.3"/><circle cx="1065.1" cy="1527.4" r="8.3"/><circle cx="1070.2" cy="1526.4" r="8.3"/><circle cx="1076.3" cy="1525.6" r="8.3"/><circle cx="1080.7" cy="1527.0" r="8.3"/><circle cx="1085.6" cy="1528.3" r="8.3"/><circle cx="1088.0" cy="1525.6" r="8.3"/><circle cx="1093.7" cy="1528.1" r="8.3"/><circle cx="1096.8" cy="1526.9" r="8.3"/><circle cx="1040.0" cy="1531.5" r="8.3"/><circle cx="1042.9" cy="1532.4" r="8.3"/><circle cx="1048.4" cy="1530.6" r="8.3"/><circle cx="1054.1" cy="1532.7" r="8.3"/><circle cx="1056.0" cy="1531.7" r="8.3"/><circle cx="1062.9" cy="1530.5" r="8.3"/><circle cx="1067.6" cy="1532.4" r="8.3"/><circle cx="1070.8" cy="1532.7" r="8.3"/><circle cx="1075.5" cy="1530.6" r="8.3"/><circle cx="1078.8" cy="1532.2" r="8.3"/><circle cx="1083.1" cy="1531.1" r="8.3"/><circle cx="1087.8" cy="1531.6" r="8.3"/><circle cx="1093.7" cy="1530.0" r="8.3"/><circle cx="1099.2" cy="1530.3" r="8.3"/><circle cx="1101.7" cy="1530.1" r="8.3"/><circle cx="1043.6" cy="1536.5" r="8.3"/><circle cx="1049.0" cy="1535.5" r="8.3"/><circle cx="1054.1" cy="1536.5" r="8.3"/><circle cx="1056.3" cy="1536.9" r="8.3"/><circle cx="1063.4" cy="1535.9" r="8.3"/><circle cx="1067.9" cy="1534.6" r="8.3"/><circle cx="1070.5" cy="1534.8" r="8.3"/><circle cx="1075.7" cy="1537.0" r="8.3"/><circle cx="1079.0" cy="1534.7" r="8.3"/><circle cx="1083.9" cy="1537.1" r="8.3"/><circle cx="1087.9" cy="1536.0" r="8.3"/><circle cx="1093.9" cy="1535.5" r="8.3"/><circle cx="1098.7" cy="1536.9" r="8.3"/><circle cx="1101.1" cy="1534.8" r="8.3"/><circle cx="1044.3" cy="1540.6" r="8.3"/><circle cx="1048.6" cy="1540.2" r="8.3"/><circle cx="1053.0" cy="1541.3" r="8.3"/><circle cx="1056.3" cy="1539.7" r="8.3"/><circle cx="1061.4" cy="1540.8" r="8.3"/><circle cx="1067.6" cy="1540.3" r="8.3"/><circle cx="1071.5" cy="1539.1" r="8.3"/><circle cx="1076.2" cy="1541.7" r="8.3"/><circle cx="1079.5" cy="1539.4" r="8.3"/><circle cx="1083.2" cy="1539.3" r="8.3"/><circle cx="1088.5" cy="1540.4" r="8.3"/><circle cx="1094.3" cy="1540.9" r="8.3"/><circle cx="1097.3" cy="1540.4" r="8.3"/><circle cx="1042.7" cy="1546.4" r="8.3"/><circle cx="1048.5" cy="1544.6" r="8.3"/><circle cx="1053.2" cy="1543.6" r="8.3"/><circle cx="1057.6" cy="1545.1" r="8.3"/><circle cx="1062.3" cy="1544.2" r="8.3"/><circle cx="1066.7" cy="1543.6" r="8.3"/><circle cx="1069.8" cy="1544.5" r="8.3"/><circle cx="1075.4" cy="1544.8" r="8.3"/><circle cx="1079.1" cy="1543.9" r="8.3"/><circle cx="1085.4" cy="1544.1" r="8.3"/><circle cx="1088.3" cy="1546.3" r="8.3"/><circle cx="1093.4" cy="1546.4" r="8.3"/><circle cx="1043.0" cy="1550.8" r="8.3"/><circle cx="1048.3" cy="1548.6" r="8.3"/><circle cx="1054.1" cy="1550.9" r="8.3"/><circle cx="1058.2" cy="1548.3" r="8.3"/><circle cx="1061.8" cy="1550.8" r="8.3"/><circle cx="1065.9" cy="1549.0" r="8.3"/><circle cx="1070.0" cy="1548.8" r="8.3"/><circle cx="1075.2" cy="1548.7" r="8.3"/><circle cx="1080.2" cy="1548.4" r="8.3"/><circle cx="1083.2" cy="1549.1" r="8.3"/><circle cx="1090.1" cy="1550.6" r="8.3"/><circle cx="1044.8" cy="1554.2" r="8.3"/><circle cx="1048.9" cy="1554.6" r="8.3"/><circle cx="1053.1" cy="1553.1" r="8.3"/><circle cx="1058.0" cy="1554.0" r="8.3"/><circle cx="1062.8" cy="1555.4" r="8.3"/><circle cx="1067.3" cy="1554.9" r="8.3"/><circle cx="1070.4" cy="1554.9" r="8.3"/><circle cx="1074.9" cy="1555.3" r="8.3"/><circle cx="1079.0" cy="1555.2" r="8.3"/><circle cx="1085.3" cy="1553.9" r="8.3"/><circle cx="1088.9" cy="1554.8" r="8.3"/><circle cx="1043.3" cy="1558.9" r="8.3"/><circle cx="1048.0" cy="1557.1" r="8.3"/><circle cx="1051.9" cy="1557.9" r="8.3"/><circle cx="1056.1" cy="1559.0" r="8.3"/><circle cx="1062.9" cy="1557.2" r="8.3"/><circle cx="1066.7" cy="1557.8" r="8.3"/><circle cx="1072.3" cy="1558.3" r="8.3"/><circle cx="1074.2" cy="1558.7" r="8.3"/><circle cx="1079.0" cy="1558.6" r="8.3"/><circle cx="1083.2" cy="1559.4" r="8.3"/><circle cx="1045.3" cy="1561.8" r="8.3"/><circle cx="1047.7" cy="1564.0" r="8.3"/><circle cx="1053.1" cy="1563.1" r="8.3"/><circle cx="1059.0" cy="1562.6" r="8.3"/><circle cx="1062.7" cy="1563.8" r="8.3"/><circle cx="1066.7" cy="1561.6" r="8.3"/><circle cx="1071.8" cy="1563.1" r="8.3"/><circle cx="1076.5" cy="1563.9" r="8.3"/><circle cx="1081.1" cy="1563.7" r="8.3"/><circle cx="1083.8" cy="1561.6" r="8.3"/><circle cx="1044.2" cy="1569.0" r="8.3"/><circle cx="1048.0" cy="1568.1" r="8.3"/><circle cx="1053.6" cy="1568.4" r="8.3"/><circle cx="1058.4" cy="1566.1" r="8.3"/><circle cx="1061.8" cy="1567.9" r="8.3"/><circle cx="1065.5" cy="1567.5" r="8.3"/><circle cx="1070.1" cy="1568.9" r="8.3"/><circle cx="1075.6" cy="1568.2" r="8.3"/><circle cx="1040.4" cy="1571.0" r="8.3"/><circle cx="1045.3" cy="1572.5" r="8.3"/><circle cx="1048.9" cy="1573.1" r="8.3"/><circle cx="1053.6" cy="1571.5" r="8.3"/><circle cx="1056.1" cy="1572.3" r="8.3"/><circle cx="1061.6" cy="1570.5" r="8.3"/><circle cx="1066.1" cy="1571.4" r="8.3"/><circle cx="1040.7" cy="1576.2" r="8.3"/><circle cx="1042.8" cy="1576.2" r="8.3"/><circle cx="1047.4" cy="1575.0" r="8.3"/><circle cx="1052.9" cy="1575.4" r="8.3"/><circle cx="1058.7" cy="1577.7" r="8.3"/><circle cx="1063.0" cy="1576.1" r="8.3"/><circle cx="1045.1" cy="1580.1" r="8.3"/><circle cx="1048.1" cy="1579.6" r="8.3"/><circle cx="1040.9" cy="1584.6" r="8.3"/><circle cx="1039.4" cy="1310.8" r="8.3"/><circle cx="1038.8" cy="1309.8" r="8.3"/><circle cx="1039.6" cy="1318.4" r="8.3"/><circle cx="1038.9" cy="1321.0" r="8.3"/><circle cx="1042.1" cy="1326.8" r="8.3"/><circle cx="1044.4" cy="1332.6" r="8.3"/><circle cx="1042.9" cy="1334.7" r="8.3"/><circle cx="1048.7" cy="1344.1" r="8.3"/><circle cx="1048.3" cy="1342.4" r="8.3"/><circle cx="1051.2" cy="1348.4" r="8.3"/><circle cx="1051.2" cy="1356.0" r="8.3"/><circle cx="1053.3" cy="1362.0" r="8.3"/><circle cx="1053.0" cy="1358.5" r="8.3"/><circle cx="1053.0" cy="1365.3" r="8.3"/><circle cx="1052.2" cy="1372.2" r="8.3"/><circle cx="1049.2" cy="1378.4" r="8.3"/><circle cx="1053.1" cy="1385.3" r="8.3"/><circle cx="1057.7" cy="1390.0" r="8.3"/><circle cx="1060.6" cy="1396.1" r="8.3"/><circle cx="1064.6" cy="1398.1" r="8.3"/><circle cx="1067.6" cy="1402.6" r="8.3"/><circle cx="1065.1" cy="1408.3" r="8.3"/><circle cx="1064.2" cy="1410.4" r="8.3"/><circle cx="1062.9" cy="1417.1" r="8.3"/><circle cx="1060.3" cy="1423.8" r="8.3"/><circle cx="1060.0" cy="1423.7" r="8.3"/><circle cx="1060.3" cy="1431.6" r="8.3"/><circle cx="1060.1" cy="1439.3" r="8.3"/><circle cx="1063.0" cy="1447.1" r="8.3"/><circle cx="1067.2" cy="1451.8" r="8.3"/><circle cx="1073.1" cy="1453.9" r="8.3"/><circle cx="1077.0" cy="1458.9" r="8.3"/><circle cx="1082.7" cy="1462.9" r="8.3"/><circle cx="1083.7" cy="1463.4" r="8.3"/><circle cx="1090.3" cy="1466.9" r="8.3"/><circle cx="1097.3" cy="1468.3" r="8.3"/><circle cx="1095.3" cy="1468.8" r="8.3"/><circle cx="1092.1" cy="1476.2" r="8.3"/><circle cx="1092.8" cy="1473.5" r="8.3"/><circle cx="1088.4" cy="1478.8" r="8.3"/><circle cx="1084.7" cy="1484.3" r="8.3"/><circle cx="1079.6" cy="1489.1" r="8.3"/><circle cx="1080.5" cy="1500.1" r="8.3"/><circle cx="1084.1" cy="1506.1" r="8.3"/><circle cx="1088.9" cy="1510.8" r="8.3"/><circle cx="1093.2" cy="1516.9" r="8.3"/><circle cx="1092.8" cy="1515.1" r="8.3"/><circle cx="1095.3" cy="1520.2" r="8.3"/><circle cx="1099.3" cy="1524.7" r="8.3"/><circle cx="1102.0" cy="1530.4" r="8.3"/><circle cx="1103.1" cy="1532.6" r="8.3"/><circle cx="1101.2" cy="1536.7" r="8.3"/><circle cx="1096.3" cy="1540.8" r="8.3"/><circle cx="1092.9" cy="1546.1" r="8.3"/><circle cx="1092.5" cy="1547.1" r="8.3"/><circle cx="1087.6" cy="1553.4" r="8.3"/><circle cx="1085.3" cy="1560.7" r="8.3"/><circle cx="1086.2" cy="1558.4" r="8.3"/><circle cx="1080.4" cy="1563.6" r="8.3"/><circle cx="1073.5" cy="1567.9" r="8.3"/><circle cx="1075.4" cy="1568.3" r="8.3"/><circle cx="1068.5" cy="1571.9" r="8.3"/><circle cx="1061.3" cy="1575.5" r="8.3"/><circle cx="1055.1" cy="1580.6" r="8.3"/><circle cx="1057.8" cy="1579.7" r="8.3"/><circle cx="1051.0" cy="1582.5" r="8.3"/><circle cx="1043.4" cy="1582.7" r="8.3"/><circle cx="1039.8" cy="1584.4" r="8.3"/><circle cx="1040.7" cy="1577.6" r="8.3"/><circle cx="1040.0" cy="1571.6" r="8.3"/><circle cx="1039.5" cy="1565.8" r="8.3"/><circle cx="1041.8" cy="1560.0" r="8.3"/><circle cx="1040.1" cy="1554.2" r="8.3"/><circle cx="1040.7" cy="1547.9" r="8.3"/><circle cx="1041.3" cy="1542.3" r="8.3"/><circle cx="1040.5" cy="1535.6" r="8.3"/><circle cx="1039.7" cy="1530.2" r="8.3"/><circle cx="1041.2" cy="1524.0" r="8.3"/><circle cx="1040.2" cy="1517.8" r="8.3"/><circle cx="1041.6" cy="1511.8" r="8.3"/><circle cx="1039.8" cy="1506.3" r="8.3"/><circle cx="1040.7" cy="1499.9" r="8.3"/><circle cx="1039.3" cy="1493.8" r="8.3"/><circle cx="1041.5" cy="1488.0" r="8.3"/><circle cx="1039.9" cy="1482.0" r="8.3"/><circle cx="1039.8" cy="1475.8" r="8.3"/><circle cx="1040.8" cy="1469.9" r="8.3"/><circle cx="1040.8" cy="1463.8" r="8.3"/><circle cx="1039.4" cy="1457.9" r="8.3"/><circle cx="1040.6" cy="1452.1" r="8.3"/><circle cx="1040.4" cy="1446.2" r="8.3"/><circle cx="1039.7" cy="1439.9" r="8.3"/><circle cx="1039.9" cy="1433.9" r="8.3"/><circle cx="1041.0" cy="1428.3" r="8.3"/><circle cx="1040.8" cy="1421.6" r="8.3"/><circle cx="1038.8" cy="1415.6" r="8.3"/><circle cx="1039.4" cy="1410.1" r="8.3"/><circle cx="1040.7" cy="1403.9" r="8.3"/><circle cx="1039.2" cy="1398.0" r="8.3"/><circle cx="1040.0" cy="1391.9" r="8.3"/><circle cx="1039.9" cy="1385.7" r="8.3"/><circle cx="1040.3" cy="1380.0" r="8.3"/><circle cx="1040.7" cy="1373.9" r="8.3"/><circle cx="1039.7" cy="1368.0" r="8.3"/><circle cx="1040.1" cy="1361.8" r="8.3"/><circle cx="1040.5" cy="1355.9" r="8.3"/><circle cx="1039.0" cy="1350.0" r="8.3"/><circle cx="1040.2" cy="1343.8" r="8.3"/><circle cx="1040.0" cy="1338.1" r="8.3"/><circle cx="1038.9" cy="1332.2" r="8.3"/><circle cx="1038.8" cy="1326.0" r="8.3"/><circle cx="1040.3" cy="1320.0" r="8.3"/><circle cx="1039.4" cy="1313.6" r="8.3"/><circle cx="1073.1" cy="1329.4" r="8.3"/><circle cx="1065.8" cy="1344.0" r="8.3"/><circle cx="1056.6" cy="1357.7" r="8.3"/><circle cx="1074.9" cy="1374.2" r="8.3"/><circle cx="1074.9" cy="1386.1" r="8.3"/><circle cx="1086.8" cy="1408.1" r="8.3"/><circle cx="1092.3" cy="1408.1" r="8.3"/><circle cx="1092.3" cy="1430.0" r="8.3"/><circle cx="1102.4" cy="1427.3" r="8.3"/><circle cx="1115.2" cy="1429.1" r="8.3"/><circle cx="1100.5" cy="1441.0" r="8.3"/><circle cx="1119.8" cy="1445.6" r="8.3"/><circle cx="1063.9" cy="1420.0" r="8.3"/><circle cx="1071.0" cy="1392.4" r="8.3"/><circle cx="1065.3" cy="1398.1" r="8.3"/><circle cx="1142.2" cy="1479.3" r="8.3"/><circle cx="1169.3" cy="1485.0" r="8.3"/><circle cx="1169.3" cy="1500.6" r="8.3"/><circle cx="1116.6" cy="1475.0" r="8.3"/><circle cx="1122.3" cy="1489.2" r="8.3"/><circle cx="1102.3" cy="1466.5" r="8.3"/><circle cx="1099.5" cy="1477.9" r="8.3"/><circle cx="1233.4" cy="1503.5" r="8.3"/><circle cx="1220.5" cy="1513.5" r="8.3"/><circle cx="1159.3" cy="1522.0" r="8.3"/><circle cx="1167.8" cy="1527.7" r="8.3"/><circle cx="1180.7" cy="1527.7" r="8.3"/><circle cx="1133.7" cy="1520.6" r="8.3"/><circle cx="1122.3" cy="1530.5" r="8.3"/><circle cx="1095.2" cy="1516.3" r="8.3"/><circle cx="1095.2" cy="1530.5" r="8.3"/><circle cx="1142.2" cy="1541.9" r="8.3"/><circle cx="1150.8" cy="1549.1" r="8.3"/><circle cx="1159.3" cy="1547.6" r="8.3"/><circle cx="1167.8" cy="1549.1" r="8.3"/><circle cx="1122.3" cy="1549.1" r="8.3"/><circle cx="1113.7" cy="1559.0" r="8.3"/><circle cx="1093.8" cy="1560.5" r="8.3"/><circle cx="1085.3" cy="1566.2" r="8.3"/><circle cx="1207.7" cy="1532.0" r="8.3"/><circle cx="1199.2" cy="1553.3" r="8.3"/><circle cx="1240.5" cy="1540.5" r="8.3"/><circle cx="1241.9" cy="1554.8" r="8.3"/><circle cx="1147.9" cy="1567.6" r="8.3"/><circle cx="1170.7" cy="1571.8" r="8.3"/><circle cx="1170.7" cy="1581.8" r="8.3"/><circle cx="1202.0" cy="1576.1" r="8.3"/><circle cx="1118.0" cy="1581.8" r="8.3"/><circle cx="1096.6" cy="1580.4" r="8.3"/><circle cx="1068.2" cy="1574.7" r="8.3"/><circle cx="1048.2" cy="1601.8" r="8.3"/><circle cx="1277.5" cy="1596.1" r="8.3"/><circle cx="1290.3" cy="1598.9" r="8.3"/><circle cx="1039.7" cy="1591.8" r="8.3"/><circle cx="1099.8" cy="1442.9" r="8.3"/><circle cx="1119.2" cy="1446.8" r="8.3"/><circle cx="1104.6" cy="1464.3" r="8.3"/><circle cx="1117.3" cy="1477.0" r="8.3"/><circle cx="1119.2" cy="1489.6" r="8.3"/><circle cx="1142.6" cy="1479.9" r="8.3"/><circle cx="1117.3" cy="1506.1" r="8.3"/><circle cx="1131.9" cy="1521.7" r="8.3"/><circle cx="1160.1" cy="1522.7" r="8.3"/><circle cx="1176.6" cy="1525.6" r="8.3"/><circle cx="1122.1" cy="1530.5" r="8.3"/><circle cx="1121.2" cy="1549.0" r="8.3"/><circle cx="1113.4" cy="1559.6" r="8.3"/><circle cx="1142.6" cy="1544.1" r="8.3"/><circle cx="1151.3" cy="1549.0" r="8.3"/><circle cx="1168.8" cy="1549.9" r="8.3"/><circle cx="1094.9" cy="1561.6" r="8.3"/><circle cx="1086.1" cy="1566.5" r="8.3"/><circle cx="1147.4" cy="1568.4" r="8.3"/><circle cx="1170.8" cy="1573.3" r="8.3"/><circle cx="1170.8" cy="1582.0" r="8.3"/><circle cx="1096.8" cy="1581.0" r="8.3"/><circle cx="1117.3" cy="1583.0" r="8.3"/><circle cx="1068.6" cy="1576.2" r="8.3"/><circle cx="1049.2" cy="1602.5" r="8.3"/><circle cx="1039.0" cy="1310.5" r="8.3"/><circle cx="1039.0" cy="1318.0" r="8.3"/><circle cx="1040.0" cy="1326.0" r="8.3"/>
</g>
<polygon points="1019.8,1449.5 1024.6,1452.5 1029.5,1455.5 1034.3,1458.4 1039.2,1461.3 1044.0,1464.0 1048.8,1466.7 1053.7,1469.2 1058.5,1471.6 1063.4,1474.0 1068.2,1476.4 1073.1,1478.7 1077.9,1481.0 1082.7,1483.3 1087.6,1485.6 1092.4,1487.9 1097.3,1490.1 1102.1,1492.4 1107.0,1494.7 1111.8,1496.9 1116.6,1499.2 1121.5,1501.4 1126.3,1503.7 1131.2,1506.0 1136.0,1508.2 1140.8,1510.5 1145.7,1512.7 1150.5,1515.0 1155.4,1517.2 1160.2,1519.5 1165.0,1521.7 1169.9,1524.0 1174.7,1526.2 1179.6,1528.5 1184.4,1530.7 1189.3,1533.0 1194.1,1535.2 1198.9,1537.5 1203.8,1539.8 1208.6,1542.0 1213.5,1544.3 1218.3,1546.5 1223.1,1548.8 1228.0,1551.0 1232.8,1553.3 1237.7,1555.5 1242.5,1557.8 1247.4,1560.0 1252.2,1562.3 1257.0,1564.5 1261.9,1566.8 1266.7,1569.0 1271.6,1571.3 1276.4,1573.5 1281.2,1575.8 1286.1,1578.0 1290.9,1580.3 1295.8,1582.5 1300.6,1584.8 1305.5,1587.0 1310.3,1589.3 1310.3,1635.3 1305.5,1632.3 1300.6,1629.2 1295.8,1626.1 1290.9,1623.0 1286.1,1619.9 1281.2,1616.8 1276.4,1613.7 1271.6,1610.7 1266.7,1607.6 1261.9,1604.5 1257.0,1601.4 1252.2,1598.3 1247.4,1595.2 1242.5,1592.1 1237.7,1589.0 1232.8,1586.0 1228.0,1582.9 1223.1,1579.8 1218.3,1576.7 1213.5,1573.6 1208.6,1570.5 1203.8,1567.4 1198.9,1564.4 1194.1,1561.3 1189.3,1558.2 1184.4,1555.1 1179.6,1552.0 1174.7,1548.9 1169.9,1545.8 1165.0,1542.8 1160.2,1539.7 1155.4,1536.6 1150.5,1533.5 1145.7,1530.4 1140.8,1527.3 1136.0,1524.3 1131.2,1521.2 1126.3,1518.1 1121.5,1515.0 1116.6,1512.0 1111.8,1508.9 1107.0,1505.8 1102.1,1502.7 1097.3,1499.7 1092.4,1496.6 1087.6,1493.5 1082.7,1490.5 1077.9,1487.4 1073.1,1484.4 1068.2,1481.4 1063.4,1478.4 1058.5,1475.4 1053.7,1472.6 1048.8,1469.7 1044.0,1467.0 1039.2,1464.5 1034.3,1462.0 1029.5,1459.6 1024.6,1457.2 1019.8,1454.9" fill="#6a6b70" fill-opacity="0.085"/>
<line x1="1019.8" y1="1452.2" x2="1310.3" y2="1612.3" stroke="#58585c" stroke-width="5.4" stroke-linecap="round"/>
<text x="302.9" y="928.7" font-size="16.5" textLength="75.3" lengthAdjust="spacingAndGlyphs" fill="#222">ICD9: 719</text>
<text x="287.3" y="950.4" font-size="16.5" textLength="75.5" lengthAdjust="spacingAndGlyphs" fill="#222">ICD9: 780</text>
<text x="438.2" y="931.0" font-size="16.5" textLength="74.7" lengthAdjust="spacingAndGlyphs" fill="#222">ICD9: 367</text>
<text x="416.2" y="1129.4" font-size="16.5" textLength="75.6" lengthAdjust="spacingAndGlyphs" fill="#222">ICD9: 799</text>
<text x="793.4" y="1373.9" font-size="16.5" textLength="74.9" lengthAdjust="spacingAndGlyphs" fill="#222">ICD9: 486</text>
<text x="885.9" y="1379.6" font-size="16.5" textLength="75.8" lengthAdjust="spacingAndGlyphs" fill="#222">ICD9: 518</text>
<text x="887.3" y="1460.8" font-size="16.5" textLength="76.4" lengthAdjust="spacingAndGlyphs" fill="#222">ICD9: 998</text>
<text x="874.5" y="1504.9" font-size="16.5" textLength="75.8" lengthAdjust="spacingAndGlyphs" fill="#222">ICD9: 682</text>
<text x="813.3" y="1536.2" font-size="16.5" textLength="75.8" lengthAdjust="spacingAndGlyphs" fill="#222">ICD9: 879</text>
<line x1="382.4" y1="920.8" x2="391.6" y2="931.1" stroke="#2a2a2a" stroke-width="1.3"/>
<line x1="367.5" y1="943.4" x2="388.6" y2="948.0" stroke="#2a2a2a" stroke-width="1.3"/>
<line x1="422.5" y1="934.1" x2="436.4" y2="924.4" stroke="#2a2a2a" stroke-width="1.3"/>
<line x1="413.2" y1="1111.5" x2="418.6" y2="1116.0" stroke="#2a2a2a" stroke-width="1.3"/>
<line x1="810.5" y1="1375.3" x2="806.2" y2="1383.9" stroke="#2a2a2a" stroke-width="1.3"/>
<line x1="868.9" y1="1383.9" x2="880.3" y2="1378.7" stroke="#2a2a2a" stroke-width="1.3"/>
<line x1="874.6" y1="1442.3" x2="884.0" y2="1450.8" stroke="#2a2a2a" stroke-width="1.3"/>
<line x1="874.6" y1="1483.0" x2="879.5" y2="1488.1" stroke="#2a2a2a" stroke-width="1.3"/>
<line x1="818.5" y1="1469.3" x2="836.7" y2="1517.7" stroke="#2a2a2a" stroke-width="1.3"/>
<defs><linearGradient id="fa" x1="0" x2="1" y1="0" y2="0"><stop offset="0" stop-color="#a9c6e3"/><stop offset="1" stop-color="#eef4fa"/></linearGradient><linearGradient id="fb" x1="0" x2="1" y1="0" y2="0"><stop offset="0" stop-color="#f2f6fb"/><stop offset="1" stop-color="#a9c6e3"/></linearGradient></defs>
<polygon points="1445.7,215.3 1516.9,219.2 1516.9,220.8 1445.7,217.5" fill="url(#fa)"/>
<polygon points="1670.1,226.8 1732.4,230.6 1732.4,232.4 1670.1,228.4" fill="url(#fb)"/>
</svg></body></html>
